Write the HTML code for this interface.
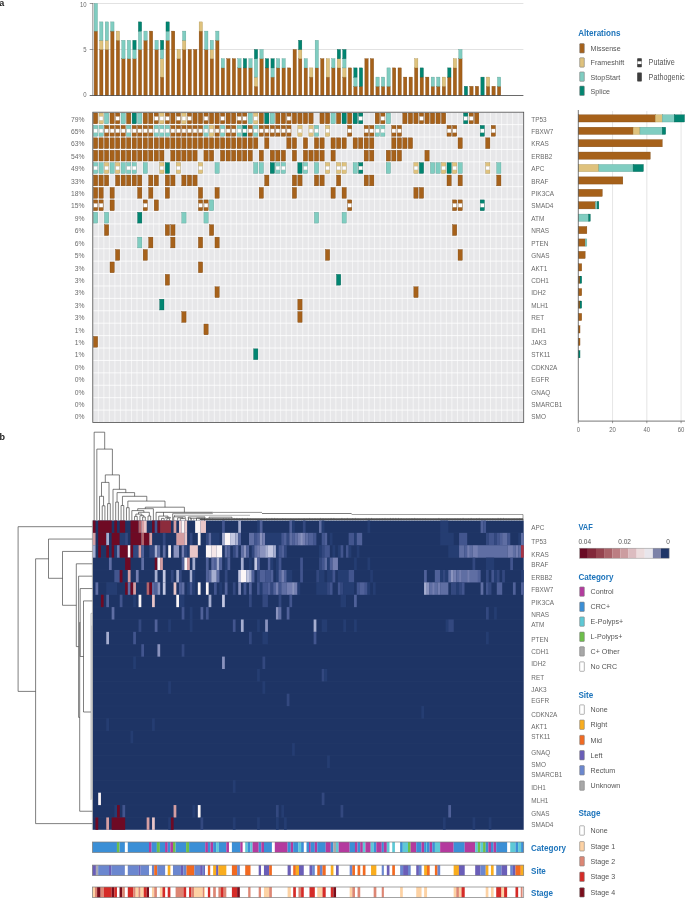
<!DOCTYPE html>
<html lang="en"><head><meta charset="utf-8"><title>Figure</title>
<style>html,body{margin:0;padding:0;background:#fff}svg{display:block}</style></head>
<body>
<svg width="685" height="898" viewBox="0 0 685 898" font-family='"Liberation Sans", sans-serif'>
<rect x="0" y="0" width="685" height="898" fill="#ffffff"/>
<text transform="translate(-0.80,6.00) scale(0.95,1)" font-size="9.5" text-anchor="start" fill="#222" font-weight="bold">a</text>
<text transform="translate(-0.50,440.00) scale(0.95,1)" font-size="9.5" text-anchor="start" fill="#222" font-weight="bold">b</text>
<line x1="92.85" y1="3.50" x2="523.40" y2="3.50" stroke="#cfcfcf" stroke-width="0.6"/>
<line x1="92.85" y1="49.50" x2="523.40" y2="49.50" stroke="#cfcfcf" stroke-width="0.6"/>
<rect x="94.16" y="31.10" width="3.30" height="64.40" fill="#a6611a" stroke="#7a4510" stroke-width="0.35"/>
<rect x="94.16" y="3.50" width="3.30" height="27.60" fill="#80cdc1" stroke="#5a9c92" stroke-width="0.35"/>
<rect x="99.69" y="49.50" width="3.30" height="46.00" fill="#a6611a" stroke="#7a4510" stroke-width="0.35"/>
<rect x="99.69" y="40.30" width="3.30" height="9.20" fill="#dfc27d" stroke="#a8904f" stroke-width="0.35"/>
<rect x="99.69" y="21.90" width="3.30" height="18.40" fill="#80cdc1" stroke="#5a9c92" stroke-width="0.35"/>
<rect x="105.21" y="49.50" width="3.30" height="46.00" fill="#a6611a" stroke="#7a4510" stroke-width="0.35"/>
<rect x="105.21" y="40.30" width="3.30" height="9.20" fill="#dfc27d" stroke="#a8904f" stroke-width="0.35"/>
<rect x="105.21" y="21.90" width="3.30" height="18.40" fill="#80cdc1" stroke="#5a9c92" stroke-width="0.35"/>
<rect x="110.74" y="31.10" width="3.30" height="64.40" fill="#a6611a" stroke="#7a4510" stroke-width="0.35"/>
<rect x="110.74" y="21.90" width="3.30" height="9.20" fill="#80cdc1" stroke="#5a9c92" stroke-width="0.35"/>
<rect x="116.26" y="40.30" width="3.30" height="55.20" fill="#a6611a" stroke="#7a4510" stroke-width="0.35"/>
<rect x="116.26" y="31.10" width="3.30" height="9.20" fill="#dfc27d" stroke="#a8904f" stroke-width="0.35"/>
<rect x="121.78" y="58.70" width="3.30" height="36.80" fill="#a6611a" stroke="#7a4510" stroke-width="0.35"/>
<rect x="121.78" y="40.30" width="3.30" height="18.40" fill="#80cdc1" stroke="#5a9c92" stroke-width="0.35"/>
<rect x="127.31" y="58.70" width="3.30" height="36.80" fill="#a6611a" stroke="#7a4510" stroke-width="0.35"/>
<rect x="127.31" y="40.30" width="3.30" height="18.40" fill="#80cdc1" stroke="#5a9c92" stroke-width="0.35"/>
<rect x="132.83" y="58.70" width="3.30" height="36.80" fill="#a6611a" stroke="#7a4510" stroke-width="0.35"/>
<rect x="132.83" y="49.50" width="3.30" height="9.20" fill="#80cdc1" stroke="#5a9c92" stroke-width="0.35"/>
<rect x="132.83" y="40.30" width="3.30" height="9.20" fill="#018571" stroke="#015c4e" stroke-width="0.35"/>
<rect x="138.36" y="49.50" width="3.30" height="46.00" fill="#a6611a" stroke="#7a4510" stroke-width="0.35"/>
<rect x="138.36" y="31.10" width="3.30" height="18.40" fill="#80cdc1" stroke="#5a9c92" stroke-width="0.35"/>
<rect x="138.36" y="21.90" width="3.30" height="9.20" fill="#018571" stroke="#015c4e" stroke-width="0.35"/>
<rect x="143.88" y="40.30" width="3.30" height="55.20" fill="#a6611a" stroke="#7a4510" stroke-width="0.35"/>
<rect x="143.88" y="31.10" width="3.30" height="9.20" fill="#80cdc1" stroke="#5a9c92" stroke-width="0.35"/>
<rect x="149.41" y="31.10" width="3.30" height="64.40" fill="#a6611a" stroke="#7a4510" stroke-width="0.35"/>
<rect x="154.93" y="49.50" width="3.30" height="46.00" fill="#a6611a" stroke="#7a4510" stroke-width="0.35"/>
<rect x="154.93" y="40.30" width="3.30" height="9.20" fill="#80cdc1" stroke="#5a9c92" stroke-width="0.35"/>
<rect x="160.45" y="77.10" width="3.30" height="18.40" fill="#a6611a" stroke="#7a4510" stroke-width="0.35"/>
<rect x="160.45" y="58.70" width="3.30" height="18.40" fill="#dfc27d" stroke="#a8904f" stroke-width="0.35"/>
<rect x="160.45" y="49.50" width="3.30" height="9.20" fill="#80cdc1" stroke="#5a9c92" stroke-width="0.35"/>
<rect x="160.45" y="40.30" width="3.30" height="9.20" fill="#018571" stroke="#015c4e" stroke-width="0.35"/>
<rect x="165.98" y="40.30" width="3.30" height="55.20" fill="#a6611a" stroke="#7a4510" stroke-width="0.35"/>
<rect x="165.98" y="31.10" width="3.30" height="9.20" fill="#80cdc1" stroke="#5a9c92" stroke-width="0.35"/>
<rect x="165.98" y="21.90" width="3.30" height="9.20" fill="#018571" stroke="#015c4e" stroke-width="0.35"/>
<rect x="171.50" y="31.10" width="3.30" height="64.40" fill="#a6611a" stroke="#7a4510" stroke-width="0.35"/>
<rect x="177.03" y="58.70" width="3.30" height="36.80" fill="#a6611a" stroke="#7a4510" stroke-width="0.35"/>
<rect x="177.03" y="49.50" width="3.30" height="9.20" fill="#dfc27d" stroke="#a8904f" stroke-width="0.35"/>
<rect x="182.55" y="49.50" width="3.30" height="46.00" fill="#a6611a" stroke="#7a4510" stroke-width="0.35"/>
<rect x="182.55" y="40.30" width="3.30" height="9.20" fill="#dfc27d" stroke="#a8904f" stroke-width="0.35"/>
<rect x="182.55" y="31.10" width="3.30" height="9.20" fill="#80cdc1" stroke="#5a9c92" stroke-width="0.35"/>
<rect x="188.08" y="49.50" width="3.30" height="46.00" fill="#a6611a" stroke="#7a4510" stroke-width="0.35"/>
<rect x="193.60" y="49.50" width="3.30" height="46.00" fill="#a6611a" stroke="#7a4510" stroke-width="0.35"/>
<rect x="199.13" y="31.10" width="3.30" height="64.40" fill="#a6611a" stroke="#7a4510" stroke-width="0.35"/>
<rect x="199.13" y="21.90" width="3.30" height="9.20" fill="#dfc27d" stroke="#a8904f" stroke-width="0.35"/>
<rect x="204.65" y="49.50" width="3.30" height="46.00" fill="#a6611a" stroke="#7a4510" stroke-width="0.35"/>
<rect x="204.65" y="31.10" width="3.30" height="18.40" fill="#80cdc1" stroke="#5a9c92" stroke-width="0.35"/>
<rect x="210.17" y="58.70" width="3.30" height="36.80" fill="#a6611a" stroke="#7a4510" stroke-width="0.35"/>
<rect x="210.17" y="49.50" width="3.30" height="9.20" fill="#dfc27d" stroke="#a8904f" stroke-width="0.35"/>
<rect x="210.17" y="40.30" width="3.30" height="9.20" fill="#80cdc1" stroke="#5a9c92" stroke-width="0.35"/>
<rect x="215.70" y="40.30" width="3.30" height="55.20" fill="#a6611a" stroke="#7a4510" stroke-width="0.35"/>
<rect x="215.70" y="31.10" width="3.30" height="9.20" fill="#80cdc1" stroke="#5a9c92" stroke-width="0.35"/>
<rect x="221.22" y="67.90" width="3.30" height="27.60" fill="#a6611a" stroke="#7a4510" stroke-width="0.35"/>
<rect x="221.22" y="58.70" width="3.30" height="9.20" fill="#80cdc1" stroke="#5a9c92" stroke-width="0.35"/>
<rect x="226.75" y="58.70" width="3.30" height="36.80" fill="#a6611a" stroke="#7a4510" stroke-width="0.35"/>
<rect x="232.27" y="58.70" width="3.30" height="36.80" fill="#a6611a" stroke="#7a4510" stroke-width="0.35"/>
<rect x="237.80" y="67.90" width="3.30" height="27.60" fill="#a6611a" stroke="#7a4510" stroke-width="0.35"/>
<rect x="237.80" y="58.70" width="3.30" height="9.20" fill="#80cdc1" stroke="#5a9c92" stroke-width="0.35"/>
<rect x="243.32" y="67.90" width="3.30" height="27.60" fill="#a6611a" stroke="#7a4510" stroke-width="0.35"/>
<rect x="243.32" y="58.70" width="3.30" height="9.20" fill="#018571" stroke="#015c4e" stroke-width="0.35"/>
<rect x="248.84" y="67.90" width="3.30" height="27.60" fill="#a6611a" stroke="#7a4510" stroke-width="0.35"/>
<rect x="248.84" y="58.70" width="3.30" height="9.20" fill="#80cdc1" stroke="#5a9c92" stroke-width="0.35"/>
<rect x="254.37" y="86.30" width="3.30" height="9.20" fill="#a6611a" stroke="#7a4510" stroke-width="0.35"/>
<rect x="254.37" y="77.10" width="3.30" height="9.20" fill="#dfc27d" stroke="#a8904f" stroke-width="0.35"/>
<rect x="254.37" y="58.70" width="3.30" height="18.40" fill="#80cdc1" stroke="#5a9c92" stroke-width="0.35"/>
<rect x="254.37" y="49.50" width="3.30" height="9.20" fill="#018571" stroke="#015c4e" stroke-width="0.35"/>
<rect x="259.89" y="58.70" width="3.30" height="36.80" fill="#a6611a" stroke="#7a4510" stroke-width="0.35"/>
<rect x="259.89" y="49.50" width="3.30" height="9.20" fill="#80cdc1" stroke="#5a9c92" stroke-width="0.35"/>
<rect x="265.42" y="67.90" width="3.30" height="27.60" fill="#a6611a" stroke="#7a4510" stroke-width="0.35"/>
<rect x="265.42" y="58.70" width="3.30" height="9.20" fill="#018571" stroke="#015c4e" stroke-width="0.35"/>
<rect x="270.94" y="77.10" width="3.30" height="18.40" fill="#a6611a" stroke="#7a4510" stroke-width="0.35"/>
<rect x="270.94" y="67.90" width="3.30" height="9.20" fill="#80cdc1" stroke="#5a9c92" stroke-width="0.35"/>
<rect x="270.94" y="58.70" width="3.30" height="9.20" fill="#018571" stroke="#015c4e" stroke-width="0.35"/>
<rect x="276.47" y="67.90" width="3.30" height="27.60" fill="#a6611a" stroke="#7a4510" stroke-width="0.35"/>
<rect x="276.47" y="58.70" width="3.30" height="9.20" fill="#80cdc1" stroke="#5a9c92" stroke-width="0.35"/>
<rect x="281.99" y="67.90" width="3.30" height="27.60" fill="#a6611a" stroke="#7a4510" stroke-width="0.35"/>
<rect x="281.99" y="58.70" width="3.30" height="9.20" fill="#80cdc1" stroke="#5a9c92" stroke-width="0.35"/>
<rect x="287.51" y="67.90" width="3.30" height="27.60" fill="#a6611a" stroke="#7a4510" stroke-width="0.35"/>
<rect x="293.04" y="49.50" width="3.30" height="46.00" fill="#a6611a" stroke="#7a4510" stroke-width="0.35"/>
<rect x="298.56" y="58.70" width="3.30" height="36.80" fill="#a6611a" stroke="#7a4510" stroke-width="0.35"/>
<rect x="298.56" y="49.50" width="3.30" height="9.20" fill="#dfc27d" stroke="#a8904f" stroke-width="0.35"/>
<rect x="298.56" y="40.30" width="3.30" height="9.20" fill="#018571" stroke="#015c4e" stroke-width="0.35"/>
<rect x="304.09" y="67.90" width="3.30" height="27.60" fill="#a6611a" stroke="#7a4510" stroke-width="0.35"/>
<rect x="304.09" y="58.70" width="3.30" height="9.20" fill="#80cdc1" stroke="#5a9c92" stroke-width="0.35"/>
<rect x="309.61" y="77.10" width="3.30" height="18.40" fill="#a6611a" stroke="#7a4510" stroke-width="0.35"/>
<rect x="309.61" y="67.90" width="3.30" height="9.20" fill="#dfc27d" stroke="#a8904f" stroke-width="0.35"/>
<rect x="315.14" y="67.90" width="3.30" height="27.60" fill="#a6611a" stroke="#7a4510" stroke-width="0.35"/>
<rect x="315.14" y="40.30" width="3.30" height="27.60" fill="#80cdc1" stroke="#5a9c92" stroke-width="0.35"/>
<rect x="320.66" y="58.70" width="3.30" height="36.80" fill="#a6611a" stroke="#7a4510" stroke-width="0.35"/>
<rect x="326.19" y="77.10" width="3.30" height="18.40" fill="#a6611a" stroke="#7a4510" stroke-width="0.35"/>
<rect x="326.19" y="58.70" width="3.30" height="18.40" fill="#dfc27d" stroke="#a8904f" stroke-width="0.35"/>
<rect x="331.71" y="67.90" width="3.30" height="27.60" fill="#a6611a" stroke="#7a4510" stroke-width="0.35"/>
<rect x="331.71" y="58.70" width="3.30" height="9.20" fill="#80cdc1" stroke="#5a9c92" stroke-width="0.35"/>
<rect x="337.23" y="67.90" width="3.30" height="27.60" fill="#a6611a" stroke="#7a4510" stroke-width="0.35"/>
<rect x="337.23" y="58.70" width="3.30" height="9.20" fill="#dfc27d" stroke="#a8904f" stroke-width="0.35"/>
<rect x="337.23" y="49.50" width="3.30" height="9.20" fill="#018571" stroke="#015c4e" stroke-width="0.35"/>
<rect x="342.76" y="77.10" width="3.30" height="18.40" fill="#a6611a" stroke="#7a4510" stroke-width="0.35"/>
<rect x="342.76" y="67.90" width="3.30" height="9.20" fill="#dfc27d" stroke="#a8904f" stroke-width="0.35"/>
<rect x="342.76" y="58.70" width="3.30" height="9.20" fill="#80cdc1" stroke="#5a9c92" stroke-width="0.35"/>
<rect x="342.76" y="49.50" width="3.30" height="9.20" fill="#018571" stroke="#015c4e" stroke-width="0.35"/>
<rect x="348.28" y="67.90" width="3.30" height="27.60" fill="#a6611a" stroke="#7a4510" stroke-width="0.35"/>
<rect x="353.81" y="86.30" width="3.30" height="9.20" fill="#a6611a" stroke="#7a4510" stroke-width="0.35"/>
<rect x="353.81" y="77.10" width="3.30" height="9.20" fill="#80cdc1" stroke="#5a9c92" stroke-width="0.35"/>
<rect x="353.81" y="67.90" width="3.30" height="9.20" fill="#018571" stroke="#015c4e" stroke-width="0.35"/>
<rect x="359.33" y="86.30" width="3.30" height="9.20" fill="#a6611a" stroke="#7a4510" stroke-width="0.35"/>
<rect x="359.33" y="67.90" width="3.30" height="18.40" fill="#018571" stroke="#015c4e" stroke-width="0.35"/>
<rect x="364.86" y="58.70" width="3.30" height="36.80" fill="#a6611a" stroke="#7a4510" stroke-width="0.35"/>
<rect x="370.38" y="58.70" width="3.30" height="36.80" fill="#a6611a" stroke="#7a4510" stroke-width="0.35"/>
<rect x="375.90" y="86.30" width="3.30" height="9.20" fill="#a6611a" stroke="#7a4510" stroke-width="0.35"/>
<rect x="375.90" y="77.10" width="3.30" height="9.20" fill="#80cdc1" stroke="#5a9c92" stroke-width="0.35"/>
<rect x="381.43" y="86.30" width="3.30" height="9.20" fill="#a6611a" stroke="#7a4510" stroke-width="0.35"/>
<rect x="381.43" y="77.10" width="3.30" height="9.20" fill="#80cdc1" stroke="#5a9c92" stroke-width="0.35"/>
<rect x="386.95" y="86.30" width="3.30" height="9.20" fill="#a6611a" stroke="#7a4510" stroke-width="0.35"/>
<rect x="386.95" y="67.90" width="3.30" height="18.40" fill="#80cdc1" stroke="#5a9c92" stroke-width="0.35"/>
<rect x="392.48" y="67.90" width="3.30" height="27.60" fill="#a6611a" stroke="#7a4510" stroke-width="0.35"/>
<rect x="398.00" y="67.90" width="3.30" height="27.60" fill="#a6611a" stroke="#7a4510" stroke-width="0.35"/>
<rect x="403.53" y="77.10" width="3.30" height="18.40" fill="#a6611a" stroke="#7a4510" stroke-width="0.35"/>
<rect x="409.05" y="77.10" width="3.30" height="18.40" fill="#a6611a" stroke="#7a4510" stroke-width="0.35"/>
<rect x="414.58" y="67.90" width="3.30" height="27.60" fill="#a6611a" stroke="#7a4510" stroke-width="0.35"/>
<rect x="414.58" y="58.70" width="3.30" height="9.20" fill="#dfc27d" stroke="#a8904f" stroke-width="0.35"/>
<rect x="420.10" y="77.10" width="3.30" height="18.40" fill="#a6611a" stroke="#7a4510" stroke-width="0.35"/>
<rect x="420.10" y="67.90" width="3.30" height="9.20" fill="#018571" stroke="#015c4e" stroke-width="0.35"/>
<rect x="425.62" y="77.10" width="3.30" height="18.40" fill="#a6611a" stroke="#7a4510" stroke-width="0.35"/>
<rect x="431.15" y="86.30" width="3.30" height="9.20" fill="#a6611a" stroke="#7a4510" stroke-width="0.35"/>
<rect x="431.15" y="77.10" width="3.30" height="9.20" fill="#80cdc1" stroke="#5a9c92" stroke-width="0.35"/>
<rect x="436.67" y="86.30" width="3.30" height="9.20" fill="#a6611a" stroke="#7a4510" stroke-width="0.35"/>
<rect x="436.67" y="77.10" width="3.30" height="9.20" fill="#80cdc1" stroke="#5a9c92" stroke-width="0.35"/>
<rect x="442.20" y="86.30" width="3.30" height="9.20" fill="#a6611a" stroke="#7a4510" stroke-width="0.35"/>
<rect x="442.20" y="77.10" width="3.30" height="9.20" fill="#dfc27d" stroke="#a8904f" stroke-width="0.35"/>
<rect x="447.72" y="77.10" width="3.30" height="18.40" fill="#a6611a" stroke="#7a4510" stroke-width="0.35"/>
<rect x="447.72" y="67.90" width="3.30" height="9.20" fill="#018571" stroke="#015c4e" stroke-width="0.35"/>
<rect x="453.25" y="67.90" width="3.30" height="27.60" fill="#a6611a" stroke="#7a4510" stroke-width="0.35"/>
<rect x="453.25" y="58.70" width="3.30" height="9.20" fill="#dfc27d" stroke="#a8904f" stroke-width="0.35"/>
<rect x="458.77" y="58.70" width="3.30" height="36.80" fill="#a6611a" stroke="#7a4510" stroke-width="0.35"/>
<rect x="458.77" y="49.50" width="3.30" height="9.20" fill="#80cdc1" stroke="#5a9c92" stroke-width="0.35"/>
<rect x="464.29" y="86.30" width="3.30" height="9.20" fill="#018571" stroke="#015c4e" stroke-width="0.35"/>
<rect x="469.82" y="86.30" width="3.30" height="9.20" fill="#a6611a" stroke="#7a4510" stroke-width="0.35"/>
<rect x="475.34" y="86.30" width="3.30" height="9.20" fill="#a6611a" stroke="#7a4510" stroke-width="0.35"/>
<rect x="480.87" y="77.10" width="3.30" height="18.40" fill="#018571" stroke="#015c4e" stroke-width="0.35"/>
<rect x="486.39" y="86.30" width="3.30" height="9.20" fill="#a6611a" stroke="#7a4510" stroke-width="0.35"/>
<rect x="486.39" y="77.10" width="3.30" height="9.20" fill="#dfc27d" stroke="#a8904f" stroke-width="0.35"/>
<rect x="491.92" y="86.30" width="3.30" height="9.20" fill="#a6611a" stroke="#7a4510" stroke-width="0.35"/>
<rect x="497.44" y="86.30" width="3.30" height="9.20" fill="#a6611a" stroke="#7a4510" stroke-width="0.35"/>
<rect x="497.44" y="77.10" width="3.30" height="9.20" fill="#80cdc1" stroke="#5a9c92" stroke-width="0.35"/>
<line x1="92.85" y1="3.00" x2="92.85" y2="95.50" stroke="#555" stroke-width="0.7"/>
<line x1="89.70" y1="95.50" x2="523.40" y2="95.50" stroke="#444" stroke-width="0.8"/>
<line x1="89.70" y1="3.50" x2="92.85" y2="3.50" stroke="#555" stroke-width="0.6"/>
<line x1="89.70" y1="49.50" x2="92.85" y2="49.50" stroke="#555" stroke-width="0.6"/>
<text transform="translate(86.60,6.60) scale(0.88,1)" font-size="6.8" text-anchor="end" fill="#6b6b6b" font-weight="normal">10</text>
<text transform="translate(86.60,52.00) scale(0.88,1)" font-size="6.8" text-anchor="end" fill="#6b6b6b" font-weight="normal">5</text>
<text transform="translate(86.60,97.30) scale(0.88,1)" font-size="6.8" text-anchor="end" fill="#6b6b6b" font-weight="normal">0</text>
<rect x="92.80" y="112.20" width="430.90" height="310.30" fill="#e7e7e9"/>
<line x1="92.80" y1="112.20" x2="92.80" y2="422.50" stroke="#ffffff" stroke-width="0.6"/>
<line x1="98.32" y1="112.20" x2="98.32" y2="422.50" stroke="#ffffff" stroke-width="0.6"/>
<line x1="103.85" y1="112.20" x2="103.85" y2="422.50" stroke="#ffffff" stroke-width="0.6"/>
<line x1="109.37" y1="112.20" x2="109.37" y2="422.50" stroke="#ffffff" stroke-width="0.6"/>
<line x1="114.90" y1="112.20" x2="114.90" y2="422.50" stroke="#ffffff" stroke-width="0.6"/>
<line x1="120.42" y1="112.20" x2="120.42" y2="422.50" stroke="#ffffff" stroke-width="0.6"/>
<line x1="125.95" y1="112.20" x2="125.95" y2="422.50" stroke="#ffffff" stroke-width="0.6"/>
<line x1="131.47" y1="112.20" x2="131.47" y2="422.50" stroke="#ffffff" stroke-width="0.6"/>
<line x1="136.99" y1="112.20" x2="136.99" y2="422.50" stroke="#ffffff" stroke-width="0.6"/>
<line x1="142.52" y1="112.20" x2="142.52" y2="422.50" stroke="#ffffff" stroke-width="0.6"/>
<line x1="148.04" y1="112.20" x2="148.04" y2="422.50" stroke="#ffffff" stroke-width="0.6"/>
<line x1="153.57" y1="112.20" x2="153.57" y2="422.50" stroke="#ffffff" stroke-width="0.6"/>
<line x1="159.09" y1="112.20" x2="159.09" y2="422.50" stroke="#ffffff" stroke-width="0.6"/>
<line x1="164.62" y1="112.20" x2="164.62" y2="422.50" stroke="#ffffff" stroke-width="0.6"/>
<line x1="170.14" y1="112.20" x2="170.14" y2="422.50" stroke="#ffffff" stroke-width="0.6"/>
<line x1="175.67" y1="112.20" x2="175.67" y2="422.50" stroke="#ffffff" stroke-width="0.6"/>
<line x1="181.19" y1="112.20" x2="181.19" y2="422.50" stroke="#ffffff" stroke-width="0.6"/>
<line x1="186.71" y1="112.20" x2="186.71" y2="422.50" stroke="#ffffff" stroke-width="0.6"/>
<line x1="192.24" y1="112.20" x2="192.24" y2="422.50" stroke="#ffffff" stroke-width="0.6"/>
<line x1="197.76" y1="112.20" x2="197.76" y2="422.50" stroke="#ffffff" stroke-width="0.6"/>
<line x1="203.29" y1="112.20" x2="203.29" y2="422.50" stroke="#ffffff" stroke-width="0.6"/>
<line x1="208.81" y1="112.20" x2="208.81" y2="422.50" stroke="#ffffff" stroke-width="0.6"/>
<line x1="214.34" y1="112.20" x2="214.34" y2="422.50" stroke="#ffffff" stroke-width="0.6"/>
<line x1="219.86" y1="112.20" x2="219.86" y2="422.50" stroke="#ffffff" stroke-width="0.6"/>
<line x1="225.38" y1="112.20" x2="225.38" y2="422.50" stroke="#ffffff" stroke-width="0.6"/>
<line x1="230.91" y1="112.20" x2="230.91" y2="422.50" stroke="#ffffff" stroke-width="0.6"/>
<line x1="236.43" y1="112.20" x2="236.43" y2="422.50" stroke="#ffffff" stroke-width="0.6"/>
<line x1="241.96" y1="112.20" x2="241.96" y2="422.50" stroke="#ffffff" stroke-width="0.6"/>
<line x1="247.48" y1="112.20" x2="247.48" y2="422.50" stroke="#ffffff" stroke-width="0.6"/>
<line x1="253.01" y1="112.20" x2="253.01" y2="422.50" stroke="#ffffff" stroke-width="0.6"/>
<line x1="258.53" y1="112.20" x2="258.53" y2="422.50" stroke="#ffffff" stroke-width="0.6"/>
<line x1="264.06" y1="112.20" x2="264.06" y2="422.50" stroke="#ffffff" stroke-width="0.6"/>
<line x1="269.58" y1="112.20" x2="269.58" y2="422.50" stroke="#ffffff" stroke-width="0.6"/>
<line x1="275.10" y1="112.20" x2="275.10" y2="422.50" stroke="#ffffff" stroke-width="0.6"/>
<line x1="280.63" y1="112.20" x2="280.63" y2="422.50" stroke="#ffffff" stroke-width="0.6"/>
<line x1="286.15" y1="112.20" x2="286.15" y2="422.50" stroke="#ffffff" stroke-width="0.6"/>
<line x1="291.68" y1="112.20" x2="291.68" y2="422.50" stroke="#ffffff" stroke-width="0.6"/>
<line x1="297.20" y1="112.20" x2="297.20" y2="422.50" stroke="#ffffff" stroke-width="0.6"/>
<line x1="302.73" y1="112.20" x2="302.73" y2="422.50" stroke="#ffffff" stroke-width="0.6"/>
<line x1="308.25" y1="112.20" x2="308.25" y2="422.50" stroke="#ffffff" stroke-width="0.6"/>
<line x1="313.77" y1="112.20" x2="313.77" y2="422.50" stroke="#ffffff" stroke-width="0.6"/>
<line x1="319.30" y1="112.20" x2="319.30" y2="422.50" stroke="#ffffff" stroke-width="0.6"/>
<line x1="324.82" y1="112.20" x2="324.82" y2="422.50" stroke="#ffffff" stroke-width="0.6"/>
<line x1="330.35" y1="112.20" x2="330.35" y2="422.50" stroke="#ffffff" stroke-width="0.6"/>
<line x1="335.87" y1="112.20" x2="335.87" y2="422.50" stroke="#ffffff" stroke-width="0.6"/>
<line x1="341.40" y1="112.20" x2="341.40" y2="422.50" stroke="#ffffff" stroke-width="0.6"/>
<line x1="346.92" y1="112.20" x2="346.92" y2="422.50" stroke="#ffffff" stroke-width="0.6"/>
<line x1="352.44" y1="112.20" x2="352.44" y2="422.50" stroke="#ffffff" stroke-width="0.6"/>
<line x1="357.97" y1="112.20" x2="357.97" y2="422.50" stroke="#ffffff" stroke-width="0.6"/>
<line x1="363.49" y1="112.20" x2="363.49" y2="422.50" stroke="#ffffff" stroke-width="0.6"/>
<line x1="369.02" y1="112.20" x2="369.02" y2="422.50" stroke="#ffffff" stroke-width="0.6"/>
<line x1="374.54" y1="112.20" x2="374.54" y2="422.50" stroke="#ffffff" stroke-width="0.6"/>
<line x1="380.07" y1="112.20" x2="380.07" y2="422.50" stroke="#ffffff" stroke-width="0.6"/>
<line x1="385.59" y1="112.20" x2="385.59" y2="422.50" stroke="#ffffff" stroke-width="0.6"/>
<line x1="391.12" y1="112.20" x2="391.12" y2="422.50" stroke="#ffffff" stroke-width="0.6"/>
<line x1="396.64" y1="112.20" x2="396.64" y2="422.50" stroke="#ffffff" stroke-width="0.6"/>
<line x1="402.16" y1="112.20" x2="402.16" y2="422.50" stroke="#ffffff" stroke-width="0.6"/>
<line x1="407.69" y1="112.20" x2="407.69" y2="422.50" stroke="#ffffff" stroke-width="0.6"/>
<line x1="413.21" y1="112.20" x2="413.21" y2="422.50" stroke="#ffffff" stroke-width="0.6"/>
<line x1="418.74" y1="112.20" x2="418.74" y2="422.50" stroke="#ffffff" stroke-width="0.6"/>
<line x1="424.26" y1="112.20" x2="424.26" y2="422.50" stroke="#ffffff" stroke-width="0.6"/>
<line x1="429.79" y1="112.20" x2="429.79" y2="422.50" stroke="#ffffff" stroke-width="0.6"/>
<line x1="435.31" y1="112.20" x2="435.31" y2="422.50" stroke="#ffffff" stroke-width="0.6"/>
<line x1="440.83" y1="112.20" x2="440.83" y2="422.50" stroke="#ffffff" stroke-width="0.6"/>
<line x1="446.36" y1="112.20" x2="446.36" y2="422.50" stroke="#ffffff" stroke-width="0.6"/>
<line x1="451.88" y1="112.20" x2="451.88" y2="422.50" stroke="#ffffff" stroke-width="0.6"/>
<line x1="457.41" y1="112.20" x2="457.41" y2="422.50" stroke="#ffffff" stroke-width="0.6"/>
<line x1="462.93" y1="112.20" x2="462.93" y2="422.50" stroke="#ffffff" stroke-width="0.6"/>
<line x1="468.46" y1="112.20" x2="468.46" y2="422.50" stroke="#ffffff" stroke-width="0.6"/>
<line x1="473.98" y1="112.20" x2="473.98" y2="422.50" stroke="#ffffff" stroke-width="0.6"/>
<line x1="479.51" y1="112.20" x2="479.51" y2="422.50" stroke="#ffffff" stroke-width="0.6"/>
<line x1="485.03" y1="112.20" x2="485.03" y2="422.50" stroke="#ffffff" stroke-width="0.6"/>
<line x1="490.55" y1="112.20" x2="490.55" y2="422.50" stroke="#ffffff" stroke-width="0.6"/>
<line x1="496.08" y1="112.20" x2="496.08" y2="422.50" stroke="#ffffff" stroke-width="0.6"/>
<line x1="501.60" y1="112.20" x2="501.60" y2="422.50" stroke="#ffffff" stroke-width="0.6"/>
<line x1="507.13" y1="112.20" x2="507.13" y2="422.50" stroke="#ffffff" stroke-width="0.6"/>
<line x1="512.65" y1="112.20" x2="512.65" y2="422.50" stroke="#ffffff" stroke-width="0.6"/>
<line x1="518.18" y1="112.20" x2="518.18" y2="422.50" stroke="#ffffff" stroke-width="0.6"/>
<line x1="523.70" y1="112.20" x2="523.70" y2="422.50" stroke="#ffffff" stroke-width="0.6"/>
<line x1="92.80" y1="112.20" x2="523.70" y2="112.20" stroke="#ffffff" stroke-width="0.8"/>
<line x1="92.80" y1="124.61" x2="523.70" y2="124.61" stroke="#ffffff" stroke-width="0.8"/>
<line x1="92.80" y1="137.02" x2="523.70" y2="137.02" stroke="#ffffff" stroke-width="0.8"/>
<line x1="92.80" y1="149.44" x2="523.70" y2="149.44" stroke="#ffffff" stroke-width="0.8"/>
<line x1="92.80" y1="161.85" x2="523.70" y2="161.85" stroke="#ffffff" stroke-width="0.8"/>
<line x1="92.80" y1="174.26" x2="523.70" y2="174.26" stroke="#ffffff" stroke-width="0.8"/>
<line x1="92.80" y1="186.67" x2="523.70" y2="186.67" stroke="#ffffff" stroke-width="0.8"/>
<line x1="92.80" y1="199.08" x2="523.70" y2="199.08" stroke="#ffffff" stroke-width="0.8"/>
<line x1="92.80" y1="211.50" x2="523.70" y2="211.50" stroke="#ffffff" stroke-width="0.8"/>
<line x1="92.80" y1="223.91" x2="523.70" y2="223.91" stroke="#ffffff" stroke-width="0.8"/>
<line x1="92.80" y1="236.32" x2="523.70" y2="236.32" stroke="#ffffff" stroke-width="0.8"/>
<line x1="92.80" y1="248.73" x2="523.70" y2="248.73" stroke="#ffffff" stroke-width="0.8"/>
<line x1="92.80" y1="261.14" x2="523.70" y2="261.14" stroke="#ffffff" stroke-width="0.8"/>
<line x1="92.80" y1="273.56" x2="523.70" y2="273.56" stroke="#ffffff" stroke-width="0.8"/>
<line x1="92.80" y1="285.97" x2="523.70" y2="285.97" stroke="#ffffff" stroke-width="0.8"/>
<line x1="92.80" y1="298.38" x2="523.70" y2="298.38" stroke="#ffffff" stroke-width="0.8"/>
<line x1="92.80" y1="310.79" x2="523.70" y2="310.79" stroke="#ffffff" stroke-width="0.8"/>
<line x1="92.80" y1="323.20" x2="523.70" y2="323.20" stroke="#ffffff" stroke-width="0.8"/>
<line x1="92.80" y1="335.62" x2="523.70" y2="335.62" stroke="#ffffff" stroke-width="0.8"/>
<line x1="92.80" y1="348.03" x2="523.70" y2="348.03" stroke="#ffffff" stroke-width="0.8"/>
<line x1="92.80" y1="360.44" x2="523.70" y2="360.44" stroke="#ffffff" stroke-width="0.8"/>
<line x1="92.80" y1="372.85" x2="523.70" y2="372.85" stroke="#ffffff" stroke-width="0.8"/>
<line x1="92.80" y1="385.26" x2="523.70" y2="385.26" stroke="#ffffff" stroke-width="0.8"/>
<line x1="92.80" y1="397.68" x2="523.70" y2="397.68" stroke="#ffffff" stroke-width="0.8"/>
<line x1="92.80" y1="410.09" x2="523.70" y2="410.09" stroke="#ffffff" stroke-width="0.8"/>
<line x1="92.80" y1="422.50" x2="523.70" y2="422.50" stroke="#ffffff" stroke-width="0.8"/>
<rect x="93.42" y="113.02" width="4.27" height="10.76" fill="#a6611a" stroke="#7a4510" stroke-width="0.35"/>
<rect x="98.95" y="113.02" width="4.27" height="10.76" fill="#dfc27d" stroke="#a8904f" stroke-width="0.35"/>
<rect x="99.20" y="116.56" width="3.77" height="3.70" fill="#ffffff" stroke="#b9b9b9" stroke-width="0.3"/>
<rect x="104.47" y="113.02" width="4.27" height="10.76" fill="#80cdc1" stroke="#5a9c92" stroke-width="0.35"/>
<rect x="110.00" y="113.02" width="4.27" height="10.76" fill="#a6611a" stroke="#7a4510" stroke-width="0.35"/>
<rect x="115.52" y="113.02" width="4.27" height="10.76" fill="#a6611a" stroke="#7a4510" stroke-width="0.35"/>
<rect x="115.77" y="116.56" width="3.77" height="3.70" fill="#ffffff" stroke="#b9b9b9" stroke-width="0.3"/>
<rect x="121.05" y="113.02" width="4.27" height="10.76" fill="#80cdc1" stroke="#5a9c92" stroke-width="0.35"/>
<rect x="126.57" y="113.02" width="4.27" height="10.76" fill="#a6611a" stroke="#7a4510" stroke-width="0.35"/>
<rect x="132.10" y="113.02" width="4.27" height="10.76" fill="#018571" stroke="#015c4e" stroke-width="0.35"/>
<rect x="137.62" y="113.02" width="4.27" height="10.76" fill="#80cdc1" stroke="#5a9c92" stroke-width="0.35"/>
<rect x="143.14" y="113.02" width="4.27" height="10.76" fill="#a6611a" stroke="#7a4510" stroke-width="0.35"/>
<rect x="148.67" y="113.02" width="4.27" height="10.76" fill="#a6611a" stroke="#7a4510" stroke-width="0.35"/>
<rect x="154.19" y="113.02" width="4.27" height="10.76" fill="#a6611a" stroke="#7a4510" stroke-width="0.35"/>
<rect x="154.44" y="116.56" width="3.77" height="3.70" fill="#ffffff" stroke="#b9b9b9" stroke-width="0.3"/>
<rect x="159.72" y="113.02" width="4.27" height="10.76" fill="#dfc27d" stroke="#a8904f" stroke-width="0.35"/>
<rect x="159.97" y="116.56" width="3.77" height="3.70" fill="#ffffff" stroke="#b9b9b9" stroke-width="0.3"/>
<rect x="165.24" y="113.02" width="4.27" height="10.76" fill="#a6611a" stroke="#7a4510" stroke-width="0.35"/>
<rect x="165.49" y="116.56" width="3.77" height="3.70" fill="#ffffff" stroke="#b9b9b9" stroke-width="0.3"/>
<rect x="170.77" y="113.02" width="4.27" height="10.76" fill="#a6611a" stroke="#7a4510" stroke-width="0.35"/>
<rect x="176.29" y="113.02" width="4.27" height="10.76" fill="#a6611a" stroke="#7a4510" stroke-width="0.35"/>
<rect x="176.54" y="116.56" width="3.77" height="3.70" fill="#ffffff" stroke="#b9b9b9" stroke-width="0.3"/>
<rect x="181.81" y="113.02" width="4.27" height="10.76" fill="#dfc27d" stroke="#a8904f" stroke-width="0.35"/>
<rect x="182.06" y="116.56" width="3.77" height="3.70" fill="#ffffff" stroke="#b9b9b9" stroke-width="0.3"/>
<rect x="187.34" y="113.02" width="4.27" height="10.76" fill="#a6611a" stroke="#7a4510" stroke-width="0.35"/>
<rect x="187.59" y="116.56" width="3.77" height="3.70" fill="#ffffff" stroke="#b9b9b9" stroke-width="0.3"/>
<rect x="192.86" y="113.02" width="4.27" height="10.76" fill="#a6611a" stroke="#7a4510" stroke-width="0.35"/>
<rect x="198.39" y="113.02" width="4.27" height="10.76" fill="#a6611a" stroke="#7a4510" stroke-width="0.35"/>
<rect x="203.91" y="113.02" width="4.27" height="10.76" fill="#a6611a" stroke="#7a4510" stroke-width="0.35"/>
<rect x="204.16" y="116.56" width="3.77" height="3.70" fill="#ffffff" stroke="#b9b9b9" stroke-width="0.3"/>
<rect x="209.44" y="113.02" width="4.27" height="10.76" fill="#a6611a" stroke="#7a4510" stroke-width="0.35"/>
<rect x="214.96" y="113.02" width="4.27" height="10.76" fill="#a6611a" stroke="#7a4510" stroke-width="0.35"/>
<rect x="220.49" y="113.02" width="4.27" height="10.76" fill="#a6611a" stroke="#7a4510" stroke-width="0.35"/>
<rect x="220.74" y="116.56" width="3.77" height="3.70" fill="#ffffff" stroke="#b9b9b9" stroke-width="0.3"/>
<rect x="226.01" y="113.02" width="4.27" height="10.76" fill="#a6611a" stroke="#7a4510" stroke-width="0.35"/>
<rect x="231.53" y="113.02" width="4.27" height="10.76" fill="#a6611a" stroke="#7a4510" stroke-width="0.35"/>
<rect x="237.06" y="113.02" width="4.27" height="10.76" fill="#a6611a" stroke="#7a4510" stroke-width="0.35"/>
<rect x="237.31" y="116.56" width="3.77" height="3.70" fill="#ffffff" stroke="#b9b9b9" stroke-width="0.3"/>
<rect x="242.58" y="113.02" width="4.27" height="10.76" fill="#a6611a" stroke="#7a4510" stroke-width="0.35"/>
<rect x="242.83" y="116.56" width="3.77" height="3.70" fill="#ffffff" stroke="#b9b9b9" stroke-width="0.3"/>
<rect x="248.11" y="113.02" width="4.27" height="10.76" fill="#80cdc1" stroke="#5a9c92" stroke-width="0.35"/>
<rect x="253.63" y="113.02" width="4.27" height="10.76" fill="#dfc27d" stroke="#a8904f" stroke-width="0.35"/>
<rect x="253.88" y="116.56" width="3.77" height="3.70" fill="#ffffff" stroke="#b9b9b9" stroke-width="0.3"/>
<rect x="259.16" y="113.02" width="4.27" height="10.76" fill="#a6611a" stroke="#7a4510" stroke-width="0.35"/>
<rect x="264.68" y="113.02" width="4.27" height="10.76" fill="#018571" stroke="#015c4e" stroke-width="0.35"/>
<rect x="270.20" y="113.02" width="4.27" height="10.76" fill="#80cdc1" stroke="#5a9c92" stroke-width="0.35"/>
<rect x="275.73" y="113.02" width="4.27" height="10.76" fill="#a6611a" stroke="#7a4510" stroke-width="0.35"/>
<rect x="281.25" y="113.02" width="4.27" height="10.76" fill="#a6611a" stroke="#7a4510" stroke-width="0.35"/>
<rect x="286.78" y="113.02" width="4.27" height="10.76" fill="#a6611a" stroke="#7a4510" stroke-width="0.35"/>
<rect x="287.03" y="116.56" width="3.77" height="3.70" fill="#ffffff" stroke="#b9b9b9" stroke-width="0.3"/>
<rect x="292.30" y="113.02" width="4.27" height="10.76" fill="#a6611a" stroke="#7a4510" stroke-width="0.35"/>
<rect x="297.83" y="113.02" width="4.27" height="10.76" fill="#a6611a" stroke="#7a4510" stroke-width="0.35"/>
<rect x="303.35" y="113.02" width="4.27" height="10.76" fill="#a6611a" stroke="#7a4510" stroke-width="0.35"/>
<rect x="308.88" y="113.02" width="4.27" height="10.76" fill="#a6611a" stroke="#7a4510" stroke-width="0.35"/>
<rect x="319.92" y="113.02" width="4.27" height="10.76" fill="#a6611a" stroke="#7a4510" stroke-width="0.35"/>
<rect x="325.45" y="113.02" width="4.27" height="10.76" fill="#a6611a" stroke="#7a4510" stroke-width="0.35"/>
<rect x="330.97" y="113.02" width="4.27" height="10.76" fill="#80cdc1" stroke="#5a9c92" stroke-width="0.35"/>
<rect x="336.50" y="113.02" width="4.27" height="10.76" fill="#a6611a" stroke="#7a4510" stroke-width="0.35"/>
<rect x="342.02" y="113.02" width="4.27" height="10.76" fill="#018571" stroke="#015c4e" stroke-width="0.35"/>
<rect x="347.55" y="113.02" width="4.27" height="10.76" fill="#a6611a" stroke="#7a4510" stroke-width="0.35"/>
<rect x="353.07" y="113.02" width="4.27" height="10.76" fill="#018571" stroke="#015c4e" stroke-width="0.35"/>
<rect x="358.59" y="113.02" width="4.27" height="10.76" fill="#018571" stroke="#015c4e" stroke-width="0.35"/>
<rect x="358.84" y="116.56" width="3.77" height="3.70" fill="#ffffff" stroke="#b9b9b9" stroke-width="0.3"/>
<rect x="375.17" y="113.02" width="4.27" height="10.76" fill="#a6611a" stroke="#7a4510" stroke-width="0.35"/>
<rect x="380.69" y="113.02" width="4.27" height="10.76" fill="#a6611a" stroke="#7a4510" stroke-width="0.35"/>
<rect x="380.94" y="116.56" width="3.77" height="3.70" fill="#ffffff" stroke="#b9b9b9" stroke-width="0.3"/>
<rect x="386.22" y="113.02" width="4.27" height="10.76" fill="#80cdc1" stroke="#5a9c92" stroke-width="0.35"/>
<rect x="402.79" y="113.02" width="4.27" height="10.76" fill="#a6611a" stroke="#7a4510" stroke-width="0.35"/>
<rect x="408.31" y="113.02" width="4.27" height="10.76" fill="#a6611a" stroke="#7a4510" stroke-width="0.35"/>
<rect x="413.84" y="113.02" width="4.27" height="10.76" fill="#a6611a" stroke="#7a4510" stroke-width="0.35"/>
<rect x="419.36" y="113.02" width="4.27" height="10.76" fill="#a6611a" stroke="#7a4510" stroke-width="0.35"/>
<rect x="419.61" y="116.56" width="3.77" height="3.70" fill="#ffffff" stroke="#b9b9b9" stroke-width="0.3"/>
<rect x="424.89" y="113.02" width="4.27" height="10.76" fill="#a6611a" stroke="#7a4510" stroke-width="0.35"/>
<rect x="430.41" y="113.02" width="4.27" height="10.76" fill="#a6611a" stroke="#7a4510" stroke-width="0.35"/>
<rect x="435.94" y="113.02" width="4.27" height="10.76" fill="#a6611a" stroke="#7a4510" stroke-width="0.35"/>
<rect x="441.46" y="113.02" width="4.27" height="10.76" fill="#a6611a" stroke="#7a4510" stroke-width="0.35"/>
<rect x="463.56" y="113.02" width="4.27" height="10.76" fill="#018571" stroke="#015c4e" stroke-width="0.35"/>
<rect x="463.81" y="116.56" width="3.77" height="3.70" fill="#ffffff" stroke="#b9b9b9" stroke-width="0.3"/>
<rect x="469.08" y="113.02" width="4.27" height="10.76" fill="#a6611a" stroke="#7a4510" stroke-width="0.35"/>
<rect x="469.33" y="116.56" width="3.77" height="3.70" fill="#ffffff" stroke="#b9b9b9" stroke-width="0.3"/>
<rect x="474.61" y="113.02" width="4.27" height="10.76" fill="#a6611a" stroke="#7a4510" stroke-width="0.35"/>
<rect x="93.42" y="125.44" width="4.27" height="10.76" fill="#80cdc1" stroke="#5a9c92" stroke-width="0.35"/>
<rect x="93.67" y="128.97" width="3.77" height="3.70" fill="#ffffff" stroke="#b9b9b9" stroke-width="0.3"/>
<rect x="98.95" y="125.44" width="4.27" height="10.76" fill="#80cdc1" stroke="#5a9c92" stroke-width="0.35"/>
<rect x="99.20" y="128.97" width="3.77" height="3.70" fill="#ffffff" stroke="#b9b9b9" stroke-width="0.3"/>
<rect x="104.47" y="125.44" width="4.27" height="10.76" fill="#a6611a" stroke="#7a4510" stroke-width="0.35"/>
<rect x="104.72" y="128.97" width="3.77" height="3.70" fill="#ffffff" stroke="#b9b9b9" stroke-width="0.3"/>
<rect x="110.00" y="125.44" width="4.27" height="10.76" fill="#a6611a" stroke="#7a4510" stroke-width="0.35"/>
<rect x="110.25" y="128.97" width="3.77" height="3.70" fill="#ffffff" stroke="#b9b9b9" stroke-width="0.3"/>
<rect x="115.52" y="125.44" width="4.27" height="10.76" fill="#a6611a" stroke="#7a4510" stroke-width="0.35"/>
<rect x="115.77" y="128.97" width="3.77" height="3.70" fill="#ffffff" stroke="#b9b9b9" stroke-width="0.3"/>
<rect x="121.05" y="125.44" width="4.27" height="10.76" fill="#a6611a" stroke="#7a4510" stroke-width="0.35"/>
<rect x="121.30" y="128.97" width="3.77" height="3.70" fill="#ffffff" stroke="#b9b9b9" stroke-width="0.3"/>
<rect x="126.57" y="125.44" width="4.27" height="10.76" fill="#80cdc1" stroke="#5a9c92" stroke-width="0.35"/>
<rect x="126.82" y="128.97" width="3.77" height="3.70" fill="#ffffff" stroke="#b9b9b9" stroke-width="0.3"/>
<rect x="132.10" y="125.44" width="4.27" height="10.76" fill="#a6611a" stroke="#7a4510" stroke-width="0.35"/>
<rect x="132.35" y="128.97" width="3.77" height="3.70" fill="#ffffff" stroke="#b9b9b9" stroke-width="0.3"/>
<rect x="137.62" y="125.44" width="4.27" height="10.76" fill="#a6611a" stroke="#7a4510" stroke-width="0.35"/>
<rect x="137.87" y="128.97" width="3.77" height="3.70" fill="#ffffff" stroke="#b9b9b9" stroke-width="0.3"/>
<rect x="143.14" y="125.44" width="4.27" height="10.76" fill="#a6611a" stroke="#7a4510" stroke-width="0.35"/>
<rect x="143.39" y="128.97" width="3.77" height="3.70" fill="#ffffff" stroke="#b9b9b9" stroke-width="0.3"/>
<rect x="148.67" y="125.44" width="4.27" height="10.76" fill="#a6611a" stroke="#7a4510" stroke-width="0.35"/>
<rect x="148.92" y="128.97" width="3.77" height="3.70" fill="#ffffff" stroke="#b9b9b9" stroke-width="0.3"/>
<rect x="154.19" y="125.44" width="4.27" height="10.76" fill="#80cdc1" stroke="#5a9c92" stroke-width="0.35"/>
<rect x="154.44" y="128.97" width="3.77" height="3.70" fill="#ffffff" stroke="#b9b9b9" stroke-width="0.3"/>
<rect x="159.72" y="125.44" width="4.27" height="10.76" fill="#80cdc1" stroke="#5a9c92" stroke-width="0.35"/>
<rect x="159.97" y="128.97" width="3.77" height="3.70" fill="#ffffff" stroke="#b9b9b9" stroke-width="0.3"/>
<rect x="165.24" y="125.44" width="4.27" height="10.76" fill="#80cdc1" stroke="#5a9c92" stroke-width="0.35"/>
<rect x="165.49" y="128.97" width="3.77" height="3.70" fill="#ffffff" stroke="#b9b9b9" stroke-width="0.3"/>
<rect x="170.77" y="125.44" width="4.27" height="10.76" fill="#a6611a" stroke="#7a4510" stroke-width="0.35"/>
<rect x="171.02" y="128.97" width="3.77" height="3.70" fill="#ffffff" stroke="#b9b9b9" stroke-width="0.3"/>
<rect x="176.29" y="125.44" width="4.27" height="10.76" fill="#a6611a" stroke="#7a4510" stroke-width="0.35"/>
<rect x="176.54" y="128.97" width="3.77" height="3.70" fill="#ffffff" stroke="#b9b9b9" stroke-width="0.3"/>
<rect x="181.81" y="125.44" width="4.27" height="10.76" fill="#a6611a" stroke="#7a4510" stroke-width="0.35"/>
<rect x="182.06" y="128.97" width="3.77" height="3.70" fill="#ffffff" stroke="#b9b9b9" stroke-width="0.3"/>
<rect x="187.34" y="125.44" width="4.27" height="10.76" fill="#a6611a" stroke="#7a4510" stroke-width="0.35"/>
<rect x="187.59" y="128.97" width="3.77" height="3.70" fill="#ffffff" stroke="#b9b9b9" stroke-width="0.3"/>
<rect x="192.86" y="125.44" width="4.27" height="10.76" fill="#a6611a" stroke="#7a4510" stroke-width="0.35"/>
<rect x="193.11" y="128.97" width="3.77" height="3.70" fill="#ffffff" stroke="#b9b9b9" stroke-width="0.3"/>
<rect x="198.39" y="125.44" width="4.27" height="10.76" fill="#a6611a" stroke="#7a4510" stroke-width="0.35"/>
<rect x="198.64" y="128.97" width="3.77" height="3.70" fill="#ffffff" stroke="#b9b9b9" stroke-width="0.3"/>
<rect x="203.91" y="125.44" width="4.27" height="10.76" fill="#80cdc1" stroke="#5a9c92" stroke-width="0.35"/>
<rect x="204.16" y="128.97" width="3.77" height="3.70" fill="#ffffff" stroke="#b9b9b9" stroke-width="0.3"/>
<rect x="209.44" y="125.44" width="4.27" height="10.76" fill="#dfc27d" stroke="#a8904f" stroke-width="0.35"/>
<rect x="209.69" y="128.97" width="3.77" height="3.70" fill="#ffffff" stroke="#b9b9b9" stroke-width="0.3"/>
<rect x="214.96" y="125.44" width="4.27" height="10.76" fill="#a6611a" stroke="#7a4510" stroke-width="0.35"/>
<rect x="215.21" y="128.97" width="3.77" height="3.70" fill="#ffffff" stroke="#b9b9b9" stroke-width="0.3"/>
<rect x="220.49" y="125.44" width="4.27" height="10.76" fill="#80cdc1" stroke="#5a9c92" stroke-width="0.35"/>
<rect x="220.74" y="128.97" width="3.77" height="3.70" fill="#ffffff" stroke="#b9b9b9" stroke-width="0.3"/>
<rect x="226.01" y="125.44" width="4.27" height="10.76" fill="#a6611a" stroke="#7a4510" stroke-width="0.35"/>
<rect x="226.26" y="128.97" width="3.77" height="3.70" fill="#ffffff" stroke="#b9b9b9" stroke-width="0.3"/>
<rect x="231.53" y="125.44" width="4.27" height="10.76" fill="#a6611a" stroke="#7a4510" stroke-width="0.35"/>
<rect x="231.78" y="128.97" width="3.77" height="3.70" fill="#ffffff" stroke="#b9b9b9" stroke-width="0.3"/>
<rect x="237.06" y="125.44" width="4.27" height="10.76" fill="#80cdc1" stroke="#5a9c92" stroke-width="0.35"/>
<rect x="237.31" y="128.97" width="3.77" height="3.70" fill="#ffffff" stroke="#b9b9b9" stroke-width="0.3"/>
<rect x="242.58" y="125.44" width="4.27" height="10.76" fill="#018571" stroke="#015c4e" stroke-width="0.35"/>
<rect x="242.83" y="128.97" width="3.77" height="3.70" fill="#ffffff" stroke="#b9b9b9" stroke-width="0.3"/>
<rect x="248.11" y="125.44" width="4.27" height="10.76" fill="#a6611a" stroke="#7a4510" stroke-width="0.35"/>
<rect x="248.36" y="128.97" width="3.77" height="3.70" fill="#ffffff" stroke="#b9b9b9" stroke-width="0.3"/>
<rect x="253.63" y="125.44" width="4.27" height="10.76" fill="#80cdc1" stroke="#5a9c92" stroke-width="0.35"/>
<rect x="253.88" y="128.97" width="3.77" height="3.70" fill="#ffffff" stroke="#b9b9b9" stroke-width="0.3"/>
<rect x="259.16" y="125.44" width="4.27" height="10.76" fill="#a6611a" stroke="#7a4510" stroke-width="0.35"/>
<rect x="259.41" y="128.97" width="3.77" height="3.70" fill="#ffffff" stroke="#b9b9b9" stroke-width="0.3"/>
<rect x="264.68" y="125.44" width="4.27" height="10.76" fill="#a6611a" stroke="#7a4510" stroke-width="0.35"/>
<rect x="264.93" y="128.97" width="3.77" height="3.70" fill="#ffffff" stroke="#b9b9b9" stroke-width="0.3"/>
<rect x="270.20" y="125.44" width="4.27" height="10.76" fill="#a6611a" stroke="#7a4510" stroke-width="0.35"/>
<rect x="270.45" y="128.97" width="3.77" height="3.70" fill="#ffffff" stroke="#b9b9b9" stroke-width="0.3"/>
<rect x="275.73" y="125.44" width="4.27" height="10.76" fill="#a6611a" stroke="#7a4510" stroke-width="0.35"/>
<rect x="275.98" y="128.97" width="3.77" height="3.70" fill="#ffffff" stroke="#b9b9b9" stroke-width="0.3"/>
<rect x="281.25" y="125.44" width="4.27" height="10.76" fill="#a6611a" stroke="#7a4510" stroke-width="0.35"/>
<rect x="281.50" y="128.97" width="3.77" height="3.70" fill="#ffffff" stroke="#b9b9b9" stroke-width="0.3"/>
<rect x="286.78" y="125.44" width="4.27" height="10.76" fill="#a6611a" stroke="#7a4510" stroke-width="0.35"/>
<rect x="287.03" y="128.97" width="3.77" height="3.70" fill="#ffffff" stroke="#b9b9b9" stroke-width="0.3"/>
<rect x="297.83" y="125.44" width="4.27" height="10.76" fill="#dfc27d" stroke="#a8904f" stroke-width="0.35"/>
<rect x="298.08" y="128.97" width="3.77" height="3.70" fill="#ffffff" stroke="#b9b9b9" stroke-width="0.3"/>
<rect x="308.88" y="125.44" width="4.27" height="10.76" fill="#dfc27d" stroke="#a8904f" stroke-width="0.35"/>
<rect x="309.13" y="128.97" width="3.77" height="3.70" fill="#ffffff" stroke="#b9b9b9" stroke-width="0.3"/>
<rect x="314.40" y="125.44" width="4.27" height="10.76" fill="#80cdc1" stroke="#5a9c92" stroke-width="0.35"/>
<rect x="314.65" y="128.97" width="3.77" height="3.70" fill="#ffffff" stroke="#b9b9b9" stroke-width="0.3"/>
<rect x="325.45" y="125.44" width="4.27" height="10.76" fill="#dfc27d" stroke="#a8904f" stroke-width="0.35"/>
<rect x="325.70" y="128.97" width="3.77" height="3.70" fill="#ffffff" stroke="#b9b9b9" stroke-width="0.3"/>
<rect x="347.55" y="125.44" width="4.27" height="10.76" fill="#a6611a" stroke="#7a4510" stroke-width="0.35"/>
<rect x="347.80" y="128.97" width="3.77" height="3.70" fill="#ffffff" stroke="#b9b9b9" stroke-width="0.3"/>
<rect x="364.12" y="125.44" width="4.27" height="10.76" fill="#a6611a" stroke="#7a4510" stroke-width="0.35"/>
<rect x="364.37" y="128.97" width="3.77" height="3.70" fill="#ffffff" stroke="#b9b9b9" stroke-width="0.3"/>
<rect x="369.64" y="125.44" width="4.27" height="10.76" fill="#a6611a" stroke="#7a4510" stroke-width="0.35"/>
<rect x="369.89" y="128.97" width="3.77" height="3.70" fill="#ffffff" stroke="#b9b9b9" stroke-width="0.3"/>
<rect x="375.17" y="125.44" width="4.27" height="10.76" fill="#80cdc1" stroke="#5a9c92" stroke-width="0.35"/>
<rect x="375.42" y="128.97" width="3.77" height="3.70" fill="#ffffff" stroke="#b9b9b9" stroke-width="0.3"/>
<rect x="380.69" y="125.44" width="4.27" height="10.76" fill="#80cdc1" stroke="#5a9c92" stroke-width="0.35"/>
<rect x="380.94" y="128.97" width="3.77" height="3.70" fill="#ffffff" stroke="#b9b9b9" stroke-width="0.3"/>
<rect x="391.74" y="125.44" width="4.27" height="10.76" fill="#a6611a" stroke="#7a4510" stroke-width="0.35"/>
<rect x="391.99" y="128.97" width="3.77" height="3.70" fill="#ffffff" stroke="#b9b9b9" stroke-width="0.3"/>
<rect x="397.26" y="125.44" width="4.27" height="10.76" fill="#a6611a" stroke="#7a4510" stroke-width="0.35"/>
<rect x="397.51" y="128.97" width="3.77" height="3.70" fill="#ffffff" stroke="#b9b9b9" stroke-width="0.3"/>
<rect x="446.98" y="125.44" width="4.27" height="10.76" fill="#a6611a" stroke="#7a4510" stroke-width="0.35"/>
<rect x="447.23" y="128.97" width="3.77" height="3.70" fill="#ffffff" stroke="#b9b9b9" stroke-width="0.3"/>
<rect x="452.51" y="125.44" width="4.27" height="10.76" fill="#a6611a" stroke="#7a4510" stroke-width="0.35"/>
<rect x="452.76" y="128.97" width="3.77" height="3.70" fill="#ffffff" stroke="#b9b9b9" stroke-width="0.3"/>
<rect x="480.13" y="125.44" width="4.27" height="10.76" fill="#018571" stroke="#015c4e" stroke-width="0.35"/>
<rect x="480.38" y="128.97" width="3.77" height="3.70" fill="#ffffff" stroke="#b9b9b9" stroke-width="0.3"/>
<rect x="491.18" y="125.44" width="4.27" height="10.76" fill="#a6611a" stroke="#7a4510" stroke-width="0.35"/>
<rect x="491.43" y="128.97" width="3.77" height="3.70" fill="#ffffff" stroke="#b9b9b9" stroke-width="0.3"/>
<rect x="93.42" y="137.85" width="4.27" height="10.76" fill="#a6611a" stroke="#7a4510" stroke-width="0.35"/>
<rect x="98.95" y="137.85" width="4.27" height="10.76" fill="#a6611a" stroke="#7a4510" stroke-width="0.35"/>
<rect x="104.47" y="137.85" width="4.27" height="10.76" fill="#a6611a" stroke="#7a4510" stroke-width="0.35"/>
<rect x="110.00" y="137.85" width="4.27" height="10.76" fill="#a6611a" stroke="#7a4510" stroke-width="0.35"/>
<rect x="115.52" y="137.85" width="4.27" height="10.76" fill="#a6611a" stroke="#7a4510" stroke-width="0.35"/>
<rect x="121.05" y="137.85" width="4.27" height="10.76" fill="#a6611a" stroke="#7a4510" stroke-width="0.35"/>
<rect x="126.57" y="137.85" width="4.27" height="10.76" fill="#a6611a" stroke="#7a4510" stroke-width="0.35"/>
<rect x="132.10" y="137.85" width="4.27" height="10.76" fill="#a6611a" stroke="#7a4510" stroke-width="0.35"/>
<rect x="137.62" y="137.85" width="4.27" height="10.76" fill="#a6611a" stroke="#7a4510" stroke-width="0.35"/>
<rect x="143.14" y="137.85" width="4.27" height="10.76" fill="#a6611a" stroke="#7a4510" stroke-width="0.35"/>
<rect x="148.67" y="137.85" width="4.27" height="10.76" fill="#a6611a" stroke="#7a4510" stroke-width="0.35"/>
<rect x="154.19" y="137.85" width="4.27" height="10.76" fill="#a6611a" stroke="#7a4510" stroke-width="0.35"/>
<rect x="159.72" y="137.85" width="4.27" height="10.76" fill="#a6611a" stroke="#7a4510" stroke-width="0.35"/>
<rect x="165.24" y="137.85" width="4.27" height="10.76" fill="#a6611a" stroke="#7a4510" stroke-width="0.35"/>
<rect x="170.77" y="137.85" width="4.27" height="10.76" fill="#a6611a" stroke="#7a4510" stroke-width="0.35"/>
<rect x="176.29" y="137.85" width="4.27" height="10.76" fill="#a6611a" stroke="#7a4510" stroke-width="0.35"/>
<rect x="181.81" y="137.85" width="4.27" height="10.76" fill="#a6611a" stroke="#7a4510" stroke-width="0.35"/>
<rect x="187.34" y="137.85" width="4.27" height="10.76" fill="#a6611a" stroke="#7a4510" stroke-width="0.35"/>
<rect x="192.86" y="137.85" width="4.27" height="10.76" fill="#a6611a" stroke="#7a4510" stroke-width="0.35"/>
<rect x="198.39" y="137.85" width="4.27" height="10.76" fill="#a6611a" stroke="#7a4510" stroke-width="0.35"/>
<rect x="203.91" y="137.85" width="4.27" height="10.76" fill="#a6611a" stroke="#7a4510" stroke-width="0.35"/>
<rect x="209.44" y="137.85" width="4.27" height="10.76" fill="#a6611a" stroke="#7a4510" stroke-width="0.35"/>
<rect x="214.96" y="137.85" width="4.27" height="10.76" fill="#a6611a" stroke="#7a4510" stroke-width="0.35"/>
<rect x="220.49" y="137.85" width="4.27" height="10.76" fill="#a6611a" stroke="#7a4510" stroke-width="0.35"/>
<rect x="226.01" y="137.85" width="4.27" height="10.76" fill="#a6611a" stroke="#7a4510" stroke-width="0.35"/>
<rect x="231.53" y="137.85" width="4.27" height="10.76" fill="#a6611a" stroke="#7a4510" stroke-width="0.35"/>
<rect x="237.06" y="137.85" width="4.27" height="10.76" fill="#a6611a" stroke="#7a4510" stroke-width="0.35"/>
<rect x="242.58" y="137.85" width="4.27" height="10.76" fill="#a6611a" stroke="#7a4510" stroke-width="0.35"/>
<rect x="248.11" y="137.85" width="4.27" height="10.76" fill="#a6611a" stroke="#7a4510" stroke-width="0.35"/>
<rect x="253.63" y="137.85" width="4.27" height="10.76" fill="#a6611a" stroke="#7a4510" stroke-width="0.35"/>
<rect x="264.68" y="137.85" width="4.27" height="10.76" fill="#a6611a" stroke="#7a4510" stroke-width="0.35"/>
<rect x="286.78" y="137.85" width="4.27" height="10.76" fill="#a6611a" stroke="#7a4510" stroke-width="0.35"/>
<rect x="292.30" y="137.85" width="4.27" height="10.76" fill="#a6611a" stroke="#7a4510" stroke-width="0.35"/>
<rect x="303.35" y="137.85" width="4.27" height="10.76" fill="#a6611a" stroke="#7a4510" stroke-width="0.35"/>
<rect x="314.40" y="137.85" width="4.27" height="10.76" fill="#a6611a" stroke="#7a4510" stroke-width="0.35"/>
<rect x="319.92" y="137.85" width="4.27" height="10.76" fill="#a6611a" stroke="#7a4510" stroke-width="0.35"/>
<rect x="330.97" y="137.85" width="4.27" height="10.76" fill="#a6611a" stroke="#7a4510" stroke-width="0.35"/>
<rect x="336.50" y="137.85" width="4.27" height="10.76" fill="#a6611a" stroke="#7a4510" stroke-width="0.35"/>
<rect x="342.02" y="137.85" width="4.27" height="10.76" fill="#a6611a" stroke="#7a4510" stroke-width="0.35"/>
<rect x="353.07" y="137.85" width="4.27" height="10.76" fill="#a6611a" stroke="#7a4510" stroke-width="0.35"/>
<rect x="358.59" y="137.85" width="4.27" height="10.76" fill="#a6611a" stroke="#7a4510" stroke-width="0.35"/>
<rect x="364.12" y="137.85" width="4.27" height="10.76" fill="#a6611a" stroke="#7a4510" stroke-width="0.35"/>
<rect x="369.64" y="137.85" width="4.27" height="10.76" fill="#a6611a" stroke="#7a4510" stroke-width="0.35"/>
<rect x="391.74" y="137.85" width="4.27" height="10.76" fill="#a6611a" stroke="#7a4510" stroke-width="0.35"/>
<rect x="397.26" y="137.85" width="4.27" height="10.76" fill="#a6611a" stroke="#7a4510" stroke-width="0.35"/>
<rect x="402.79" y="137.85" width="4.27" height="10.76" fill="#a6611a" stroke="#7a4510" stroke-width="0.35"/>
<rect x="408.31" y="137.85" width="4.27" height="10.76" fill="#a6611a" stroke="#7a4510" stroke-width="0.35"/>
<rect x="458.03" y="137.85" width="4.27" height="10.76" fill="#a6611a" stroke="#7a4510" stroke-width="0.35"/>
<rect x="485.65" y="137.85" width="4.27" height="10.76" fill="#a6611a" stroke="#7a4510" stroke-width="0.35"/>
<rect x="93.42" y="150.26" width="4.27" height="10.76" fill="#a6611a" stroke="#7a4510" stroke-width="0.35"/>
<rect x="98.95" y="150.26" width="4.27" height="10.76" fill="#a6611a" stroke="#7a4510" stroke-width="0.35"/>
<rect x="104.47" y="150.26" width="4.27" height="10.76" fill="#a6611a" stroke="#7a4510" stroke-width="0.35"/>
<rect x="110.00" y="150.26" width="4.27" height="10.76" fill="#a6611a" stroke="#7a4510" stroke-width="0.35"/>
<rect x="115.52" y="150.26" width="4.27" height="10.76" fill="#a6611a" stroke="#7a4510" stroke-width="0.35"/>
<rect x="121.05" y="150.26" width="4.27" height="10.76" fill="#a6611a" stroke="#7a4510" stroke-width="0.35"/>
<rect x="126.57" y="150.26" width="4.27" height="10.76" fill="#a6611a" stroke="#7a4510" stroke-width="0.35"/>
<rect x="132.10" y="150.26" width="4.27" height="10.76" fill="#a6611a" stroke="#7a4510" stroke-width="0.35"/>
<rect x="137.62" y="150.26" width="4.27" height="10.76" fill="#a6611a" stroke="#7a4510" stroke-width="0.35"/>
<rect x="143.14" y="150.26" width="4.27" height="10.76" fill="#a6611a" stroke="#7a4510" stroke-width="0.35"/>
<rect x="148.67" y="150.26" width="4.27" height="10.76" fill="#a6611a" stroke="#7a4510" stroke-width="0.35"/>
<rect x="154.19" y="150.26" width="4.27" height="10.76" fill="#a6611a" stroke="#7a4510" stroke-width="0.35"/>
<rect x="159.72" y="150.26" width="4.27" height="10.76" fill="#a6611a" stroke="#7a4510" stroke-width="0.35"/>
<rect x="170.77" y="150.26" width="4.27" height="10.76" fill="#a6611a" stroke="#7a4510" stroke-width="0.35"/>
<rect x="176.29" y="150.26" width="4.27" height="10.76" fill="#a6611a" stroke="#7a4510" stroke-width="0.35"/>
<rect x="181.81" y="150.26" width="4.27" height="10.76" fill="#a6611a" stroke="#7a4510" stroke-width="0.35"/>
<rect x="187.34" y="150.26" width="4.27" height="10.76" fill="#a6611a" stroke="#7a4510" stroke-width="0.35"/>
<rect x="192.86" y="150.26" width="4.27" height="10.76" fill="#a6611a" stroke="#7a4510" stroke-width="0.35"/>
<rect x="203.91" y="150.26" width="4.27" height="10.76" fill="#a6611a" stroke="#7a4510" stroke-width="0.35"/>
<rect x="209.44" y="150.26" width="4.27" height="10.76" fill="#a6611a" stroke="#7a4510" stroke-width="0.35"/>
<rect x="220.49" y="150.26" width="4.27" height="10.76" fill="#a6611a" stroke="#7a4510" stroke-width="0.35"/>
<rect x="226.01" y="150.26" width="4.27" height="10.76" fill="#a6611a" stroke="#7a4510" stroke-width="0.35"/>
<rect x="231.53" y="150.26" width="4.27" height="10.76" fill="#a6611a" stroke="#7a4510" stroke-width="0.35"/>
<rect x="237.06" y="150.26" width="4.27" height="10.76" fill="#a6611a" stroke="#7a4510" stroke-width="0.35"/>
<rect x="242.58" y="150.26" width="4.27" height="10.76" fill="#a6611a" stroke="#7a4510" stroke-width="0.35"/>
<rect x="248.11" y="150.26" width="4.27" height="10.76" fill="#a6611a" stroke="#7a4510" stroke-width="0.35"/>
<rect x="259.16" y="150.26" width="4.27" height="10.76" fill="#a6611a" stroke="#7a4510" stroke-width="0.35"/>
<rect x="270.20" y="150.26" width="4.27" height="10.76" fill="#a6611a" stroke="#7a4510" stroke-width="0.35"/>
<rect x="275.73" y="150.26" width="4.27" height="10.76" fill="#a6611a" stroke="#7a4510" stroke-width="0.35"/>
<rect x="281.25" y="150.26" width="4.27" height="10.76" fill="#a6611a" stroke="#7a4510" stroke-width="0.35"/>
<rect x="292.30" y="150.26" width="4.27" height="10.76" fill="#a6611a" stroke="#7a4510" stroke-width="0.35"/>
<rect x="303.35" y="150.26" width="4.27" height="10.76" fill="#a6611a" stroke="#7a4510" stroke-width="0.35"/>
<rect x="308.88" y="150.26" width="4.27" height="10.76" fill="#a6611a" stroke="#7a4510" stroke-width="0.35"/>
<rect x="314.40" y="150.26" width="4.27" height="10.76" fill="#a6611a" stroke="#7a4510" stroke-width="0.35"/>
<rect x="319.92" y="150.26" width="4.27" height="10.76" fill="#a6611a" stroke="#7a4510" stroke-width="0.35"/>
<rect x="330.97" y="150.26" width="4.27" height="10.76" fill="#a6611a" stroke="#7a4510" stroke-width="0.35"/>
<rect x="364.12" y="150.26" width="4.27" height="10.76" fill="#a6611a" stroke="#7a4510" stroke-width="0.35"/>
<rect x="369.64" y="150.26" width="4.27" height="10.76" fill="#a6611a" stroke="#7a4510" stroke-width="0.35"/>
<rect x="386.22" y="150.26" width="4.27" height="10.76" fill="#a6611a" stroke="#7a4510" stroke-width="0.35"/>
<rect x="391.74" y="150.26" width="4.27" height="10.76" fill="#a6611a" stroke="#7a4510" stroke-width="0.35"/>
<rect x="397.26" y="150.26" width="4.27" height="10.76" fill="#a6611a" stroke="#7a4510" stroke-width="0.35"/>
<rect x="424.89" y="150.26" width="4.27" height="10.76" fill="#a6611a" stroke="#7a4510" stroke-width="0.35"/>
<rect x="93.42" y="162.67" width="4.27" height="10.76" fill="#80cdc1" stroke="#5a9c92" stroke-width="0.35"/>
<rect x="93.67" y="166.20" width="3.77" height="3.70" fill="#ffffff" stroke="#b9b9b9" stroke-width="0.3"/>
<rect x="98.95" y="162.67" width="4.27" height="10.76" fill="#80cdc1" stroke="#5a9c92" stroke-width="0.35"/>
<rect x="104.47" y="162.67" width="4.27" height="10.76" fill="#dfc27d" stroke="#a8904f" stroke-width="0.35"/>
<rect x="104.72" y="166.20" width="3.77" height="3.70" fill="#ffffff" stroke="#b9b9b9" stroke-width="0.3"/>
<rect x="110.00" y="162.67" width="4.27" height="10.76" fill="#80cdc1" stroke="#5a9c92" stroke-width="0.35"/>
<rect x="115.52" y="162.67" width="4.27" height="10.76" fill="#dfc27d" stroke="#a8904f" stroke-width="0.35"/>
<rect x="115.77" y="166.20" width="3.77" height="3.70" fill="#ffffff" stroke="#b9b9b9" stroke-width="0.3"/>
<rect x="121.05" y="162.67" width="4.27" height="10.76" fill="#80cdc1" stroke="#5a9c92" stroke-width="0.35"/>
<rect x="126.57" y="162.67" width="4.27" height="10.76" fill="#80cdc1" stroke="#5a9c92" stroke-width="0.35"/>
<rect x="126.82" y="166.20" width="3.77" height="3.70" fill="#ffffff" stroke="#b9b9b9" stroke-width="0.3"/>
<rect x="132.10" y="162.67" width="4.27" height="10.76" fill="#80cdc1" stroke="#5a9c92" stroke-width="0.35"/>
<rect x="132.35" y="166.20" width="3.77" height="3.70" fill="#ffffff" stroke="#b9b9b9" stroke-width="0.3"/>
<rect x="143.14" y="162.67" width="4.27" height="10.76" fill="#80cdc1" stroke="#5a9c92" stroke-width="0.35"/>
<rect x="159.72" y="162.67" width="4.27" height="10.76" fill="#dfc27d" stroke="#a8904f" stroke-width="0.35"/>
<rect x="159.97" y="166.20" width="3.77" height="3.70" fill="#ffffff" stroke="#b9b9b9" stroke-width="0.3"/>
<rect x="165.24" y="162.67" width="4.27" height="10.76" fill="#018571" stroke="#015c4e" stroke-width="0.35"/>
<rect x="176.29" y="162.67" width="4.27" height="10.76" fill="#dfc27d" stroke="#a8904f" stroke-width="0.35"/>
<rect x="176.54" y="166.20" width="3.77" height="3.70" fill="#ffffff" stroke="#b9b9b9" stroke-width="0.3"/>
<rect x="198.39" y="162.67" width="4.27" height="10.76" fill="#dfc27d" stroke="#a8904f" stroke-width="0.35"/>
<rect x="198.64" y="166.20" width="3.77" height="3.70" fill="#ffffff" stroke="#b9b9b9" stroke-width="0.3"/>
<rect x="214.96" y="162.67" width="4.27" height="10.76" fill="#80cdc1" stroke="#5a9c92" stroke-width="0.35"/>
<rect x="253.63" y="162.67" width="4.27" height="10.76" fill="#80cdc1" stroke="#5a9c92" stroke-width="0.35"/>
<rect x="259.16" y="162.67" width="4.27" height="10.76" fill="#80cdc1" stroke="#5a9c92" stroke-width="0.35"/>
<rect x="270.20" y="162.67" width="4.27" height="10.76" fill="#018571" stroke="#015c4e" stroke-width="0.35"/>
<rect x="275.73" y="162.67" width="4.27" height="10.76" fill="#80cdc1" stroke="#5a9c92" stroke-width="0.35"/>
<rect x="275.98" y="166.20" width="3.77" height="3.70" fill="#ffffff" stroke="#b9b9b9" stroke-width="0.3"/>
<rect x="281.25" y="162.67" width="4.27" height="10.76" fill="#80cdc1" stroke="#5a9c92" stroke-width="0.35"/>
<rect x="281.50" y="166.20" width="3.77" height="3.70" fill="#ffffff" stroke="#b9b9b9" stroke-width="0.3"/>
<rect x="297.83" y="162.67" width="4.27" height="10.76" fill="#018571" stroke="#015c4e" stroke-width="0.35"/>
<rect x="303.35" y="162.67" width="4.27" height="10.76" fill="#80cdc1" stroke="#5a9c92" stroke-width="0.35"/>
<rect x="303.60" y="166.20" width="3.77" height="3.70" fill="#ffffff" stroke="#b9b9b9" stroke-width="0.3"/>
<rect x="314.40" y="162.67" width="4.27" height="10.76" fill="#80cdc1" stroke="#5a9c92" stroke-width="0.35"/>
<rect x="325.45" y="162.67" width="4.27" height="10.76" fill="#dfc27d" stroke="#a8904f" stroke-width="0.35"/>
<rect x="325.70" y="166.20" width="3.77" height="3.70" fill="#ffffff" stroke="#b9b9b9" stroke-width="0.3"/>
<rect x="336.50" y="162.67" width="4.27" height="10.76" fill="#dfc27d" stroke="#a8904f" stroke-width="0.35"/>
<rect x="336.75" y="166.20" width="3.77" height="3.70" fill="#ffffff" stroke="#b9b9b9" stroke-width="0.3"/>
<rect x="342.02" y="162.67" width="4.27" height="10.76" fill="#dfc27d" stroke="#a8904f" stroke-width="0.35"/>
<rect x="342.27" y="166.20" width="3.77" height="3.70" fill="#ffffff" stroke="#b9b9b9" stroke-width="0.3"/>
<rect x="353.07" y="162.67" width="4.27" height="10.76" fill="#80cdc1" stroke="#5a9c92" stroke-width="0.35"/>
<rect x="358.59" y="162.67" width="4.27" height="10.76" fill="#018571" stroke="#015c4e" stroke-width="0.35"/>
<rect x="358.84" y="166.20" width="3.77" height="3.70" fill="#ffffff" stroke="#b9b9b9" stroke-width="0.3"/>
<rect x="386.22" y="162.67" width="4.27" height="10.76" fill="#80cdc1" stroke="#5a9c92" stroke-width="0.35"/>
<rect x="413.84" y="162.67" width="4.27" height="10.76" fill="#dfc27d" stroke="#a8904f" stroke-width="0.35"/>
<rect x="414.09" y="166.20" width="3.77" height="3.70" fill="#ffffff" stroke="#b9b9b9" stroke-width="0.3"/>
<rect x="419.36" y="162.67" width="4.27" height="10.76" fill="#018571" stroke="#015c4e" stroke-width="0.35"/>
<rect x="430.41" y="162.67" width="4.27" height="10.76" fill="#80cdc1" stroke="#5a9c92" stroke-width="0.35"/>
<rect x="435.94" y="162.67" width="4.27" height="10.76" fill="#80cdc1" stroke="#5a9c92" stroke-width="0.35"/>
<rect x="441.46" y="162.67" width="4.27" height="10.76" fill="#dfc27d" stroke="#a8904f" stroke-width="0.35"/>
<rect x="441.71" y="166.20" width="3.77" height="3.70" fill="#ffffff" stroke="#b9b9b9" stroke-width="0.3"/>
<rect x="446.98" y="162.67" width="4.27" height="10.76" fill="#018571" stroke="#015c4e" stroke-width="0.35"/>
<rect x="452.51" y="162.67" width="4.27" height="10.76" fill="#dfc27d" stroke="#a8904f" stroke-width="0.35"/>
<rect x="452.76" y="166.20" width="3.77" height="3.70" fill="#ffffff" stroke="#b9b9b9" stroke-width="0.3"/>
<rect x="458.03" y="162.67" width="4.27" height="10.76" fill="#80cdc1" stroke="#5a9c92" stroke-width="0.35"/>
<rect x="485.65" y="162.67" width="4.27" height="10.76" fill="#dfc27d" stroke="#a8904f" stroke-width="0.35"/>
<rect x="485.90" y="166.20" width="3.77" height="3.70" fill="#ffffff" stroke="#b9b9b9" stroke-width="0.3"/>
<rect x="496.70" y="162.67" width="4.27" height="10.76" fill="#80cdc1" stroke="#5a9c92" stroke-width="0.35"/>
<rect x="93.42" y="175.08" width="4.27" height="10.76" fill="#a6611a" stroke="#7a4510" stroke-width="0.35"/>
<rect x="98.95" y="175.08" width="4.27" height="10.76" fill="#a6611a" stroke="#7a4510" stroke-width="0.35"/>
<rect x="104.47" y="175.08" width="4.27" height="10.76" fill="#a6611a" stroke="#7a4510" stroke-width="0.35"/>
<rect x="115.52" y="175.08" width="4.27" height="10.76" fill="#a6611a" stroke="#7a4510" stroke-width="0.35"/>
<rect x="121.05" y="175.08" width="4.27" height="10.76" fill="#a6611a" stroke="#7a4510" stroke-width="0.35"/>
<rect x="126.57" y="175.08" width="4.27" height="10.76" fill="#a6611a" stroke="#7a4510" stroke-width="0.35"/>
<rect x="132.10" y="175.08" width="4.27" height="10.76" fill="#a6611a" stroke="#7a4510" stroke-width="0.35"/>
<rect x="137.62" y="175.08" width="4.27" height="10.76" fill="#a6611a" stroke="#7a4510" stroke-width="0.35"/>
<rect x="148.67" y="175.08" width="4.27" height="10.76" fill="#a6611a" stroke="#7a4510" stroke-width="0.35"/>
<rect x="154.19" y="175.08" width="4.27" height="10.76" fill="#a6611a" stroke="#7a4510" stroke-width="0.35"/>
<rect x="165.24" y="175.08" width="4.27" height="10.76" fill="#a6611a" stroke="#7a4510" stroke-width="0.35"/>
<rect x="170.77" y="175.08" width="4.27" height="10.76" fill="#a6611a" stroke="#7a4510" stroke-width="0.35"/>
<rect x="181.81" y="175.08" width="4.27" height="10.76" fill="#a6611a" stroke="#7a4510" stroke-width="0.35"/>
<rect x="187.34" y="175.08" width="4.27" height="10.76" fill="#a6611a" stroke="#7a4510" stroke-width="0.35"/>
<rect x="192.86" y="175.08" width="4.27" height="10.76" fill="#a6611a" stroke="#7a4510" stroke-width="0.35"/>
<rect x="264.68" y="175.08" width="4.27" height="10.76" fill="#a6611a" stroke="#7a4510" stroke-width="0.35"/>
<rect x="292.30" y="175.08" width="4.27" height="10.76" fill="#a6611a" stroke="#7a4510" stroke-width="0.35"/>
<rect x="297.83" y="175.08" width="4.27" height="10.76" fill="#a6611a" stroke="#7a4510" stroke-width="0.35"/>
<rect x="314.40" y="175.08" width="4.27" height="10.76" fill="#a6611a" stroke="#7a4510" stroke-width="0.35"/>
<rect x="319.92" y="175.08" width="4.27" height="10.76" fill="#a6611a" stroke="#7a4510" stroke-width="0.35"/>
<rect x="336.50" y="175.08" width="4.27" height="10.76" fill="#a6611a" stroke="#7a4510" stroke-width="0.35"/>
<rect x="364.12" y="175.08" width="4.27" height="10.76" fill="#a6611a" stroke="#7a4510" stroke-width="0.35"/>
<rect x="369.64" y="175.08" width="4.27" height="10.76" fill="#a6611a" stroke="#7a4510" stroke-width="0.35"/>
<rect x="446.98" y="175.08" width="4.27" height="10.76" fill="#a6611a" stroke="#7a4510" stroke-width="0.35"/>
<rect x="458.03" y="175.08" width="4.27" height="10.76" fill="#a6611a" stroke="#7a4510" stroke-width="0.35"/>
<rect x="496.70" y="175.08" width="4.27" height="10.76" fill="#a6611a" stroke="#7a4510" stroke-width="0.35"/>
<rect x="93.42" y="187.50" width="4.27" height="10.76" fill="#a6611a" stroke="#7a4510" stroke-width="0.35"/>
<rect x="98.95" y="187.50" width="4.27" height="10.76" fill="#a6611a" stroke="#7a4510" stroke-width="0.35"/>
<rect x="110.00" y="187.50" width="4.27" height="10.76" fill="#a6611a" stroke="#7a4510" stroke-width="0.35"/>
<rect x="137.62" y="187.50" width="4.27" height="10.76" fill="#a6611a" stroke="#7a4510" stroke-width="0.35"/>
<rect x="148.67" y="187.50" width="4.27" height="10.76" fill="#a6611a" stroke="#7a4510" stroke-width="0.35"/>
<rect x="165.24" y="187.50" width="4.27" height="10.76" fill="#a6611a" stroke="#7a4510" stroke-width="0.35"/>
<rect x="198.39" y="187.50" width="4.27" height="10.76" fill="#a6611a" stroke="#7a4510" stroke-width="0.35"/>
<rect x="214.96" y="187.50" width="4.27" height="10.76" fill="#a6611a" stroke="#7a4510" stroke-width="0.35"/>
<rect x="259.16" y="187.50" width="4.27" height="10.76" fill="#a6611a" stroke="#7a4510" stroke-width="0.35"/>
<rect x="292.30" y="187.50" width="4.27" height="10.76" fill="#a6611a" stroke="#7a4510" stroke-width="0.35"/>
<rect x="330.97" y="187.50" width="4.27" height="10.76" fill="#a6611a" stroke="#7a4510" stroke-width="0.35"/>
<rect x="342.02" y="187.50" width="4.27" height="10.76" fill="#a6611a" stroke="#7a4510" stroke-width="0.35"/>
<rect x="413.84" y="187.50" width="4.27" height="10.76" fill="#a6611a" stroke="#7a4510" stroke-width="0.35"/>
<rect x="419.36" y="187.50" width="4.27" height="10.76" fill="#a6611a" stroke="#7a4510" stroke-width="0.35"/>
<rect x="93.42" y="199.91" width="4.27" height="10.76" fill="#a6611a" stroke="#7a4510" stroke-width="0.35"/>
<rect x="93.67" y="203.44" width="3.77" height="3.70" fill="#ffffff" stroke="#b9b9b9" stroke-width="0.3"/>
<rect x="98.95" y="199.91" width="4.27" height="10.76" fill="#a6611a" stroke="#7a4510" stroke-width="0.35"/>
<rect x="99.20" y="203.44" width="3.77" height="3.70" fill="#ffffff" stroke="#b9b9b9" stroke-width="0.3"/>
<rect x="110.00" y="199.91" width="4.27" height="10.76" fill="#a6611a" stroke="#7a4510" stroke-width="0.35"/>
<rect x="143.14" y="199.91" width="4.27" height="10.76" fill="#a6611a" stroke="#7a4510" stroke-width="0.35"/>
<rect x="143.39" y="203.44" width="3.77" height="3.70" fill="#ffffff" stroke="#b9b9b9" stroke-width="0.3"/>
<rect x="154.19" y="199.91" width="4.27" height="10.76" fill="#a6611a" stroke="#7a4510" stroke-width="0.35"/>
<rect x="198.39" y="199.91" width="4.27" height="10.76" fill="#a6611a" stroke="#7a4510" stroke-width="0.35"/>
<rect x="198.64" y="203.44" width="3.77" height="3.70" fill="#ffffff" stroke="#b9b9b9" stroke-width="0.3"/>
<rect x="203.91" y="199.91" width="4.27" height="10.76" fill="#a6611a" stroke="#7a4510" stroke-width="0.35"/>
<rect x="204.16" y="203.44" width="3.77" height="3.70" fill="#ffffff" stroke="#b9b9b9" stroke-width="0.3"/>
<rect x="209.44" y="199.91" width="4.27" height="10.76" fill="#80cdc1" stroke="#5a9c92" stroke-width="0.35"/>
<rect x="347.55" y="199.91" width="4.27" height="10.76" fill="#a6611a" stroke="#7a4510" stroke-width="0.35"/>
<rect x="347.80" y="203.44" width="3.77" height="3.70" fill="#ffffff" stroke="#b9b9b9" stroke-width="0.3"/>
<rect x="452.51" y="199.91" width="4.27" height="10.76" fill="#a6611a" stroke="#7a4510" stroke-width="0.35"/>
<rect x="452.76" y="203.44" width="3.77" height="3.70" fill="#ffffff" stroke="#b9b9b9" stroke-width="0.3"/>
<rect x="458.03" y="199.91" width="4.27" height="10.76" fill="#a6611a" stroke="#7a4510" stroke-width="0.35"/>
<rect x="458.28" y="203.44" width="3.77" height="3.70" fill="#ffffff" stroke="#b9b9b9" stroke-width="0.3"/>
<rect x="480.13" y="199.91" width="4.27" height="10.76" fill="#018571" stroke="#015c4e" stroke-width="0.35"/>
<rect x="480.38" y="203.44" width="3.77" height="3.70" fill="#ffffff" stroke="#b9b9b9" stroke-width="0.3"/>
<rect x="93.42" y="212.32" width="4.27" height="10.76" fill="#80cdc1" stroke="#5a9c92" stroke-width="0.35"/>
<rect x="104.47" y="212.32" width="4.27" height="10.76" fill="#80cdc1" stroke="#5a9c92" stroke-width="0.35"/>
<rect x="137.62" y="212.32" width="4.27" height="10.76" fill="#018571" stroke="#015c4e" stroke-width="0.35"/>
<rect x="181.81" y="212.32" width="4.27" height="10.76" fill="#80cdc1" stroke="#5a9c92" stroke-width="0.35"/>
<rect x="203.91" y="212.32" width="4.27" height="10.76" fill="#80cdc1" stroke="#5a9c92" stroke-width="0.35"/>
<rect x="314.40" y="212.32" width="4.27" height="10.76" fill="#80cdc1" stroke="#5a9c92" stroke-width="0.35"/>
<rect x="342.02" y="212.32" width="4.27" height="10.76" fill="#80cdc1" stroke="#5a9c92" stroke-width="0.35"/>
<rect x="104.47" y="224.73" width="4.27" height="10.76" fill="#a6611a" stroke="#7a4510" stroke-width="0.35"/>
<rect x="165.24" y="224.73" width="4.27" height="10.76" fill="#a6611a" stroke="#7a4510" stroke-width="0.35"/>
<rect x="170.77" y="224.73" width="4.27" height="10.76" fill="#a6611a" stroke="#7a4510" stroke-width="0.35"/>
<rect x="209.44" y="224.73" width="4.27" height="10.76" fill="#a6611a" stroke="#7a4510" stroke-width="0.35"/>
<rect x="452.51" y="224.73" width="4.27" height="10.76" fill="#a6611a" stroke="#7a4510" stroke-width="0.35"/>
<rect x="137.62" y="237.14" width="4.27" height="10.76" fill="#80cdc1" stroke="#5a9c92" stroke-width="0.35"/>
<rect x="148.67" y="237.14" width="4.27" height="10.76" fill="#a6611a" stroke="#7a4510" stroke-width="0.35"/>
<rect x="170.77" y="237.14" width="4.27" height="10.76" fill="#a6611a" stroke="#7a4510" stroke-width="0.35"/>
<rect x="198.39" y="237.14" width="4.27" height="10.76" fill="#a6611a" stroke="#7a4510" stroke-width="0.35"/>
<rect x="214.96" y="237.14" width="4.27" height="10.76" fill="#a6611a" stroke="#7a4510" stroke-width="0.35"/>
<rect x="115.52" y="249.56" width="4.27" height="10.76" fill="#a6611a" stroke="#7a4510" stroke-width="0.35"/>
<rect x="143.14" y="249.56" width="4.27" height="10.76" fill="#a6611a" stroke="#7a4510" stroke-width="0.35"/>
<rect x="325.45" y="249.56" width="4.27" height="10.76" fill="#a6611a" stroke="#7a4510" stroke-width="0.35"/>
<rect x="458.03" y="249.56" width="4.27" height="10.76" fill="#a6611a" stroke="#7a4510" stroke-width="0.35"/>
<rect x="110.00" y="261.97" width="4.27" height="10.76" fill="#a6611a" stroke="#7a4510" stroke-width="0.35"/>
<rect x="198.39" y="261.97" width="4.27" height="10.76" fill="#a6611a" stroke="#7a4510" stroke-width="0.35"/>
<rect x="165.24" y="274.38" width="4.27" height="10.76" fill="#a6611a" stroke="#7a4510" stroke-width="0.35"/>
<rect x="336.50" y="274.38" width="4.27" height="10.76" fill="#018571" stroke="#015c4e" stroke-width="0.35"/>
<rect x="214.96" y="286.79" width="4.27" height="10.76" fill="#a6611a" stroke="#7a4510" stroke-width="0.35"/>
<rect x="413.84" y="286.79" width="4.27" height="10.76" fill="#a6611a" stroke="#7a4510" stroke-width="0.35"/>
<rect x="159.72" y="299.21" width="4.27" height="10.76" fill="#018571" stroke="#015c4e" stroke-width="0.35"/>
<rect x="297.83" y="299.21" width="4.27" height="10.76" fill="#a6611a" stroke="#7a4510" stroke-width="0.35"/>
<rect x="181.81" y="311.62" width="4.27" height="10.76" fill="#a6611a" stroke="#7a4510" stroke-width="0.35"/>
<rect x="297.83" y="311.62" width="4.27" height="10.76" fill="#a6611a" stroke="#7a4510" stroke-width="0.35"/>
<rect x="203.91" y="324.03" width="4.27" height="10.76" fill="#a6611a" stroke="#7a4510" stroke-width="0.35"/>
<rect x="93.42" y="336.44" width="4.27" height="10.76" fill="#a6611a" stroke="#7a4510" stroke-width="0.35"/>
<rect x="253.63" y="348.85" width="4.27" height="10.76" fill="#018571" stroke="#015c4e" stroke-width="0.35"/>
<rect x="92.80" y="112.20" width="430.90" height="310.30" fill="none" stroke="#4a4a4a" stroke-width="0.8"/>
<text transform="translate(84.60,121.61) scale(0.93,1)" font-size="7.3" text-anchor="end" fill="#6b6b6b" font-weight="normal">79%</text>
<text transform="translate(531.30,121.61) scale(0.88,1)" font-size="7.3" text-anchor="start" fill="#6b6b6b" font-weight="normal">TP53</text>
<text transform="translate(84.60,134.02) scale(0.93,1)" font-size="7.3" text-anchor="end" fill="#6b6b6b" font-weight="normal">65%</text>
<text transform="translate(531.30,134.02) scale(0.88,1)" font-size="7.3" text-anchor="start" fill="#6b6b6b" font-weight="normal">FBXW7</text>
<text transform="translate(84.60,146.43) scale(0.93,1)" font-size="7.3" text-anchor="end" fill="#6b6b6b" font-weight="normal">63%</text>
<text transform="translate(531.30,146.43) scale(0.88,1)" font-size="7.3" text-anchor="start" fill="#6b6b6b" font-weight="normal">KRAS</text>
<text transform="translate(84.60,158.84) scale(0.93,1)" font-size="7.3" text-anchor="end" fill="#6b6b6b" font-weight="normal">54%</text>
<text transform="translate(531.30,158.84) scale(0.88,1)" font-size="7.3" text-anchor="start" fill="#6b6b6b" font-weight="normal">ERBB2</text>
<text transform="translate(84.60,171.25) scale(0.93,1)" font-size="7.3" text-anchor="end" fill="#6b6b6b" font-weight="normal">49%</text>
<text transform="translate(531.30,171.25) scale(0.88,1)" font-size="7.3" text-anchor="start" fill="#6b6b6b" font-weight="normal">APC</text>
<text transform="translate(84.60,183.67) scale(0.93,1)" font-size="7.3" text-anchor="end" fill="#6b6b6b" font-weight="normal">33%</text>
<text transform="translate(531.30,183.67) scale(0.88,1)" font-size="7.3" text-anchor="start" fill="#6b6b6b" font-weight="normal">BRAF</text>
<text transform="translate(84.60,196.08) scale(0.93,1)" font-size="7.3" text-anchor="end" fill="#6b6b6b" font-weight="normal">18%</text>
<text transform="translate(531.30,196.08) scale(0.88,1)" font-size="7.3" text-anchor="start" fill="#6b6b6b" font-weight="normal">PIK3CA</text>
<text transform="translate(84.60,208.49) scale(0.93,1)" font-size="7.3" text-anchor="end" fill="#6b6b6b" font-weight="normal">15%</text>
<text transform="translate(531.30,208.49) scale(0.88,1)" font-size="7.3" text-anchor="start" fill="#6b6b6b" font-weight="normal">SMAD4</text>
<text transform="translate(84.60,220.90) scale(0.93,1)" font-size="7.3" text-anchor="end" fill="#6b6b6b" font-weight="normal">9%</text>
<text transform="translate(531.30,220.90) scale(0.88,1)" font-size="7.3" text-anchor="start" fill="#6b6b6b" font-weight="normal">ATM</text>
<text transform="translate(84.60,233.31) scale(0.93,1)" font-size="7.3" text-anchor="end" fill="#6b6b6b" font-weight="normal">6%</text>
<text transform="translate(531.30,233.31) scale(0.88,1)" font-size="7.3" text-anchor="start" fill="#6b6b6b" font-weight="normal">NRAS</text>
<text transform="translate(84.60,245.73) scale(0.93,1)" font-size="7.3" text-anchor="end" fill="#6b6b6b" font-weight="normal">6%</text>
<text transform="translate(531.30,245.73) scale(0.88,1)" font-size="7.3" text-anchor="start" fill="#6b6b6b" font-weight="normal">PTEN</text>
<text transform="translate(84.60,258.14) scale(0.93,1)" font-size="7.3" text-anchor="end" fill="#6b6b6b" font-weight="normal">5%</text>
<text transform="translate(531.30,258.14) scale(0.88,1)" font-size="7.3" text-anchor="start" fill="#6b6b6b" font-weight="normal">GNAS</text>
<text transform="translate(84.60,270.55) scale(0.93,1)" font-size="7.3" text-anchor="end" fill="#6b6b6b" font-weight="normal">3%</text>
<text transform="translate(531.30,270.55) scale(0.88,1)" font-size="7.3" text-anchor="start" fill="#6b6b6b" font-weight="normal">AKT1</text>
<text transform="translate(84.60,282.96) scale(0.93,1)" font-size="7.3" text-anchor="end" fill="#6b6b6b" font-weight="normal">3%</text>
<text transform="translate(531.30,282.96) scale(0.88,1)" font-size="7.3" text-anchor="start" fill="#6b6b6b" font-weight="normal">CDH1</text>
<text transform="translate(84.60,295.37) scale(0.93,1)" font-size="7.3" text-anchor="end" fill="#6b6b6b" font-weight="normal">3%</text>
<text transform="translate(531.30,295.37) scale(0.88,1)" font-size="7.3" text-anchor="start" fill="#6b6b6b" font-weight="normal">IDH2</text>
<text transform="translate(84.60,307.79) scale(0.93,1)" font-size="7.3" text-anchor="end" fill="#6b6b6b" font-weight="normal">3%</text>
<text transform="translate(531.30,307.79) scale(0.88,1)" font-size="7.3" text-anchor="start" fill="#6b6b6b" font-weight="normal">MLH1</text>
<text transform="translate(84.60,320.20) scale(0.93,1)" font-size="7.3" text-anchor="end" fill="#6b6b6b" font-weight="normal">3%</text>
<text transform="translate(531.30,320.20) scale(0.88,1)" font-size="7.3" text-anchor="start" fill="#6b6b6b" font-weight="normal">RET</text>
<text transform="translate(84.60,332.61) scale(0.93,1)" font-size="7.3" text-anchor="end" fill="#6b6b6b" font-weight="normal">1%</text>
<text transform="translate(531.30,332.61) scale(0.88,1)" font-size="7.3" text-anchor="start" fill="#6b6b6b" font-weight="normal">IDH1</text>
<text transform="translate(84.60,345.02) scale(0.93,1)" font-size="7.3" text-anchor="end" fill="#6b6b6b" font-weight="normal">1%</text>
<text transform="translate(531.30,345.02) scale(0.88,1)" font-size="7.3" text-anchor="start" fill="#6b6b6b" font-weight="normal">JAK3</text>
<text transform="translate(84.60,357.43) scale(0.93,1)" font-size="7.3" text-anchor="end" fill="#6b6b6b" font-weight="normal">1%</text>
<text transform="translate(531.30,357.43) scale(0.88,1)" font-size="7.3" text-anchor="start" fill="#6b6b6b" font-weight="normal">STK11</text>
<text transform="translate(84.60,369.85) scale(0.93,1)" font-size="7.3" text-anchor="end" fill="#6b6b6b" font-weight="normal">0%</text>
<text transform="translate(531.30,369.85) scale(0.88,1)" font-size="7.3" text-anchor="start" fill="#6b6b6b" font-weight="normal">CDKN2A</text>
<text transform="translate(84.60,382.26) scale(0.93,1)" font-size="7.3" text-anchor="end" fill="#6b6b6b" font-weight="normal">0%</text>
<text transform="translate(531.30,382.26) scale(0.88,1)" font-size="7.3" text-anchor="start" fill="#6b6b6b" font-weight="normal">EGFR</text>
<text transform="translate(84.60,394.67) scale(0.93,1)" font-size="7.3" text-anchor="end" fill="#6b6b6b" font-weight="normal">0%</text>
<text transform="translate(531.30,394.67) scale(0.88,1)" font-size="7.3" text-anchor="start" fill="#6b6b6b" font-weight="normal">GNAQ</text>
<text transform="translate(84.60,407.08) scale(0.93,1)" font-size="7.3" text-anchor="end" fill="#6b6b6b" font-weight="normal">0%</text>
<text transform="translate(531.30,407.08) scale(0.88,1)" font-size="7.3" text-anchor="start" fill="#6b6b6b" font-weight="normal">SMARCB1</text>
<text transform="translate(84.60,419.49) scale(0.93,1)" font-size="7.3" text-anchor="end" fill="#6b6b6b" font-weight="normal">0%</text>
<text transform="translate(531.30,419.49) scale(0.88,1)" font-size="7.3" text-anchor="start" fill="#6b6b6b" font-weight="normal">SMO</text>
<line x1="612.56" y1="111.00" x2="612.56" y2="421.10" stroke="#d4d4d4" stroke-width="0.6"/>
<line x1="646.82" y1="111.00" x2="646.82" y2="421.10" stroke="#d4d4d4" stroke-width="0.6"/>
<line x1="681.08" y1="111.00" x2="681.08" y2="421.10" stroke="#d4d4d4" stroke-width="0.6"/>
<rect x="578.30" y="114.81" width="77.09" height="7.20" fill="#a6611a" stroke="#7a4510" stroke-width="0.35"/>
<rect x="655.38" y="114.81" width="6.85" height="7.20" fill="#dfc27d" stroke="#a8904f" stroke-width="0.35"/>
<rect x="662.24" y="114.81" width="11.99" height="7.20" fill="#80cdc1" stroke="#5a9c92" stroke-width="0.35"/>
<rect x="674.23" y="114.81" width="10.28" height="7.20" fill="#018571" stroke="#015c4e" stroke-width="0.35"/>
<rect x="578.30" y="127.22" width="54.82" height="7.20" fill="#a6611a" stroke="#7a4510" stroke-width="0.35"/>
<rect x="633.12" y="127.22" width="6.85" height="7.20" fill="#dfc27d" stroke="#a8904f" stroke-width="0.35"/>
<rect x="639.97" y="127.22" width="22.27" height="7.20" fill="#80cdc1" stroke="#5a9c92" stroke-width="0.35"/>
<rect x="662.24" y="127.22" width="3.43" height="7.20" fill="#018571" stroke="#015c4e" stroke-width="0.35"/>
<rect x="578.30" y="139.63" width="83.94" height="7.20" fill="#a6611a" stroke="#7a4510" stroke-width="0.35"/>
<rect x="578.30" y="152.04" width="71.95" height="7.20" fill="#a6611a" stroke="#7a4510" stroke-width="0.35"/>
<rect x="578.30" y="164.45" width="20.56" height="7.20" fill="#dfc27d" stroke="#a8904f" stroke-width="0.35"/>
<rect x="598.86" y="164.45" width="34.26" height="7.20" fill="#80cdc1" stroke="#5a9c92" stroke-width="0.35"/>
<rect x="633.12" y="164.45" width="10.28" height="7.20" fill="#018571" stroke="#015c4e" stroke-width="0.35"/>
<rect x="578.30" y="176.87" width="44.54" height="7.20" fill="#a6611a" stroke="#7a4510" stroke-width="0.35"/>
<rect x="578.30" y="189.28" width="23.98" height="7.20" fill="#a6611a" stroke="#7a4510" stroke-width="0.35"/>
<rect x="578.30" y="201.69" width="17.13" height="7.20" fill="#a6611a" stroke="#7a4510" stroke-width="0.35"/>
<rect x="595.43" y="201.69" width="1.71" height="7.20" fill="#80cdc1" stroke="#5a9c92" stroke-width="0.35"/>
<rect x="597.14" y="201.69" width="1.71" height="7.20" fill="#018571" stroke="#015c4e" stroke-width="0.35"/>
<rect x="578.30" y="214.10" width="10.28" height="7.20" fill="#80cdc1" stroke="#5a9c92" stroke-width="0.35"/>
<rect x="588.58" y="214.10" width="1.71" height="7.20" fill="#018571" stroke="#015c4e" stroke-width="0.35"/>
<rect x="578.30" y="226.51" width="8.57" height="7.20" fill="#a6611a" stroke="#7a4510" stroke-width="0.35"/>
<rect x="578.30" y="238.93" width="6.85" height="7.20" fill="#a6611a" stroke="#7a4510" stroke-width="0.35"/>
<rect x="585.15" y="238.93" width="1.71" height="7.20" fill="#80cdc1" stroke="#5a9c92" stroke-width="0.35"/>
<rect x="578.30" y="251.34" width="6.85" height="7.20" fill="#a6611a" stroke="#7a4510" stroke-width="0.35"/>
<rect x="578.30" y="263.75" width="3.43" height="7.20" fill="#a6611a" stroke="#7a4510" stroke-width="0.35"/>
<rect x="578.30" y="276.16" width="1.71" height="7.20" fill="#a6611a" stroke="#7a4510" stroke-width="0.35"/>
<rect x="580.01" y="276.16" width="1.71" height="7.20" fill="#018571" stroke="#015c4e" stroke-width="0.35"/>
<rect x="578.30" y="288.57" width="3.43" height="7.20" fill="#a6611a" stroke="#7a4510" stroke-width="0.35"/>
<rect x="578.30" y="300.99" width="1.71" height="7.20" fill="#a6611a" stroke="#7a4510" stroke-width="0.35"/>
<rect x="580.01" y="300.99" width="1.71" height="7.20" fill="#018571" stroke="#015c4e" stroke-width="0.35"/>
<rect x="578.30" y="313.40" width="3.43" height="7.20" fill="#a6611a" stroke="#7a4510" stroke-width="0.35"/>
<rect x="578.30" y="325.81" width="1.71" height="7.20" fill="#a6611a" stroke="#7a4510" stroke-width="0.35"/>
<rect x="578.30" y="338.22" width="1.71" height="7.20" fill="#a6611a" stroke="#7a4510" stroke-width="0.35"/>
<rect x="578.30" y="350.63" width="1.71" height="7.20" fill="#018571" stroke="#015c4e" stroke-width="0.35"/>
<line x1="578.30" y1="110.00" x2="578.30" y2="421.10" stroke="#555" stroke-width="0.8"/>
<line x1="578.30" y1="421.10" x2="685.00" y2="421.10" stroke="#555" stroke-width="0.8"/>
<line x1="578.30" y1="421.10" x2="578.30" y2="423.20" stroke="#555" stroke-width="0.6"/>
<text transform="translate(578.30,432.20) scale(0.88,1)" font-size="6.8" text-anchor="middle" fill="#6b6b6b" font-weight="normal">0</text>
<line x1="612.56" y1="421.10" x2="612.56" y2="423.20" stroke="#555" stroke-width="0.6"/>
<text transform="translate(612.56,432.20) scale(0.88,1)" font-size="6.8" text-anchor="middle" fill="#6b6b6b" font-weight="normal">20</text>
<line x1="646.82" y1="421.10" x2="646.82" y2="423.20" stroke="#555" stroke-width="0.6"/>
<text transform="translate(646.82,432.20) scale(0.88,1)" font-size="6.8" text-anchor="middle" fill="#6b6b6b" font-weight="normal">40</text>
<line x1="681.08" y1="421.10" x2="681.08" y2="423.20" stroke="#555" stroke-width="0.6"/>
<text transform="translate(681.08,432.20) scale(0.88,1)" font-size="6.8" text-anchor="middle" fill="#6b6b6b" font-weight="normal">60</text>
<text transform="translate(578.20,36.40) scale(0.88,1)" font-size="9.2" text-anchor="start" fill="#1d74bb" font-weight="bold">Alterations</text>
<rect x="579.70" y="43.60" width="4.60" height="9.40" fill="#a6611a" stroke="#808080" stroke-width="0.6" rx="0.6"/>
<text transform="translate(590.60,51.20) scale(0.88,1)" font-size="8.1" text-anchor="start" fill="#555" font-weight="normal">Missense</text>
<rect x="579.70" y="57.77" width="4.60" height="9.40" fill="#dfc27d" stroke="#808080" stroke-width="0.6" rx="0.6"/>
<text transform="translate(590.60,65.37) scale(0.88,1)" font-size="8.1" text-anchor="start" fill="#555" font-weight="normal">Frameshift</text>
<rect x="579.70" y="71.94" width="4.60" height="9.40" fill="#80cdc1" stroke="#808080" stroke-width="0.6" rx="0.6"/>
<text transform="translate(590.60,79.54) scale(0.88,1)" font-size="8.1" text-anchor="start" fill="#555" font-weight="normal">StopStart</text>
<rect x="579.70" y="86.11" width="4.60" height="9.40" fill="#018571" stroke="#808080" stroke-width="0.6" rx="0.6"/>
<text transform="translate(590.60,93.71) scale(0.88,1)" font-size="8.1" text-anchor="start" fill="#555" font-weight="normal">Splice</text>
<rect x="637.20" y="58.20" width="4.60" height="9.00" fill="#3d3d3d" rx="0.6"/>
<rect x="637.50" y="61.30" width="4.00" height="2.80" fill="#ffffff"/>
<text transform="translate(648.60,65.40) scale(0.88,1)" font-size="8.2" text-anchor="start" fill="#555" font-weight="normal">Putative</text>
<rect x="637.20" y="72.40" width="4.60" height="9.00" fill="#3d3d3d" rx="0.6"/>
<text transform="translate(648.60,79.70) scale(0.88,1)" font-size="8.2" text-anchor="start" fill="#555" font-weight="normal">Pathogenic</text>
<rect x="92.80" y="520.50" width="430.90" height="309.30" fill="#1e3465"/>
<g shape-rendering="auto">
<rect x="92.80" y="520.50" width="2.74" height="12.42" fill="#6e0a24"/>
<rect x="98.19" y="520.50" width="13.52" height="12.42" fill="#6e0a24"/>
<rect x="114.34" y="520.50" width="2.74" height="12.42" fill="#6e0a24"/>
<rect x="119.73" y="520.50" width="5.44" height="12.42" fill="#6e0a24"/>
<rect x="130.50" y="520.50" width="8.13" height="12.42" fill="#6e0a24"/>
<rect x="138.58" y="520.50" width="2.74" height="12.42" fill="#b2646c"/>
<rect x="141.28" y="520.50" width="2.74" height="12.42" fill="#d59ea2"/>
<rect x="143.97" y="520.50" width="2.74" height="12.42" fill="#e9c6c8"/>
<rect x="152.05" y="520.50" width="2.74" height="12.42" fill="#6e0a24"/>
<rect x="154.74" y="520.50" width="2.74" height="12.42" fill="#42558e"/>
<rect x="157.44" y="520.50" width="2.74" height="12.42" fill="#6e0a24"/>
<rect x="160.13" y="520.50" width="10.82" height="12.42" fill="#8c2c3c"/>
<rect x="173.59" y="520.50" width="2.74" height="12.42" fill="#d59ea2"/>
<rect x="178.98" y="520.50" width="2.74" height="12.42" fill="#e9c6c8"/>
<rect x="181.67" y="520.50" width="2.74" height="12.42" fill="#fcf6f7"/>
<rect x="184.37" y="520.50" width="2.74" height="12.42" fill="#e9c6c8"/>
<rect x="195.14" y="520.50" width="5.44" height="12.42" fill="#fcf6f7"/>
<rect x="200.53" y="520.50" width="5.44" height="12.42" fill="#e9c6c8"/>
<rect x="222.07" y="520.50" width="2.74" height="12.42" fill="#42558e"/>
<rect x="238.23" y="520.50" width="2.74" height="12.42" fill="#a6aed0"/>
<rect x="257.08" y="520.50" width="2.74" height="12.42" fill="#253d72"/>
<rect x="259.77" y="520.50" width="2.74" height="12.42" fill="#506199"/>
<rect x="289.40" y="520.50" width="2.74" height="12.42" fill="#506199"/>
<rect x="292.09" y="520.50" width="2.74" height="12.42" fill="#253d72"/>
<rect x="302.86" y="520.50" width="2.74" height="12.42" fill="#33487f"/>
<rect x="319.02" y="520.50" width="2.74" height="12.42" fill="#5f6ea3"/>
<rect x="321.72" y="520.50" width="2.74" height="12.42" fill="#253d72"/>
<rect x="367.50" y="520.50" width="2.74" height="12.42" fill="#253d72"/>
<rect x="440.21" y="520.50" width="8.13" height="12.42" fill="#253d72"/>
<rect x="480.61" y="520.50" width="2.74" height="12.42" fill="#506199"/>
<rect x="483.30" y="520.50" width="2.74" height="12.42" fill="#42558e"/>
<rect x="92.80" y="532.87" width="2.74" height="12.42" fill="#d59ea2"/>
<rect x="98.19" y="532.87" width="8.13" height="12.42" fill="#6e0a24"/>
<rect x="106.27" y="532.87" width="2.74" height="12.42" fill="#a6aed0"/>
<rect x="111.65" y="532.87" width="8.13" height="12.42" fill="#6e0a24"/>
<rect x="119.73" y="532.87" width="5.44" height="12.42" fill="#253d72"/>
<rect x="125.12" y="532.87" width="2.74" height="12.42" fill="#33487f"/>
<rect x="130.50" y="532.87" width="10.82" height="12.42" fill="#6e0a24"/>
<rect x="141.28" y="532.87" width="2.74" height="12.42" fill="#b2646c"/>
<rect x="143.97" y="532.87" width="5.44" height="12.42" fill="#6e0a24"/>
<rect x="149.36" y="532.87" width="2.74" height="12.42" fill="#d59ea2"/>
<rect x="162.82" y="532.87" width="2.74" height="12.42" fill="#33487f"/>
<rect x="176.29" y="532.87" width="8.13" height="12.42" fill="#d59ea2"/>
<rect x="184.37" y="532.87" width="2.74" height="12.42" fill="#e9c6c8"/>
<rect x="189.75" y="532.87" width="2.74" height="12.42" fill="#33487f"/>
<rect x="197.83" y="532.87" width="2.74" height="12.42" fill="#fcf6f7"/>
<rect x="205.91" y="532.87" width="2.74" height="12.42" fill="#33487f"/>
<rect x="208.60" y="532.87" width="2.74" height="12.42" fill="#5f6ea3"/>
<rect x="211.30" y="532.87" width="8.13" height="12.42" fill="#253d72"/>
<rect x="222.07" y="532.87" width="2.74" height="12.42" fill="#a6aed0"/>
<rect x="224.76" y="532.87" width="5.44" height="12.42" fill="#fcf6f7"/>
<rect x="230.15" y="532.87" width="5.44" height="12.42" fill="#c4c8e2"/>
<rect x="235.54" y="532.87" width="2.74" height="12.42" fill="#a6aed0"/>
<rect x="238.23" y="532.87" width="2.74" height="12.42" fill="#506199"/>
<rect x="249.00" y="532.87" width="5.44" height="12.42" fill="#5f6ea3"/>
<rect x="254.39" y="532.87" width="2.74" height="12.42" fill="#42558e"/>
<rect x="257.08" y="532.87" width="2.74" height="12.42" fill="#506199"/>
<rect x="259.77" y="532.87" width="2.74" height="12.42" fill="#8a93be"/>
<rect x="262.47" y="532.87" width="2.74" height="12.42" fill="#737eb0"/>
<rect x="265.16" y="532.87" width="16.21" height="12.42" fill="#253d72"/>
<rect x="281.32" y="532.87" width="2.74" height="12.42" fill="#42558e"/>
<rect x="284.01" y="532.87" width="2.74" height="12.42" fill="#506199"/>
<rect x="286.71" y="532.87" width="2.74" height="12.42" fill="#33487f"/>
<rect x="289.40" y="532.87" width="2.74" height="12.42" fill="#5f6ea3"/>
<rect x="292.09" y="532.87" width="2.74" height="12.42" fill="#506199"/>
<rect x="294.78" y="532.87" width="2.74" height="12.42" fill="#5f6ea3"/>
<rect x="297.48" y="532.87" width="2.74" height="12.42" fill="#737eb0"/>
<rect x="300.17" y="532.87" width="2.74" height="12.42" fill="#8a93be"/>
<rect x="302.86" y="532.87" width="2.74" height="12.42" fill="#737eb0"/>
<rect x="305.56" y="532.87" width="2.74" height="12.42" fill="#5f6ea3"/>
<rect x="308.25" y="532.87" width="5.44" height="12.42" fill="#506199"/>
<rect x="313.64" y="532.87" width="2.74" height="12.42" fill="#42558e"/>
<rect x="321.72" y="532.87" width="2.74" height="12.42" fill="#42558e"/>
<rect x="324.41" y="532.87" width="2.74" height="12.42" fill="#506199"/>
<rect x="329.80" y="532.87" width="2.74" height="12.42" fill="#253d72"/>
<rect x="348.65" y="532.87" width="5.44" height="12.42" fill="#42558e"/>
<rect x="354.03" y="532.87" width="2.74" height="12.42" fill="#253d72"/>
<rect x="356.73" y="532.87" width="5.44" height="12.42" fill="#506199"/>
<rect x="440.21" y="532.87" width="13.52" height="12.42" fill="#253d72"/>
<rect x="459.07" y="532.87" width="8.13" height="12.42" fill="#42558e"/>
<rect x="486.00" y="532.87" width="2.74" height="12.42" fill="#33487f"/>
<rect x="488.69" y="532.87" width="5.44" height="12.42" fill="#42558e"/>
<rect x="494.08" y="532.87" width="2.74" height="12.42" fill="#33487f"/>
<rect x="496.77" y="532.87" width="2.74" height="12.42" fill="#42558e"/>
<rect x="499.46" y="532.87" width="2.74" height="12.42" fill="#506199"/>
<rect x="502.16" y="532.87" width="5.44" height="12.42" fill="#5f6ea3"/>
<rect x="507.54" y="532.87" width="2.74" height="12.42" fill="#42558e"/>
<rect x="518.31" y="532.87" width="2.74" height="12.42" fill="#253d72"/>
<rect x="521.01" y="532.87" width="2.74" height="12.42" fill="#5f6ea3"/>
<rect x="92.80" y="545.24" width="2.74" height="12.42" fill="#a6aed0"/>
<rect x="98.19" y="545.24" width="2.74" height="12.42" fill="#6e0a24"/>
<rect x="106.27" y="545.24" width="2.74" height="12.42" fill="#6e0a24"/>
<rect x="111.65" y="545.24" width="2.74" height="12.42" fill="#6e0a24"/>
<rect x="114.34" y="545.24" width="2.74" height="12.42" fill="#253d72"/>
<rect x="117.04" y="545.24" width="2.74" height="12.42" fill="#737eb0"/>
<rect x="119.73" y="545.24" width="8.13" height="12.42" fill="#6e0a24"/>
<rect x="127.81" y="545.24" width="2.74" height="12.42" fill="#fcf6f7"/>
<rect x="130.50" y="545.24" width="2.74" height="12.42" fill="#6e0a24"/>
<rect x="133.20" y="545.24" width="5.44" height="12.42" fill="#33487f"/>
<rect x="138.58" y="545.24" width="2.74" height="12.42" fill="#d59ea2"/>
<rect x="141.28" y="545.24" width="2.74" height="12.42" fill="#506199"/>
<rect x="149.36" y="545.24" width="5.44" height="12.42" fill="#33487f"/>
<rect x="154.74" y="545.24" width="2.74" height="12.42" fill="#a6aed0"/>
<rect x="157.44" y="545.24" width="2.74" height="12.42" fill="#5f6ea3"/>
<rect x="162.82" y="545.24" width="2.74" height="12.42" fill="#5f6ea3"/>
<rect x="168.21" y="545.24" width="2.74" height="12.42" fill="#fcf6f7"/>
<rect x="173.59" y="545.24" width="5.44" height="12.42" fill="#8a93be"/>
<rect x="181.67" y="545.24" width="2.74" height="12.42" fill="#737eb0"/>
<rect x="184.37" y="545.24" width="2.74" height="12.42" fill="#33487f"/>
<rect x="187.06" y="545.24" width="2.74" height="12.42" fill="#253d72"/>
<rect x="189.75" y="545.24" width="8.13" height="12.42" fill="#e9c6c8"/>
<rect x="205.91" y="545.24" width="5.44" height="12.42" fill="#fcf6f7"/>
<rect x="211.30" y="545.24" width="5.44" height="12.42" fill="#f5e6e7"/>
<rect x="216.68" y="545.24" width="5.44" height="12.42" fill="#fcf6f7"/>
<rect x="224.76" y="545.24" width="2.74" height="12.42" fill="#5f6ea3"/>
<rect x="227.46" y="545.24" width="2.74" height="12.42" fill="#506199"/>
<rect x="232.84" y="545.24" width="2.74" height="12.42" fill="#33487f"/>
<rect x="235.54" y="545.24" width="2.74" height="12.42" fill="#506199"/>
<rect x="240.92" y="545.24" width="2.74" height="12.42" fill="#5f6ea3"/>
<rect x="243.62" y="545.24" width="2.74" height="12.42" fill="#8a93be"/>
<rect x="246.31" y="545.24" width="2.74" height="12.42" fill="#506199"/>
<rect x="251.69" y="545.24" width="2.74" height="12.42" fill="#33487f"/>
<rect x="254.39" y="545.24" width="2.74" height="12.42" fill="#5f6ea3"/>
<rect x="257.08" y="545.24" width="2.74" height="12.42" fill="#737eb0"/>
<rect x="259.77" y="545.24" width="5.44" height="12.42" fill="#8a93be"/>
<rect x="265.16" y="545.24" width="2.74" height="12.42" fill="#a6aed0"/>
<rect x="267.85" y="545.24" width="5.44" height="12.42" fill="#c4c8e2"/>
<rect x="273.24" y="545.24" width="2.74" height="12.42" fill="#a6aed0"/>
<rect x="275.93" y="545.24" width="2.74" height="12.42" fill="#253d72"/>
<rect x="278.63" y="545.24" width="2.74" height="12.42" fill="#42558e"/>
<rect x="281.32" y="545.24" width="2.74" height="12.42" fill="#506199"/>
<rect x="284.01" y="545.24" width="2.74" height="12.42" fill="#33487f"/>
<rect x="319.02" y="545.24" width="2.74" height="12.42" fill="#253d72"/>
<rect x="321.72" y="545.24" width="2.74" height="12.42" fill="#33487f"/>
<rect x="324.41" y="545.24" width="5.44" height="12.42" fill="#42558e"/>
<rect x="332.49" y="545.24" width="2.74" height="12.42" fill="#253d72"/>
<rect x="337.87" y="545.24" width="2.74" height="12.42" fill="#253d72"/>
<rect x="340.57" y="545.24" width="2.74" height="12.42" fill="#42558e"/>
<rect x="345.95" y="545.24" width="2.74" height="12.42" fill="#42558e"/>
<rect x="348.65" y="545.24" width="2.74" height="12.42" fill="#253d72"/>
<rect x="356.73" y="545.24" width="2.74" height="12.42" fill="#253d72"/>
<rect x="448.29" y="545.24" width="10.82" height="12.42" fill="#253d72"/>
<rect x="459.07" y="545.24" width="5.44" height="12.42" fill="#5f6ea3"/>
<rect x="464.45" y="545.24" width="2.74" height="12.42" fill="#506199"/>
<rect x="467.14" y="545.24" width="2.74" height="12.42" fill="#737eb0"/>
<rect x="469.84" y="545.24" width="2.74" height="12.42" fill="#5f6ea3"/>
<rect x="472.53" y="545.24" width="5.44" height="12.42" fill="#737eb0"/>
<rect x="477.92" y="545.24" width="29.67" height="12.42" fill="#5f6ea3"/>
<rect x="507.54" y="545.24" width="5.44" height="12.42" fill="#737eb0"/>
<rect x="512.93" y="545.24" width="2.74" height="12.42" fill="#5f6ea3"/>
<rect x="515.62" y="545.24" width="2.74" height="12.42" fill="#737eb0"/>
<rect x="518.31" y="545.24" width="2.74" height="12.42" fill="#5f6ea3"/>
<rect x="521.01" y="545.24" width="2.74" height="12.42" fill="#a83444"/>
<rect x="108.96" y="557.62" width="2.74" height="12.42" fill="#5f6ea3"/>
<rect x="125.12" y="557.62" width="5.44" height="12.42" fill="#6e0a24"/>
<rect x="141.28" y="557.62" width="2.74" height="12.42" fill="#5f6ea3"/>
<rect x="154.74" y="557.62" width="2.74" height="12.42" fill="#6e0a24"/>
<rect x="157.44" y="557.62" width="2.74" height="12.42" fill="#fcf6f7"/>
<rect x="160.13" y="557.62" width="2.74" height="12.42" fill="#d59ea2"/>
<rect x="181.67" y="557.62" width="2.74" height="12.42" fill="#506199"/>
<rect x="184.37" y="557.62" width="2.74" height="12.42" fill="#fcf6f7"/>
<rect x="187.06" y="557.62" width="2.74" height="12.42" fill="#d59ea2"/>
<rect x="192.45" y="557.62" width="2.74" height="12.42" fill="#a6aed0"/>
<rect x="205.91" y="557.62" width="2.74" height="12.42" fill="#506199"/>
<rect x="211.30" y="557.62" width="2.74" height="12.42" fill="#5f6ea3"/>
<rect x="213.99" y="557.62" width="2.74" height="12.42" fill="#506199"/>
<rect x="216.68" y="557.62" width="2.74" height="12.42" fill="#a6aed0"/>
<rect x="219.38" y="557.62" width="2.74" height="12.42" fill="#506199"/>
<rect x="224.76" y="557.62" width="2.74" height="12.42" fill="#253d72"/>
<rect x="227.46" y="557.62" width="2.74" height="12.42" fill="#506199"/>
<rect x="240.92" y="557.62" width="2.74" height="12.42" fill="#a6aed0"/>
<rect x="249.00" y="557.62" width="2.74" height="12.42" fill="#253d72"/>
<rect x="254.39" y="557.62" width="2.74" height="12.42" fill="#c4c8e2"/>
<rect x="257.08" y="557.62" width="2.74" height="12.42" fill="#506199"/>
<rect x="267.85" y="557.62" width="2.74" height="12.42" fill="#506199"/>
<rect x="270.55" y="557.62" width="2.74" height="12.42" fill="#253d72"/>
<rect x="275.93" y="557.62" width="2.74" height="12.42" fill="#253d72"/>
<rect x="278.63" y="557.62" width="2.74" height="12.42" fill="#42558e"/>
<rect x="300.17" y="557.62" width="2.74" height="12.42" fill="#42558e"/>
<rect x="319.02" y="557.62" width="2.74" height="12.42" fill="#33487f"/>
<rect x="321.72" y="557.62" width="2.74" height="12.42" fill="#42558e"/>
<rect x="324.41" y="557.62" width="2.74" height="12.42" fill="#5f6ea3"/>
<rect x="327.10" y="557.62" width="2.74" height="12.42" fill="#253d72"/>
<rect x="329.80" y="557.62" width="2.74" height="12.42" fill="#506199"/>
<rect x="332.49" y="557.62" width="5.44" height="12.42" fill="#737eb0"/>
<rect x="354.03" y="557.62" width="2.74" height="12.42" fill="#253d72"/>
<rect x="367.50" y="557.62" width="2.74" height="12.42" fill="#253d72"/>
<rect x="472.53" y="557.62" width="2.74" height="12.42" fill="#33487f"/>
<rect x="486.00" y="557.62" width="8.13" height="12.42" fill="#253d72"/>
<rect x="510.23" y="557.62" width="2.74" height="12.42" fill="#42558e"/>
<rect x="114.34" y="569.99" width="5.44" height="12.42" fill="#42558e"/>
<rect x="119.73" y="569.99" width="2.74" height="12.42" fill="#6e0a24"/>
<rect x="127.81" y="569.99" width="2.74" height="12.42" fill="#d59ea2"/>
<rect x="135.89" y="569.99" width="2.74" height="12.42" fill="#737eb0"/>
<rect x="154.74" y="569.99" width="2.74" height="12.42" fill="#a6aed0"/>
<rect x="162.82" y="569.99" width="2.74" height="12.42" fill="#c4c8e2"/>
<rect x="170.90" y="569.99" width="2.74" height="12.42" fill="#33487f"/>
<rect x="176.29" y="569.99" width="2.74" height="12.42" fill="#a6aed0"/>
<rect x="178.98" y="569.99" width="2.74" height="12.42" fill="#33487f"/>
<rect x="189.75" y="569.99" width="2.74" height="12.42" fill="#a6aed0"/>
<rect x="192.45" y="569.99" width="2.74" height="12.42" fill="#253d72"/>
<rect x="205.91" y="569.99" width="2.74" height="12.42" fill="#506199"/>
<rect x="208.60" y="569.99" width="2.74" height="12.42" fill="#5f6ea3"/>
<rect x="211.30" y="569.99" width="5.44" height="12.42" fill="#a6aed0"/>
<rect x="216.68" y="569.99" width="2.74" height="12.42" fill="#5f6ea3"/>
<rect x="224.76" y="569.99" width="2.74" height="12.42" fill="#33487f"/>
<rect x="238.23" y="569.99" width="2.74" height="12.42" fill="#c4c8e2"/>
<rect x="240.92" y="569.99" width="5.44" height="12.42" fill="#fcf6f7"/>
<rect x="246.31" y="569.99" width="2.74" height="12.42" fill="#c4c8e2"/>
<rect x="249.00" y="569.99" width="2.74" height="12.42" fill="#a6aed0"/>
<rect x="251.69" y="569.99" width="2.74" height="12.42" fill="#506199"/>
<rect x="257.08" y="569.99" width="2.74" height="12.42" fill="#33487f"/>
<rect x="259.77" y="569.99" width="5.44" height="12.42" fill="#506199"/>
<rect x="265.16" y="569.99" width="5.44" height="12.42" fill="#42558e"/>
<rect x="270.55" y="569.99" width="2.74" height="12.42" fill="#506199"/>
<rect x="275.93" y="569.99" width="2.74" height="12.42" fill="#253d72"/>
<rect x="278.63" y="569.99" width="2.74" height="12.42" fill="#506199"/>
<rect x="281.32" y="569.99" width="2.74" height="12.42" fill="#737eb0"/>
<rect x="284.01" y="569.99" width="2.74" height="12.42" fill="#506199"/>
<rect x="286.71" y="569.99" width="5.44" height="12.42" fill="#253d72"/>
<rect x="300.17" y="569.99" width="2.74" height="12.42" fill="#42558e"/>
<rect x="316.33" y="569.99" width="2.74" height="12.42" fill="#33487f"/>
<rect x="319.02" y="569.99" width="5.44" height="12.42" fill="#253d72"/>
<rect x="327.10" y="569.99" width="5.44" height="12.42" fill="#253d72"/>
<rect x="332.49" y="569.99" width="2.74" height="12.42" fill="#42558e"/>
<rect x="337.87" y="569.99" width="10.82" height="12.42" fill="#253d72"/>
<rect x="348.65" y="569.99" width="5.44" height="12.42" fill="#42558e"/>
<rect x="370.19" y="569.99" width="2.74" height="12.42" fill="#253d72"/>
<rect x="424.05" y="569.99" width="2.74" height="12.42" fill="#506199"/>
<rect x="434.83" y="569.99" width="5.44" height="12.42" fill="#506199"/>
<rect x="440.21" y="569.99" width="2.74" height="12.42" fill="#253d72"/>
<rect x="442.91" y="569.99" width="2.74" height="12.42" fill="#33487f"/>
<rect x="445.60" y="569.99" width="2.74" height="12.42" fill="#253d72"/>
<rect x="448.29" y="569.99" width="2.74" height="12.42" fill="#5f6ea3"/>
<rect x="450.99" y="569.99" width="2.74" height="12.42" fill="#8a93be"/>
<rect x="453.68" y="569.99" width="2.74" height="12.42" fill="#737eb0"/>
<rect x="456.37" y="569.99" width="2.74" height="12.42" fill="#5f6ea3"/>
<rect x="459.07" y="569.99" width="2.74" height="12.42" fill="#737eb0"/>
<rect x="461.76" y="569.99" width="5.44" height="12.42" fill="#5f6ea3"/>
<rect x="467.14" y="569.99" width="2.74" height="12.42" fill="#737eb0"/>
<rect x="469.84" y="569.99" width="8.13" height="12.42" fill="#5f6ea3"/>
<rect x="477.92" y="569.99" width="2.74" height="12.42" fill="#506199"/>
<rect x="486.00" y="569.99" width="2.74" height="12.42" fill="#33487f"/>
<rect x="491.38" y="569.99" width="2.74" height="12.42" fill="#42558e"/>
<rect x="494.08" y="569.99" width="2.74" height="12.42" fill="#253d72"/>
<rect x="496.77" y="569.99" width="2.74" height="12.42" fill="#33487f"/>
<rect x="502.16" y="569.99" width="2.74" height="12.42" fill="#33487f"/>
<rect x="521.01" y="569.99" width="2.74" height="12.42" fill="#253d72"/>
<rect x="95.49" y="582.36" width="2.74" height="12.42" fill="#5f6ea3"/>
<rect x="106.27" y="582.36" width="10.82" height="12.42" fill="#253d72"/>
<rect x="125.12" y="582.36" width="2.74" height="12.42" fill="#6e0a24"/>
<rect x="127.81" y="582.36" width="2.74" height="12.42" fill="#5f6ea3"/>
<rect x="130.50" y="582.36" width="2.74" height="12.42" fill="#6e0a24"/>
<rect x="133.20" y="582.36" width="2.74" height="12.42" fill="#d59ea2"/>
<rect x="146.66" y="582.36" width="2.74" height="12.42" fill="#b2646c"/>
<rect x="149.36" y="582.36" width="2.74" height="12.42" fill="#6e0a24"/>
<rect x="152.05" y="582.36" width="2.74" height="12.42" fill="#5f6ea3"/>
<rect x="154.74" y="582.36" width="2.74" height="12.42" fill="#506199"/>
<rect x="157.44" y="582.36" width="2.74" height="12.42" fill="#8a93be"/>
<rect x="162.82" y="582.36" width="2.74" height="12.42" fill="#c4c8e2"/>
<rect x="173.59" y="582.36" width="2.74" height="12.42" fill="#e9c6c8"/>
<rect x="178.98" y="582.36" width="2.74" height="12.42" fill="#506199"/>
<rect x="181.67" y="582.36" width="2.74" height="12.42" fill="#5f6ea3"/>
<rect x="187.06" y="582.36" width="2.74" height="12.42" fill="#253d72"/>
<rect x="189.75" y="582.36" width="2.74" height="12.42" fill="#42558e"/>
<rect x="192.45" y="582.36" width="2.74" height="12.42" fill="#253d72"/>
<rect x="197.83" y="582.36" width="2.74" height="12.42" fill="#fcf6f7"/>
<rect x="205.91" y="582.36" width="2.74" height="12.42" fill="#fcf6f7"/>
<rect x="213.99" y="582.36" width="2.74" height="12.42" fill="#42558e"/>
<rect x="219.38" y="582.36" width="2.74" height="12.42" fill="#253d72"/>
<rect x="224.76" y="582.36" width="2.74" height="12.42" fill="#506199"/>
<rect x="232.84" y="582.36" width="2.74" height="12.42" fill="#33487f"/>
<rect x="238.23" y="582.36" width="2.74" height="12.42" fill="#8a93be"/>
<rect x="243.62" y="582.36" width="2.74" height="12.42" fill="#42558e"/>
<rect x="249.00" y="582.36" width="2.74" height="12.42" fill="#506199"/>
<rect x="257.08" y="582.36" width="2.74" height="12.42" fill="#42558e"/>
<rect x="259.77" y="582.36" width="2.74" height="12.42" fill="#253d72"/>
<rect x="262.47" y="582.36" width="5.44" height="12.42" fill="#42558e"/>
<rect x="267.85" y="582.36" width="2.74" height="12.42" fill="#506199"/>
<rect x="270.55" y="582.36" width="2.74" height="12.42" fill="#33487f"/>
<rect x="273.24" y="582.36" width="2.74" height="12.42" fill="#506199"/>
<rect x="275.93" y="582.36" width="2.74" height="12.42" fill="#737eb0"/>
<rect x="278.63" y="582.36" width="2.74" height="12.42" fill="#42558e"/>
<rect x="281.32" y="582.36" width="5.44" height="12.42" fill="#5f6ea3"/>
<rect x="286.71" y="582.36" width="5.44" height="12.42" fill="#737eb0"/>
<rect x="292.09" y="582.36" width="2.74" height="12.42" fill="#8a93be"/>
<rect x="294.78" y="582.36" width="2.74" height="12.42" fill="#737eb0"/>
<rect x="297.48" y="582.36" width="2.74" height="12.42" fill="#253d72"/>
<rect x="316.33" y="582.36" width="10.82" height="12.42" fill="#253d72"/>
<rect x="327.10" y="582.36" width="2.74" height="12.42" fill="#33487f"/>
<rect x="329.80" y="582.36" width="2.74" height="12.42" fill="#42558e"/>
<rect x="337.87" y="582.36" width="2.74" height="12.42" fill="#42558e"/>
<rect x="340.57" y="582.36" width="2.74" height="12.42" fill="#33487f"/>
<rect x="343.26" y="582.36" width="10.82" height="12.42" fill="#253d72"/>
<rect x="356.73" y="582.36" width="2.74" height="12.42" fill="#42558e"/>
<rect x="359.42" y="582.36" width="5.44" height="12.42" fill="#506199"/>
<rect x="364.81" y="582.36" width="2.74" height="12.42" fill="#42558e"/>
<rect x="367.50" y="582.36" width="2.74" height="12.42" fill="#253d72"/>
<rect x="372.89" y="582.36" width="2.74" height="12.42" fill="#253d72"/>
<rect x="424.05" y="582.36" width="2.74" height="12.42" fill="#a6aed0"/>
<rect x="426.75" y="582.36" width="2.74" height="12.42" fill="#8a93be"/>
<rect x="429.44" y="582.36" width="2.74" height="12.42" fill="#5f6ea3"/>
<rect x="432.13" y="582.36" width="2.74" height="12.42" fill="#737eb0"/>
<rect x="434.83" y="582.36" width="2.74" height="12.42" fill="#5f6ea3"/>
<rect x="437.52" y="582.36" width="2.74" height="12.42" fill="#737eb0"/>
<rect x="440.21" y="582.36" width="8.13" height="12.42" fill="#5f6ea3"/>
<rect x="450.99" y="582.36" width="5.44" height="12.42" fill="#33487f"/>
<rect x="456.37" y="582.36" width="2.74" height="12.42" fill="#253d72"/>
<rect x="459.07" y="582.36" width="2.74" height="12.42" fill="#33487f"/>
<rect x="461.76" y="582.36" width="2.74" height="12.42" fill="#42558e"/>
<rect x="480.61" y="582.36" width="2.74" height="12.42" fill="#5f6ea3"/>
<rect x="486.00" y="582.36" width="2.74" height="12.42" fill="#42558e"/>
<rect x="488.69" y="582.36" width="2.74" height="12.42" fill="#33487f"/>
<rect x="496.77" y="582.36" width="5.44" height="12.42" fill="#506199"/>
<rect x="512.93" y="582.36" width="2.74" height="12.42" fill="#506199"/>
<rect x="521.01" y="582.36" width="2.74" height="12.42" fill="#506199"/>
<rect x="100.88" y="594.73" width="2.74" height="12.42" fill="#6e0a24"/>
<rect x="106.27" y="594.73" width="2.74" height="12.42" fill="#506199"/>
<rect x="119.73" y="594.73" width="2.74" height="12.42" fill="#42558e"/>
<rect x="133.20" y="594.73" width="2.74" height="12.42" fill="#253d72"/>
<rect x="138.58" y="594.73" width="2.74" height="12.42" fill="#fcf6f7"/>
<rect x="152.05" y="594.73" width="2.74" height="12.42" fill="#e9c6c8"/>
<rect x="176.29" y="594.73" width="2.74" height="12.42" fill="#fcf6f7"/>
<rect x="178.98" y="594.73" width="5.44" height="12.42" fill="#253d72"/>
<rect x="208.60" y="594.73" width="2.74" height="12.42" fill="#a6aed0"/>
<rect x="222.07" y="594.73" width="2.74" height="12.42" fill="#c4c8e2"/>
<rect x="249.00" y="594.73" width="2.74" height="12.42" fill="#33487f"/>
<rect x="262.47" y="594.73" width="5.44" height="12.42" fill="#33487f"/>
<rect x="278.63" y="594.73" width="2.74" height="12.42" fill="#33487f"/>
<rect x="289.40" y="594.73" width="2.74" height="12.42" fill="#42558e"/>
<rect x="340.57" y="594.73" width="5.44" height="12.42" fill="#253d72"/>
<rect x="354.03" y="594.73" width="2.74" height="12.42" fill="#506199"/>
<rect x="111.65" y="607.10" width="2.74" height="12.42" fill="#5f6ea3"/>
<rect x="181.67" y="607.10" width="2.74" height="12.42" fill="#42558e"/>
<rect x="189.75" y="607.10" width="2.74" height="12.42" fill="#253d72"/>
<rect x="200.53" y="607.10" width="2.74" height="12.42" fill="#506199"/>
<rect x="205.91" y="607.10" width="2.74" height="12.42" fill="#42558e"/>
<rect x="275.93" y="607.10" width="2.74" height="12.42" fill="#8a93be"/>
<rect x="278.63" y="607.10" width="2.74" height="12.42" fill="#5f6ea3"/>
<rect x="286.71" y="607.10" width="2.74" height="12.42" fill="#506199"/>
<rect x="486.00" y="607.10" width="2.74" height="12.42" fill="#33487f"/>
<rect x="494.08" y="607.10" width="2.74" height="12.42" fill="#253d72"/>
<rect x="138.58" y="619.48" width="2.74" height="12.42" fill="#33487f"/>
<rect x="154.74" y="619.48" width="2.74" height="12.42" fill="#506199"/>
<rect x="168.21" y="619.48" width="2.74" height="12.42" fill="#253d72"/>
<rect x="189.75" y="619.48" width="2.74" height="12.42" fill="#253d72"/>
<rect x="232.84" y="619.48" width="2.74" height="12.42" fill="#42558e"/>
<rect x="240.92" y="619.48" width="2.74" height="12.42" fill="#a6aed0"/>
<rect x="257.08" y="619.48" width="2.74" height="12.42" fill="#253d72"/>
<rect x="265.16" y="619.48" width="2.74" height="12.42" fill="#8a93be"/>
<rect x="313.64" y="619.48" width="2.74" height="12.42" fill="#a6aed0"/>
<rect x="321.72" y="619.48" width="5.44" height="12.42" fill="#253d72"/>
<rect x="343.26" y="619.48" width="2.74" height="12.42" fill="#253d72"/>
<rect x="354.03" y="619.48" width="2.74" height="12.42" fill="#253d72"/>
<rect x="445.60" y="619.48" width="2.74" height="12.42" fill="#253d72"/>
<rect x="448.29" y="619.48" width="5.44" height="12.42" fill="#33487f"/>
<rect x="106.27" y="631.85" width="2.74" height="12.42" fill="#a6aed0"/>
<rect x="133.20" y="631.85" width="2.74" height="12.42" fill="#42558e"/>
<rect x="249.00" y="631.85" width="2.74" height="12.42" fill="#33487f"/>
<rect x="262.47" y="631.85" width="5.44" height="12.42" fill="#253d72"/>
<rect x="313.64" y="631.85" width="2.74" height="12.42" fill="#42558e"/>
<rect x="486.00" y="631.85" width="2.74" height="12.42" fill="#253d72"/>
<rect x="141.28" y="644.22" width="2.74" height="12.42" fill="#42558e"/>
<rect x="157.44" y="644.22" width="2.74" height="12.42" fill="#8a93be"/>
<rect x="181.67" y="644.22" width="2.74" height="12.42" fill="#33487f"/>
<rect x="133.20" y="656.59" width="2.74" height="12.42" fill="#253d72"/>
<rect x="222.07" y="656.59" width="2.74" height="12.42" fill="#8a93be"/>
<rect x="262.47" y="656.59" width="2.74" height="12.42" fill="#33487f"/>
<rect x="257.08" y="668.96" width="2.74" height="12.42" fill="#253d72"/>
<rect x="321.72" y="668.96" width="2.74" height="12.42" fill="#33487f"/>
<rect x="324.41" y="668.96" width="2.74" height="12.42" fill="#253d72"/>
<rect x="168.21" y="681.34" width="2.74" height="12.42" fill="#253d72"/>
<rect x="262.47" y="681.34" width="2.74" height="12.42" fill="#253d72"/>
<rect x="286.71" y="693.71" width="2.74" height="12.42" fill="#33487f"/>
<rect x="421.36" y="706.08" width="2.74" height="12.42" fill="#253d72"/>
<rect x="106.27" y="718.45" width="2.74" height="12.42" fill="#253d72"/>
<rect x="152.05" y="718.45" width="2.74" height="12.42" fill="#253d72"/>
<rect x="130.50" y="730.82" width="2.74" height="12.42" fill="#253d72"/>
<rect x="292.09" y="743.20" width="2.74" height="12.42" fill="#253d72"/>
<rect x="327.10" y="755.57" width="2.74" height="12.42" fill="#253d72"/>
<rect x="232.84" y="780.31" width="2.74" height="12.42" fill="#253d72"/>
<rect x="98.19" y="792.68" width="2.74" height="12.42" fill="#fcf6f7"/>
<rect x="321.72" y="792.68" width="2.74" height="12.42" fill="#33487f"/>
<rect x="114.34" y="805.06" width="2.74" height="12.42" fill="#253d72"/>
<rect x="117.04" y="805.06" width="2.74" height="12.42" fill="#6e0a24"/>
<rect x="122.42" y="805.06" width="2.74" height="12.42" fill="#42558e"/>
<rect x="173.59" y="805.06" width="2.74" height="12.42" fill="#d59ea2"/>
<rect x="192.45" y="805.06" width="2.74" height="12.42" fill="#253d72"/>
<rect x="197.83" y="805.06" width="2.74" height="12.42" fill="#fcf6f7"/>
<rect x="275.93" y="805.06" width="2.74" height="12.42" fill="#33487f"/>
<rect x="281.32" y="805.06" width="2.74" height="12.42" fill="#253d72"/>
<rect x="340.57" y="805.06" width="2.74" height="12.42" fill="#33487f"/>
<rect x="448.29" y="805.06" width="2.74" height="12.42" fill="#506199"/>
<rect x="95.49" y="817.43" width="2.74" height="12.42" fill="#6e0a24"/>
<rect x="106.27" y="817.43" width="2.74" height="12.42" fill="#d59ea2"/>
<rect x="111.65" y="817.43" width="13.52" height="12.42" fill="#6e0a24"/>
<rect x="146.66" y="817.43" width="2.74" height="12.42" fill="#d59ea2"/>
<rect x="152.05" y="817.43" width="2.74" height="12.42" fill="#e9c6c8"/>
<rect x="168.21" y="817.43" width="2.74" height="12.42" fill="#253d72"/>
<rect x="170.90" y="817.43" width="2.74" height="12.42" fill="#6e0a24"/>
<rect x="200.53" y="817.43" width="2.74" height="12.42" fill="#33487f"/>
<rect x="232.84" y="817.43" width="2.74" height="12.42" fill="#253d72"/>
<rect x="257.08" y="817.43" width="2.74" height="12.42" fill="#253d72"/>
<rect x="275.93" y="817.43" width="2.74" height="12.42" fill="#253d72"/>
<rect x="284.01" y="817.43" width="2.74" height="12.42" fill="#253d72"/>
<rect x="442.91" y="817.43" width="2.74" height="12.42" fill="#253d72"/>
<rect x="472.53" y="817.43" width="2.74" height="12.42" fill="#253d72"/>
<rect x="488.69" y="817.43" width="2.74" height="12.42" fill="#253d72"/>
</g>
<line x1="92.80" y1="532.87" x2="523.70" y2="532.87" stroke="#ffffff" stroke-opacity="0.09" stroke-width="0.25"/>
<line x1="92.80" y1="545.24" x2="523.70" y2="545.24" stroke="#ffffff" stroke-opacity="0.09" stroke-width="0.25"/>
<line x1="92.80" y1="557.62" x2="523.70" y2="557.62" stroke="#ffffff" stroke-opacity="0.09" stroke-width="0.25"/>
<line x1="92.80" y1="569.99" x2="523.70" y2="569.99" stroke="#ffffff" stroke-opacity="0.09" stroke-width="0.25"/>
<line x1="92.80" y1="582.36" x2="523.70" y2="582.36" stroke="#ffffff" stroke-opacity="0.09" stroke-width="0.25"/>
<line x1="92.80" y1="594.73" x2="523.70" y2="594.73" stroke="#ffffff" stroke-opacity="0.09" stroke-width="0.25"/>
<line x1="92.80" y1="607.10" x2="523.70" y2="607.10" stroke="#ffffff" stroke-opacity="0.09" stroke-width="0.25"/>
<line x1="92.80" y1="619.48" x2="523.70" y2="619.48" stroke="#ffffff" stroke-opacity="0.09" stroke-width="0.25"/>
<line x1="92.80" y1="631.85" x2="523.70" y2="631.85" stroke="#ffffff" stroke-opacity="0.09" stroke-width="0.25"/>
<line x1="92.80" y1="644.22" x2="523.70" y2="644.22" stroke="#ffffff" stroke-opacity="0.09" stroke-width="0.25"/>
<line x1="92.80" y1="656.59" x2="523.70" y2="656.59" stroke="#ffffff" stroke-opacity="0.09" stroke-width="0.25"/>
<line x1="92.80" y1="668.96" x2="523.70" y2="668.96" stroke="#ffffff" stroke-opacity="0.09" stroke-width="0.25"/>
<line x1="92.80" y1="681.34" x2="523.70" y2="681.34" stroke="#ffffff" stroke-opacity="0.09" stroke-width="0.25"/>
<line x1="92.80" y1="693.71" x2="523.70" y2="693.71" stroke="#ffffff" stroke-opacity="0.09" stroke-width="0.25"/>
<line x1="92.80" y1="706.08" x2="523.70" y2="706.08" stroke="#ffffff" stroke-opacity="0.09" stroke-width="0.25"/>
<line x1="92.80" y1="718.45" x2="523.70" y2="718.45" stroke="#ffffff" stroke-opacity="0.09" stroke-width="0.25"/>
<line x1="92.80" y1="730.82" x2="523.70" y2="730.82" stroke="#ffffff" stroke-opacity="0.09" stroke-width="0.25"/>
<line x1="92.80" y1="743.20" x2="523.70" y2="743.20" stroke="#ffffff" stroke-opacity="0.09" stroke-width="0.25"/>
<line x1="92.80" y1="755.57" x2="523.70" y2="755.57" stroke="#ffffff" stroke-opacity="0.09" stroke-width="0.25"/>
<line x1="92.80" y1="767.94" x2="523.70" y2="767.94" stroke="#ffffff" stroke-opacity="0.09" stroke-width="0.25"/>
<line x1="92.80" y1="780.31" x2="523.70" y2="780.31" stroke="#ffffff" stroke-opacity="0.09" stroke-width="0.25"/>
<line x1="92.80" y1="792.68" x2="523.70" y2="792.68" stroke="#ffffff" stroke-opacity="0.09" stroke-width="0.25"/>
<line x1="92.80" y1="805.06" x2="523.70" y2="805.06" stroke="#ffffff" stroke-opacity="0.09" stroke-width="0.25"/>
<line x1="92.80" y1="817.43" x2="523.70" y2="817.43" stroke="#ffffff" stroke-opacity="0.09" stroke-width="0.25"/>
<text transform="translate(531.30,529.90) scale(0.88,1)" font-size="7.3" text-anchor="start" fill="#6b6b6b" font-weight="normal">APC</text>
<text transform="translate(531.30,544.40) scale(0.88,1)" font-size="7.3" text-anchor="start" fill="#6b6b6b" font-weight="normal">TP53</text>
<text transform="translate(531.30,556.60) scale(0.88,1)" font-size="7.3" text-anchor="start" fill="#6b6b6b" font-weight="normal">KRAS</text>
<text transform="translate(531.30,567.40) scale(0.88,1)" font-size="7.3" text-anchor="start" fill="#6b6b6b" font-weight="normal">BRAF</text>
<text transform="translate(531.30,580.10) scale(0.88,1)" font-size="7.3" text-anchor="start" fill="#6b6b6b" font-weight="normal">ERBB2</text>
<text transform="translate(531.30,591.80) scale(0.88,1)" font-size="7.3" text-anchor="start" fill="#6b6b6b" font-weight="normal">FBXW7</text>
<text transform="translate(531.30,604.50) scale(0.88,1)" font-size="7.3" text-anchor="start" fill="#6b6b6b" font-weight="normal">PIK3CA</text>
<text transform="translate(531.30,616.80) scale(0.88,1)" font-size="7.3" text-anchor="start" fill="#6b6b6b" font-weight="normal">NRAS</text>
<text transform="translate(531.30,627.30) scale(0.88,1)" font-size="7.3" text-anchor="start" fill="#6b6b6b" font-weight="normal">ATM</text>
<text transform="translate(531.30,642.00) scale(0.88,1)" font-size="7.3" text-anchor="start" fill="#6b6b6b" font-weight="normal">PTEN</text>
<text transform="translate(531.30,654.20) scale(0.88,1)" font-size="7.3" text-anchor="start" fill="#6b6b6b" font-weight="normal">CDH1</text>
<text transform="translate(531.30,666.30) scale(0.88,1)" font-size="7.3" text-anchor="start" fill="#6b6b6b" font-weight="normal">IDH2</text>
<text transform="translate(531.30,679.90) scale(0.88,1)" font-size="7.3" text-anchor="start" fill="#6b6b6b" font-weight="normal">RET</text>
<text transform="translate(531.30,691.70) scale(0.88,1)" font-size="7.3" text-anchor="start" fill="#6b6b6b" font-weight="normal">JAK3</text>
<text transform="translate(531.30,702.90) scale(0.88,1)" font-size="7.3" text-anchor="start" fill="#6b6b6b" font-weight="normal">EGFR</text>
<text transform="translate(531.30,716.50) scale(0.88,1)" font-size="7.3" text-anchor="start" fill="#6b6b6b" font-weight="normal">CDKN2A</text>
<text transform="translate(531.30,728.50) scale(0.88,1)" font-size="7.3" text-anchor="start" fill="#6b6b6b" font-weight="normal">AKT1</text>
<text transform="translate(531.30,738.90) scale(0.88,1)" font-size="7.3" text-anchor="start" fill="#6b6b6b" font-weight="normal">STK11</text>
<text transform="translate(531.30,754.90) scale(0.88,1)" font-size="7.3" text-anchor="start" fill="#6b6b6b" font-weight="normal">GNAQ</text>
<text transform="translate(531.30,766.90) scale(0.88,1)" font-size="7.3" text-anchor="start" fill="#6b6b6b" font-weight="normal">SMO</text>
<text transform="translate(531.30,777.40) scale(0.88,1)" font-size="7.3" text-anchor="start" fill="#6b6b6b" font-weight="normal">SMARCB1</text>
<text transform="translate(531.30,790.00) scale(0.88,1)" font-size="7.3" text-anchor="start" fill="#6b6b6b" font-weight="normal">IDH1</text>
<text transform="translate(531.30,802.70) scale(0.88,1)" font-size="7.3" text-anchor="start" fill="#6b6b6b" font-weight="normal">MLH1</text>
<text transform="translate(531.30,815.60) scale(0.88,1)" font-size="7.3" text-anchor="start" fill="#6b6b6b" font-weight="normal">GNAS</text>
<text transform="translate(531.30,826.80) scale(0.88,1)" font-size="7.3" text-anchor="start" fill="#6b6b6b" font-weight="normal">SMAD4</text>
<line x1="18.10" y1="526.69" x2="92.80" y2="526.69" stroke="#3a3a3a" stroke-width="0.65"/>
<line x1="18.10" y1="526.69" x2="18.10" y2="691.40" stroke="#3a3a3a" stroke-width="0.65"/>
<line x1="18.10" y1="691.40" x2="35.60" y2="691.40" stroke="#3a3a3a" stroke-width="0.65"/>
<line x1="35.60" y1="558.80" x2="35.60" y2="823.61" stroke="#3a3a3a" stroke-width="0.65"/>
<line x1="35.60" y1="823.61" x2="92.80" y2="823.61" stroke="#3a3a3a" stroke-width="0.65"/>
<line x1="35.60" y1="558.80" x2="48.50" y2="558.80" stroke="#3a3a3a" stroke-width="0.65"/>
<line x1="48.50" y1="539.06" x2="48.50" y2="578.30" stroke="#3a3a3a" stroke-width="0.65"/>
<line x1="48.50" y1="539.06" x2="92.80" y2="539.06" stroke="#3a3a3a" stroke-width="0.65"/>
<line x1="48.50" y1="578.30" x2="62.50" y2="578.30" stroke="#3a3a3a" stroke-width="0.65"/>
<line x1="62.50" y1="551.43" x2="62.50" y2="605.30" stroke="#3a3a3a" stroke-width="0.65"/>
<line x1="62.50" y1="551.43" x2="92.80" y2="551.43" stroke="#3a3a3a" stroke-width="0.65"/>
<line x1="62.50" y1="605.30" x2="76.30" y2="605.30" stroke="#3a3a3a" stroke-width="0.65"/>
<line x1="76.30" y1="563.80" x2="76.30" y2="646.60" stroke="#3a3a3a" stroke-width="0.65"/>
<line x1="76.30" y1="563.80" x2="92.80" y2="563.80" stroke="#3a3a3a" stroke-width="0.65"/>
<line x1="76.30" y1="646.60" x2="78.60" y2="646.60" stroke="#3a3a3a" stroke-width="0.65"/>
<line x1="78.60" y1="576.17" x2="78.60" y2="717.40" stroke="#3a3a3a" stroke-width="0.65"/>
<line x1="78.60" y1="576.17" x2="92.80" y2="576.17" stroke="#3a3a3a" stroke-width="0.65"/>
<line x1="78.60" y1="717.40" x2="79.70" y2="717.40" stroke="#3a3a3a" stroke-width="0.65"/>
<line x1="79.70" y1="622.40" x2="79.70" y2="811.24" stroke="#3a3a3a" stroke-width="0.65"/>
<line x1="79.70" y1="811.24" x2="92.80" y2="811.24" stroke="#3a3a3a" stroke-width="0.65"/>
<line x1="79.70" y1="622.40" x2="80.20" y2="622.40" stroke="#3a3a3a" stroke-width="0.65"/>
<line x1="80.20" y1="588.55" x2="80.20" y2="656.50" stroke="#3a3a3a" stroke-width="0.65"/>
<line x1="80.20" y1="588.55" x2="92.80" y2="588.55" stroke="#3a3a3a" stroke-width="0.65"/>
<line x1="80.20" y1="656.50" x2="83.50" y2="656.50" stroke="#3a3a3a" stroke-width="0.65"/>
<line x1="83.50" y1="600.92" x2="83.50" y2="712.00" stroke="#3a3a3a" stroke-width="0.65"/>
<line x1="83.50" y1="600.92" x2="92.80" y2="600.92" stroke="#3a3a3a" stroke-width="0.65"/>
<line x1="83.50" y1="712.00" x2="91.00" y2="712.00" stroke="#3a3a3a" stroke-width="0.65"/>
<line x1="91.00" y1="613.29" x2="91.00" y2="800.00" stroke="#999" stroke-width="0.6"/>
<line x1="91.00" y1="613.29" x2="92.80" y2="613.29" stroke="#999" stroke-width="0.5"/>
<line x1="91.80" y1="625.66" x2="91.80" y2="798.87" stroke="#aaa" stroke-width="0.5"/>
<line x1="92.40" y1="520.50" x2="92.40" y2="829.80" stroke="#9a9a9a" stroke-width="0.7"/>
<line x1="94.15" y1="432.20" x2="104.70" y2="432.20" stroke="#3a3a3a" stroke-width="0.65"/>
<line x1="94.15" y1="432.20" x2="94.15" y2="520.50" stroke="#3a3a3a" stroke-width="0.65"/>
<line x1="104.70" y1="432.20" x2="104.70" y2="449.10" stroke="#3a3a3a" stroke-width="0.65"/>
<line x1="96.84" y1="449.10" x2="112.40" y2="449.10" stroke="#3a3a3a" stroke-width="0.65"/>
<line x1="96.84" y1="449.10" x2="96.84" y2="520.50" stroke="#3a3a3a" stroke-width="0.65"/>
<line x1="112.40" y1="449.10" x2="112.40" y2="474.90" stroke="#3a3a3a" stroke-width="0.65"/>
<line x1="105.30" y1="474.90" x2="119.40" y2="474.90" stroke="#3a3a3a" stroke-width="0.65"/>
<line x1="105.30" y1="474.90" x2="105.30" y2="482.40" stroke="#3a3a3a" stroke-width="0.65"/>
<line x1="119.40" y1="474.90" x2="119.40" y2="489.30" stroke="#3a3a3a" stroke-width="0.65"/>
<line x1="101.50" y1="482.40" x2="109.00" y2="482.40" stroke="#3a3a3a" stroke-width="0.65"/>
<line x1="101.50" y1="482.40" x2="101.50" y2="496.30" stroke="#3a3a3a" stroke-width="0.65"/>
<line x1="109.00" y1="482.40" x2="109.00" y2="503.60" stroke="#3a3a3a" stroke-width="0.65"/>
<line x1="99.53" y1="496.30" x2="103.55" y2="496.30" stroke="#3a3a3a" stroke-width="0.65"/>
<line x1="99.53" y1="496.30" x2="99.53" y2="520.50" stroke="#3a3a3a" stroke-width="0.65"/>
<line x1="103.55" y1="496.30" x2="103.55" y2="505.80" stroke="#3a3a3a" stroke-width="0.65"/>
<line x1="102.23" y1="505.80" x2="104.92" y2="505.80" stroke="#3a3a3a" stroke-width="0.65"/>
<line x1="102.23" y1="505.80" x2="102.23" y2="520.50" stroke="#3a3a3a" stroke-width="0.65"/>
<line x1="104.92" y1="505.80" x2="104.92" y2="520.50" stroke="#3a3a3a" stroke-width="0.65"/>
<line x1="107.61" y1="503.60" x2="110.31" y2="503.60" stroke="#3a3a3a" stroke-width="0.65"/>
<line x1="107.61" y1="503.60" x2="107.61" y2="520.50" stroke="#3a3a3a" stroke-width="0.65"/>
<line x1="110.31" y1="503.60" x2="110.31" y2="520.50" stroke="#3a3a3a" stroke-width="0.65"/>
<line x1="113.00" y1="489.30" x2="125.80" y2="489.30" stroke="#3a3a3a" stroke-width="0.65"/>
<line x1="113.00" y1="489.30" x2="113.00" y2="520.50" stroke="#3a3a3a" stroke-width="0.65"/>
<line x1="125.80" y1="489.30" x2="125.80" y2="492.60" stroke="#3a3a3a" stroke-width="0.65"/>
<line x1="117.05" y1="492.60" x2="134.60" y2="492.60" stroke="#3a3a3a" stroke-width="0.65"/>
<line x1="117.05" y1="492.60" x2="117.05" y2="502.10" stroke="#3a3a3a" stroke-width="0.65"/>
<line x1="134.60" y1="492.60" x2="134.60" y2="496.30" stroke="#3a3a3a" stroke-width="0.65"/>
<line x1="115.69" y1="502.10" x2="118.38" y2="502.10" stroke="#3a3a3a" stroke-width="0.65"/>
<line x1="115.69" y1="502.10" x2="115.69" y2="520.50" stroke="#3a3a3a" stroke-width="0.65"/>
<line x1="118.38" y1="502.10" x2="118.38" y2="520.50" stroke="#3a3a3a" stroke-width="0.65"/>
<line x1="122.45" y1="496.30" x2="146.80" y2="496.30" stroke="#3a3a3a" stroke-width="0.65"/>
<line x1="122.45" y1="496.30" x2="122.45" y2="505.50" stroke="#3a3a3a" stroke-width="0.65"/>
<line x1="146.80" y1="496.30" x2="146.80" y2="501.10" stroke="#3a3a3a" stroke-width="0.65"/>
<line x1="121.08" y1="505.50" x2="123.77" y2="505.50" stroke="#3a3a3a" stroke-width="0.65"/>
<line x1="121.08" y1="505.50" x2="121.08" y2="520.50" stroke="#3a3a3a" stroke-width="0.65"/>
<line x1="123.77" y1="505.50" x2="123.77" y2="520.50" stroke="#3a3a3a" stroke-width="0.65"/>
<line x1="127.85" y1="501.10" x2="165.00" y2="501.10" stroke="#3a3a3a" stroke-width="0.65"/>
<line x1="127.85" y1="501.10" x2="127.85" y2="507.70" stroke="#3a3a3a" stroke-width="0.65"/>
<line x1="165.00" y1="501.10" x2="165.00" y2="507.20" stroke="#3a3a3a" stroke-width="0.65"/>
<line x1="126.46" y1="507.70" x2="129.16" y2="507.70" stroke="#3a3a3a" stroke-width="0.65"/>
<line x1="126.46" y1="507.70" x2="126.46" y2="520.50" stroke="#3a3a3a" stroke-width="0.65"/>
<line x1="129.16" y1="507.70" x2="129.16" y2="520.50" stroke="#3a3a3a" stroke-width="0.65"/>
<line x1="145.30" y1="507.20" x2="184.40" y2="507.20" stroke="#3a3a3a" stroke-width="0.65"/>
<line x1="145.30" y1="507.20" x2="145.30" y2="508.70" stroke="#3a3a3a" stroke-width="0.65"/>
<line x1="184.40" y1="507.20" x2="184.40" y2="512.30" stroke="#3a3a3a" stroke-width="0.65"/>
<line x1="137.70" y1="508.70" x2="153.40" y2="508.70" stroke="#3a3a3a" stroke-width="0.65"/>
<line x1="137.70" y1="508.70" x2="137.70" y2="510.60" stroke="#3a3a3a" stroke-width="0.65"/>
<line x1="153.40" y1="508.70" x2="153.40" y2="520.50" stroke="#3a3a3a" stroke-width="0.65"/>
<line x1="131.85" y1="510.60" x2="143.90" y2="510.60" stroke="#3a3a3a" stroke-width="0.65"/>
<line x1="131.85" y1="510.60" x2="131.85" y2="520.50" stroke="#3a3a3a" stroke-width="0.65"/>
<line x1="143.90" y1="510.60" x2="143.90" y2="512.30" stroke="#3a3a3a" stroke-width="0.65"/>
<line x1="138.50" y1="512.30" x2="149.35" y2="512.30" stroke="#3a3a3a" stroke-width="0.65"/>
<line x1="138.50" y1="512.30" x2="138.50" y2="514.10" stroke="#3a3a3a" stroke-width="0.65"/>
<line x1="149.35" y1="512.30" x2="149.35" y2="516.00" stroke="#3a3a3a" stroke-width="0.65"/>
<line x1="135.85" y1="514.10" x2="141.90" y2="514.10" stroke="#3a3a3a" stroke-width="0.65"/>
<line x1="135.85" y1="514.10" x2="135.85" y2="516.40" stroke="#3a3a3a" stroke-width="0.65"/>
<line x1="141.90" y1="514.10" x2="141.90" y2="515.70" stroke="#3a3a3a" stroke-width="0.65"/>
<line x1="134.54" y1="516.40" x2="137.24" y2="516.40" stroke="#3a3a3a" stroke-width="0.65"/>
<line x1="134.54" y1="516.40" x2="134.54" y2="520.50" stroke="#3a3a3a" stroke-width="0.65"/>
<line x1="137.24" y1="516.40" x2="137.24" y2="520.50" stroke="#3a3a3a" stroke-width="0.65"/>
<line x1="139.93" y1="515.70" x2="143.95" y2="515.70" stroke="#3a3a3a" stroke-width="0.65"/>
<line x1="139.93" y1="515.70" x2="139.93" y2="520.50" stroke="#3a3a3a" stroke-width="0.65"/>
<line x1="143.95" y1="515.70" x2="143.95" y2="517.00" stroke="#3a3a3a" stroke-width="0.65"/>
<line x1="142.62" y1="517.00" x2="145.32" y2="517.00" stroke="#3a3a3a" stroke-width="0.65"/>
<line x1="142.62" y1="517.00" x2="142.62" y2="520.50" stroke="#3a3a3a" stroke-width="0.65"/>
<line x1="145.32" y1="517.00" x2="145.32" y2="520.50" stroke="#3a3a3a" stroke-width="0.65"/>
<line x1="148.01" y1="516.00" x2="150.70" y2="516.00" stroke="#3a3a3a" stroke-width="0.65"/>
<line x1="148.01" y1="516.00" x2="148.01" y2="520.50" stroke="#3a3a3a" stroke-width="0.65"/>
<line x1="150.70" y1="516.00" x2="150.70" y2="520.50" stroke="#3a3a3a" stroke-width="0.65"/>
<line x1="156.09" y1="512.30" x2="212.80" y2="512.30" stroke="#333" stroke-width="0.75"/>
<line x1="212.80" y1="512.40" x2="262.00" y2="512.40" stroke="#666" stroke-width="0.7"/>
<line x1="262.00" y1="513.50" x2="351.60" y2="513.50" stroke="#444" stroke-width="0.7"/>
<line x1="351.60" y1="514.50" x2="523.00" y2="514.50" stroke="#707070" stroke-width="0.65"/>
<line x1="156.09" y1="512.30" x2="156.09" y2="520.50" stroke="#3a3a3a" stroke-width="0.65"/>
<line x1="163.50" y1="512.30" x2="163.50" y2="516.10" stroke="#3a3a3a" stroke-width="0.65"/>
<line x1="158.78" y1="516.10" x2="168.00" y2="516.10" stroke="#3a3a3a" stroke-width="0.65"/>
<line x1="158.78" y1="516.10" x2="158.78" y2="520.50" stroke="#3a3a3a" stroke-width="0.65"/>
<line x1="168.00" y1="516.10" x2="168.00" y2="517.40" stroke="#3a3a3a" stroke-width="0.65"/>
<line x1="165.60" y1="517.40" x2="170.40" y2="517.40" stroke="#3a3a3a" stroke-width="0.65"/>
<line x1="165.60" y1="517.40" x2="165.60" y2="518.40" stroke="#3a3a3a" stroke-width="0.65"/>
<line x1="170.40" y1="517.40" x2="170.40" y2="518.40" stroke="#3a3a3a" stroke-width="0.65"/>
<line x1="161.47" y1="518.40" x2="164.17" y2="518.40" stroke="#3a3a3a" stroke-width="0.65"/>
<line x1="161.47" y1="518.40" x2="161.47" y2="520.50" stroke="#3a3a3a" stroke-width="0.65"/>
<line x1="164.17" y1="518.40" x2="164.17" y2="520.50" stroke="#3a3a3a" stroke-width="0.65"/>
<line x1="166.86" y1="518.40" x2="169.55" y2="518.40" stroke="#3a3a3a" stroke-width="0.65"/>
<line x1="166.86" y1="518.40" x2="166.86" y2="520.50" stroke="#3a3a3a" stroke-width="0.65"/>
<line x1="169.55" y1="518.40" x2="169.55" y2="520.50" stroke="#3a3a3a" stroke-width="0.65"/>
<line x1="172.70" y1="513.60" x2="212.80" y2="513.60" stroke="#555" stroke-width="0.6"/>
<line x1="172.70" y1="513.60" x2="172.70" y2="520.50" stroke="#3a3a3a" stroke-width="0.65"/>
<line x1="174.50" y1="515.30" x2="250.00" y2="515.30" stroke="#808080" stroke-width="0.6"/>
<line x1="174.50" y1="515.30" x2="174.50" y2="516.80" stroke="#3a3a3a" stroke-width="0.65"/>
<line x1="173.74" y1="516.80" x2="185.30" y2="516.80" stroke="#3a3a3a" stroke-width="0.65"/>
<line x1="173.74" y1="516.80" x2="173.74" y2="520.50" stroke="#3a3a3a" stroke-width="0.65"/>
<line x1="185.30" y1="516.80" x2="185.30" y2="517.80" stroke="#3a3a3a" stroke-width="0.65"/>
<line x1="177.63" y1="517.80" x2="183.02" y2="517.80" stroke="#3a3a3a" stroke-width="0.65"/>
<line x1="177.63" y1="517.80" x2="177.63" y2="520.50" stroke="#3a3a3a" stroke-width="0.65"/>
<line x1="183.02" y1="517.80" x2="183.02" y2="518.60" stroke="#3a3a3a" stroke-width="0.65"/>
<line x1="180.33" y1="518.60" x2="185.71" y2="518.60" stroke="#3a3a3a" stroke-width="0.65"/>
<line x1="180.33" y1="518.60" x2="180.33" y2="520.50" stroke="#3a3a3a" stroke-width="0.65"/>
<line x1="185.71" y1="518.60" x2="185.71" y2="520.50" stroke="#3a3a3a" stroke-width="0.65"/>
<line x1="188.30" y1="516.90" x2="205.00" y2="516.90" stroke="#3a3a3a" stroke-width="0.65"/>
<line x1="188.30" y1="516.90" x2="188.30" y2="518.00" stroke="#3a3a3a" stroke-width="0.65"/>
<line x1="205.00" y1="516.90" x2="205.00" y2="518.00" stroke="#3a3a3a" stroke-width="0.65"/>
<line x1="188.41" y1="518.00" x2="191.10" y2="518.00" stroke="#3a3a3a" stroke-width="0.65"/>
<line x1="188.41" y1="518.00" x2="188.41" y2="520.50" stroke="#3a3a3a" stroke-width="0.65"/>
<line x1="191.10" y1="518.00" x2="191.10" y2="520.50" stroke="#3a3a3a" stroke-width="0.65"/>
<line x1="196.49" y1="518.00" x2="204.56" y2="518.00" stroke="#3a3a3a" stroke-width="0.65"/>
<line x1="196.49" y1="518.00" x2="196.49" y2="520.50" stroke="#3a3a3a" stroke-width="0.65"/>
<line x1="204.56" y1="518.00" x2="204.56" y2="520.50" stroke="#3a3a3a" stroke-width="0.65"/>
<line x1="209.00" y1="517.20" x2="232.00" y2="517.20" stroke="#3a3a3a" stroke-width="0.65"/>
<line x1="209.00" y1="517.20" x2="209.00" y2="518.30" stroke="#3a3a3a" stroke-width="0.65"/>
<line x1="232.00" y1="517.20" x2="232.00" y2="518.30" stroke="#3a3a3a" stroke-width="0.65"/>
<line x1="190.00" y1="518.50" x2="523.00" y2="518.50" stroke="#555" stroke-width="0.6"/>
<line x1="200.00" y1="519.30" x2="523.30" y2="519.30" stroke="#222" stroke-width="1.0"/>
<line x1="523.00" y1="514.50" x2="523.00" y2="520.50" stroke="#555" stroke-width="0.6"/>
<line x1="188.41" y1="518.30" x2="188.41" y2="520.50" stroke="#555" stroke-width="0.5"/>
<line x1="191.10" y1="518.30" x2="191.10" y2="520.50" stroke="#555" stroke-width="0.5"/>
<line x1="193.79" y1="518.60" x2="193.79" y2="520.50" stroke="#555" stroke-width="0.5"/>
<line x1="196.49" y1="518.90" x2="196.49" y2="520.50" stroke="#555" stroke-width="0.5"/>
<line x1="199.18" y1="517.90" x2="199.18" y2="520.50" stroke="#555" stroke-width="0.5"/>
<line x1="201.87" y1="517.90" x2="201.87" y2="520.50" stroke="#555" stroke-width="0.5"/>
<line x1="204.56" y1="518.90" x2="204.56" y2="520.50" stroke="#555" stroke-width="0.5"/>
<line x1="207.26" y1="518.60" x2="207.26" y2="520.50" stroke="#555" stroke-width="0.5"/>
<line x1="209.95" y1="518.30" x2="209.95" y2="520.50" stroke="#555" stroke-width="0.5"/>
<line x1="212.64" y1="518.30" x2="212.64" y2="520.50" stroke="#555" stroke-width="0.5"/>
<line x1="215.34" y1="518.90" x2="215.34" y2="520.50" stroke="#555" stroke-width="0.5"/>
<line x1="218.03" y1="518.90" x2="218.03" y2="520.50" stroke="#555" stroke-width="0.5"/>
<line x1="220.72" y1="518.90" x2="220.72" y2="520.50" stroke="#555" stroke-width="0.5"/>
<line x1="223.42" y1="518.30" x2="223.42" y2="520.50" stroke="#555" stroke-width="0.5"/>
<line x1="226.11" y1="518.30" x2="226.11" y2="520.50" stroke="#555" stroke-width="0.5"/>
<line x1="228.80" y1="518.30" x2="228.80" y2="520.50" stroke="#555" stroke-width="0.5"/>
<line x1="231.50" y1="518.90" x2="231.50" y2="520.50" stroke="#555" stroke-width="0.5"/>
<line x1="234.19" y1="517.90" x2="234.19" y2="520.50" stroke="#555" stroke-width="0.5"/>
<line x1="236.88" y1="517.90" x2="236.88" y2="520.50" stroke="#555" stroke-width="0.5"/>
<line x1="239.58" y1="518.30" x2="239.58" y2="520.50" stroke="#555" stroke-width="0.5"/>
<line x1="242.27" y1="517.90" x2="242.27" y2="520.50" stroke="#555" stroke-width="0.5"/>
<line x1="244.96" y1="518.60" x2="244.96" y2="520.50" stroke="#555" stroke-width="0.5"/>
<line x1="247.65" y1="517.90" x2="247.65" y2="520.50" stroke="#555" stroke-width="0.5"/>
<line x1="250.35" y1="518.60" x2="250.35" y2="520.50" stroke="#555" stroke-width="0.5"/>
<line x1="253.04" y1="518.90" x2="253.04" y2="520.50" stroke="#555" stroke-width="0.5"/>
<line x1="255.73" y1="518.90" x2="255.73" y2="520.50" stroke="#555" stroke-width="0.5"/>
<line x1="258.43" y1="518.90" x2="258.43" y2="520.50" stroke="#555" stroke-width="0.5"/>
<line x1="261.12" y1="518.90" x2="261.12" y2="520.50" stroke="#555" stroke-width="0.5"/>
<line x1="263.81" y1="518.90" x2="263.81" y2="520.50" stroke="#555" stroke-width="0.5"/>
<line x1="266.51" y1="518.30" x2="266.51" y2="520.50" stroke="#555" stroke-width="0.5"/>
<line x1="269.20" y1="518.60" x2="269.20" y2="520.50" stroke="#555" stroke-width="0.5"/>
<line x1="271.89" y1="517.90" x2="271.89" y2="520.50" stroke="#555" stroke-width="0.5"/>
<line x1="274.59" y1="517.90" x2="274.59" y2="520.50" stroke="#555" stroke-width="0.5"/>
<line x1="277.28" y1="518.30" x2="277.28" y2="520.50" stroke="#555" stroke-width="0.5"/>
<line x1="279.97" y1="518.90" x2="279.97" y2="520.50" stroke="#555" stroke-width="0.5"/>
<line x1="282.67" y1="518.30" x2="282.67" y2="520.50" stroke="#555" stroke-width="0.5"/>
<line x1="285.36" y1="518.60" x2="285.36" y2="520.50" stroke="#555" stroke-width="0.5"/>
<line x1="288.05" y1="518.90" x2="288.05" y2="520.50" stroke="#555" stroke-width="0.5"/>
<line x1="290.74" y1="518.60" x2="290.74" y2="520.50" stroke="#555" stroke-width="0.5"/>
<line x1="293.44" y1="518.90" x2="293.44" y2="520.50" stroke="#555" stroke-width="0.5"/>
<line x1="296.13" y1="518.90" x2="296.13" y2="520.50" stroke="#555" stroke-width="0.5"/>
<line x1="298.82" y1="518.60" x2="298.82" y2="520.50" stroke="#555" stroke-width="0.5"/>
<line x1="301.52" y1="518.90" x2="301.52" y2="520.50" stroke="#555" stroke-width="0.5"/>
<line x1="304.21" y1="518.30" x2="304.21" y2="520.50" stroke="#555" stroke-width="0.5"/>
<line x1="306.90" y1="518.60" x2="306.90" y2="520.50" stroke="#555" stroke-width="0.5"/>
<line x1="309.60" y1="517.90" x2="309.60" y2="520.50" stroke="#555" stroke-width="0.5"/>
<line x1="312.29" y1="518.60" x2="312.29" y2="520.50" stroke="#555" stroke-width="0.5"/>
<line x1="314.98" y1="518.30" x2="314.98" y2="520.50" stroke="#555" stroke-width="0.5"/>
<line x1="317.68" y1="518.60" x2="317.68" y2="520.50" stroke="#555" stroke-width="0.5"/>
<line x1="320.37" y1="517.90" x2="320.37" y2="520.50" stroke="#555" stroke-width="0.5"/>
<line x1="323.06" y1="518.30" x2="323.06" y2="520.50" stroke="#555" stroke-width="0.5"/>
<line x1="325.76" y1="518.60" x2="325.76" y2="520.50" stroke="#555" stroke-width="0.5"/>
<line x1="328.45" y1="518.60" x2="328.45" y2="520.50" stroke="#555" stroke-width="0.5"/>
<line x1="331.14" y1="517.90" x2="331.14" y2="520.50" stroke="#555" stroke-width="0.5"/>
<line x1="333.83" y1="517.90" x2="333.83" y2="520.50" stroke="#555" stroke-width="0.5"/>
<line x1="336.53" y1="518.90" x2="336.53" y2="520.50" stroke="#555" stroke-width="0.5"/>
<line x1="339.22" y1="518.90" x2="339.22" y2="520.50" stroke="#555" stroke-width="0.5"/>
<line x1="341.91" y1="517.90" x2="341.91" y2="520.50" stroke="#555" stroke-width="0.5"/>
<line x1="344.61" y1="518.60" x2="344.61" y2="520.50" stroke="#555" stroke-width="0.5"/>
<line x1="347.30" y1="517.90" x2="347.30" y2="520.50" stroke="#555" stroke-width="0.5"/>
<line x1="349.99" y1="518.90" x2="349.99" y2="520.50" stroke="#555" stroke-width="0.5"/>
<line x1="352.69" y1="518.30" x2="352.69" y2="520.50" stroke="#555" stroke-width="0.5"/>
<line x1="355.38" y1="517.90" x2="355.38" y2="520.50" stroke="#555" stroke-width="0.5"/>
<line x1="358.07" y1="518.60" x2="358.07" y2="520.50" stroke="#555" stroke-width="0.5"/>
<line x1="360.77" y1="518.90" x2="360.77" y2="520.50" stroke="#555" stroke-width="0.5"/>
<line x1="363.46" y1="518.90" x2="363.46" y2="520.50" stroke="#555" stroke-width="0.5"/>
<line x1="366.15" y1="517.90" x2="366.15" y2="520.50" stroke="#555" stroke-width="0.5"/>
<line x1="368.85" y1="517.90" x2="368.85" y2="520.50" stroke="#555" stroke-width="0.5"/>
<line x1="371.54" y1="517.90" x2="371.54" y2="520.50" stroke="#555" stroke-width="0.5"/>
<line x1="374.23" y1="518.90" x2="374.23" y2="520.50" stroke="#555" stroke-width="0.5"/>
<line x1="376.92" y1="518.60" x2="376.92" y2="520.50" stroke="#555" stroke-width="0.5"/>
<line x1="379.62" y1="518.60" x2="379.62" y2="520.50" stroke="#555" stroke-width="0.5"/>
<line x1="382.31" y1="518.30" x2="382.31" y2="520.50" stroke="#555" stroke-width="0.5"/>
<line x1="385.00" y1="517.90" x2="385.00" y2="520.50" stroke="#555" stroke-width="0.5"/>
<line x1="387.70" y1="518.60" x2="387.70" y2="520.50" stroke="#555" stroke-width="0.5"/>
<line x1="390.39" y1="517.90" x2="390.39" y2="520.50" stroke="#555" stroke-width="0.5"/>
<line x1="393.08" y1="517.90" x2="393.08" y2="520.50" stroke="#555" stroke-width="0.5"/>
<line x1="395.78" y1="517.90" x2="395.78" y2="520.50" stroke="#555" stroke-width="0.5"/>
<line x1="398.47" y1="517.90" x2="398.47" y2="520.50" stroke="#555" stroke-width="0.5"/>
<line x1="401.16" y1="518.30" x2="401.16" y2="520.50" stroke="#555" stroke-width="0.5"/>
<line x1="403.86" y1="518.90" x2="403.86" y2="520.50" stroke="#555" stroke-width="0.5"/>
<line x1="406.55" y1="518.60" x2="406.55" y2="520.50" stroke="#555" stroke-width="0.5"/>
<line x1="409.24" y1="518.60" x2="409.24" y2="520.50" stroke="#555" stroke-width="0.5"/>
<line x1="411.94" y1="518.30" x2="411.94" y2="520.50" stroke="#555" stroke-width="0.5"/>
<line x1="414.63" y1="517.90" x2="414.63" y2="520.50" stroke="#555" stroke-width="0.5"/>
<line x1="417.32" y1="518.60" x2="417.32" y2="520.50" stroke="#555" stroke-width="0.5"/>
<line x1="420.01" y1="518.60" x2="420.01" y2="520.50" stroke="#555" stroke-width="0.5"/>
<line x1="422.71" y1="518.60" x2="422.71" y2="520.50" stroke="#555" stroke-width="0.5"/>
<line x1="425.40" y1="518.30" x2="425.40" y2="520.50" stroke="#555" stroke-width="0.5"/>
<line x1="428.09" y1="518.90" x2="428.09" y2="520.50" stroke="#555" stroke-width="0.5"/>
<line x1="430.79" y1="518.90" x2="430.79" y2="520.50" stroke="#555" stroke-width="0.5"/>
<line x1="433.48" y1="518.90" x2="433.48" y2="520.50" stroke="#555" stroke-width="0.5"/>
<line x1="436.17" y1="518.90" x2="436.17" y2="520.50" stroke="#555" stroke-width="0.5"/>
<line x1="438.87" y1="517.90" x2="438.87" y2="520.50" stroke="#555" stroke-width="0.5"/>
<line x1="441.56" y1="518.60" x2="441.56" y2="520.50" stroke="#555" stroke-width="0.5"/>
<line x1="444.25" y1="518.90" x2="444.25" y2="520.50" stroke="#555" stroke-width="0.5"/>
<line x1="446.95" y1="518.30" x2="446.95" y2="520.50" stroke="#555" stroke-width="0.5"/>
<line x1="449.64" y1="518.60" x2="449.64" y2="520.50" stroke="#555" stroke-width="0.5"/>
<line x1="452.33" y1="518.90" x2="452.33" y2="520.50" stroke="#555" stroke-width="0.5"/>
<line x1="455.03" y1="518.60" x2="455.03" y2="520.50" stroke="#555" stroke-width="0.5"/>
<line x1="457.72" y1="518.60" x2="457.72" y2="520.50" stroke="#555" stroke-width="0.5"/>
<line x1="460.41" y1="518.60" x2="460.41" y2="520.50" stroke="#555" stroke-width="0.5"/>
<line x1="463.10" y1="517.90" x2="463.10" y2="520.50" stroke="#555" stroke-width="0.5"/>
<line x1="465.80" y1="518.90" x2="465.80" y2="520.50" stroke="#555" stroke-width="0.5"/>
<line x1="468.49" y1="518.60" x2="468.49" y2="520.50" stroke="#555" stroke-width="0.5"/>
<line x1="471.18" y1="517.90" x2="471.18" y2="520.50" stroke="#555" stroke-width="0.5"/>
<line x1="473.88" y1="518.90" x2="473.88" y2="520.50" stroke="#555" stroke-width="0.5"/>
<line x1="476.57" y1="518.30" x2="476.57" y2="520.50" stroke="#555" stroke-width="0.5"/>
<line x1="479.26" y1="517.90" x2="479.26" y2="520.50" stroke="#555" stroke-width="0.5"/>
<line x1="481.96" y1="518.60" x2="481.96" y2="520.50" stroke="#555" stroke-width="0.5"/>
<line x1="484.65" y1="518.90" x2="484.65" y2="520.50" stroke="#555" stroke-width="0.5"/>
<line x1="487.34" y1="518.60" x2="487.34" y2="520.50" stroke="#555" stroke-width="0.5"/>
<line x1="490.04" y1="518.60" x2="490.04" y2="520.50" stroke="#555" stroke-width="0.5"/>
<line x1="492.73" y1="518.60" x2="492.73" y2="520.50" stroke="#555" stroke-width="0.5"/>
<line x1="495.42" y1="518.90" x2="495.42" y2="520.50" stroke="#555" stroke-width="0.5"/>
<line x1="498.12" y1="517.90" x2="498.12" y2="520.50" stroke="#555" stroke-width="0.5"/>
<line x1="500.81" y1="517.90" x2="500.81" y2="520.50" stroke="#555" stroke-width="0.5"/>
<line x1="503.50" y1="517.90" x2="503.50" y2="520.50" stroke="#555" stroke-width="0.5"/>
<line x1="506.19" y1="518.60" x2="506.19" y2="520.50" stroke="#555" stroke-width="0.5"/>
<line x1="508.89" y1="518.60" x2="508.89" y2="520.50" stroke="#555" stroke-width="0.5"/>
<line x1="511.58" y1="518.90" x2="511.58" y2="520.50" stroke="#555" stroke-width="0.5"/>
<line x1="514.27" y1="518.60" x2="514.27" y2="520.50" stroke="#555" stroke-width="0.5"/>
<line x1="516.97" y1="518.60" x2="516.97" y2="520.50" stroke="#555" stroke-width="0.5"/>
<line x1="519.66" y1="518.30" x2="519.66" y2="520.50" stroke="#555" stroke-width="0.5"/>
<line x1="522.35" y1="518.60" x2="522.35" y2="520.50" stroke="#555" stroke-width="0.5"/>
<rect x="92.40" y="842.00" width="431.30" height="10.50" fill="#ffffff"/>
<rect x="92.40" y="842.00" width="24.56" height="10.50" fill="#3b8fd6"/>
<rect x="116.91" y="842.00" width="2.68" height="10.50" fill="#6dbf4a"/>
<rect x="119.53" y="842.00" width="5.31" height="10.50" fill="#3b8fd6"/>
<rect x="127.77" y="842.00" width="21.25" height="10.50" fill="#3b8fd6"/>
<rect x="148.97" y="842.00" width="2.68" height="10.50" fill="#b43a9e"/>
<rect x="151.59" y="842.00" width="5.31" height="10.50" fill="#3b8fd6"/>
<rect x="156.85" y="842.00" width="3.03" height="10.50" fill="#6dbf4a"/>
<rect x="159.83" y="842.00" width="5.31" height="10.50" fill="#3b8fd6"/>
<rect x="165.08" y="842.00" width="2.68" height="10.50" fill="#b43a9e"/>
<rect x="167.71" y="842.00" width="2.68" height="10.50" fill="#3b8fd6"/>
<rect x="170.34" y="842.00" width="2.68" height="10.50" fill="#b43a9e"/>
<rect x="172.97" y="842.00" width="2.68" height="10.50" fill="#6dbf4a"/>
<rect x="175.60" y="842.00" width="10.56" height="10.50" fill="#3b8fd6"/>
<rect x="186.11" y="842.00" width="3.03" height="10.50" fill="#6dbf4a"/>
<rect x="189.09" y="842.00" width="14.96" height="10.50" fill="#3b8fd6"/>
<rect x="204.00" y="842.00" width="1.31" height="10.50" fill="#3b8fd6"/>
<rect x="205.26" y="842.00" width="2.68" height="10.50" fill="#b43a9e"/>
<rect x="207.88" y="842.00" width="2.68" height="10.50" fill="#3b8fd6"/>
<rect x="210.51" y="842.00" width="2.68" height="10.50" fill="#b43a9e"/>
<rect x="213.14" y="842.00" width="3.03" height="10.50" fill="#3b8fd6"/>
<rect x="216.12" y="842.00" width="2.68" height="10.50" fill="#5ec9d6"/>
<rect x="218.75" y="842.00" width="7.58" height="10.50" fill="#3b8fd6"/>
<rect x="226.28" y="842.00" width="2.68" height="10.50" fill="#b43a9e"/>
<rect x="231.89" y="842.00" width="8.46" height="10.50" fill="#3b8fd6"/>
<rect x="240.29" y="842.00" width="2.33" height="10.50" fill="#b43a9e"/>
<rect x="245.20" y="842.00" width="2.50" height="10.50" fill="#5ec9d6"/>
<rect x="247.65" y="842.00" width="2.85" height="10.50" fill="#3b8fd6"/>
<rect x="250.46" y="842.00" width="2.15" height="10.50" fill="#5ec9d6"/>
<rect x="252.56" y="842.00" width="6.18" height="10.50" fill="#b43a9e"/>
<rect x="258.69" y="842.00" width="2.68" height="10.50" fill="#3b8fd6"/>
<rect x="261.32" y="842.00" width="2.68" height="10.50" fill="#b43a9e"/>
<rect x="263.95" y="842.00" width="7.93" height="10.50" fill="#3b8fd6"/>
<rect x="274.81" y="842.00" width="12.84" height="10.50" fill="#b43a9e"/>
<rect x="287.60" y="842.00" width="3.20" height="10.50" fill="#3b8fd6"/>
<rect x="290.75" y="842.00" width="2.50" height="10.50" fill="#b43a9e"/>
<rect x="293.20" y="842.00" width="5.31" height="10.50" fill="#3b8fd6"/>
<rect x="298.46" y="842.00" width="2.68" height="10.50" fill="#5ec9d6"/>
<rect x="301.09" y="842.00" width="2.68" height="10.50" fill="#3b8fd6"/>
<rect x="306.52" y="842.00" width="2.50" height="10.50" fill="#3b8fd6"/>
<rect x="308.97" y="842.00" width="1.80" height="10.50" fill="#b43a9e"/>
<rect x="310.72" y="842.00" width="4.08" height="10.50" fill="#3b8fd6"/>
<rect x="314.75" y="842.00" width="1.30" height="10.50" fill="#b43a9e"/>
<rect x="316.00" y="842.00" width="1.31" height="10.50" fill="#b43a9e"/>
<rect x="317.26" y="842.00" width="8.46" height="10.50" fill="#3b8fd6"/>
<rect x="325.67" y="842.00" width="5.13" height="10.50" fill="#b43a9e"/>
<rect x="330.75" y="842.00" width="2.68" height="10.50" fill="#3b8fd6"/>
<rect x="333.37" y="842.00" width="2.68" height="10.50" fill="#a8a8a8"/>
<rect x="336.00" y="842.00" width="2.68" height="10.50" fill="#5ec9d6"/>
<rect x="338.63" y="842.00" width="11.09" height="10.50" fill="#b43a9e"/>
<rect x="349.67" y="842.00" width="5.31" height="10.50" fill="#3b8fd6"/>
<rect x="354.92" y="842.00" width="2.68" height="10.50" fill="#b43a9e"/>
<rect x="357.55" y="842.00" width="2.68" height="10.50" fill="#3b8fd6"/>
<rect x="360.18" y="842.00" width="2.68" height="10.50" fill="#b43a9e"/>
<rect x="362.81" y="842.00" width="2.68" height="10.50" fill="#5ec9d6"/>
<rect x="365.43" y="842.00" width="5.31" height="10.50" fill="#b43a9e"/>
<rect x="370.69" y="842.00" width="3.03" height="10.50" fill="#5ec9d6"/>
<rect x="373.67" y="842.00" width="2.68" height="10.50" fill="#3b8fd6"/>
<rect x="376.30" y="842.00" width="5.48" height="10.50" fill="#b43a9e"/>
<rect x="381.73" y="842.00" width="2.15" height="10.50" fill="#3b8fd6"/>
<rect x="383.83" y="842.00" width="3.03" height="10.50" fill="#b43a9e"/>
<rect x="386.81" y="842.00" width="2.68" height="10.50" fill="#5ec9d6"/>
<rect x="392.24" y="842.00" width="2.68" height="10.50" fill="#5ec9d6"/>
<rect x="400.12" y="842.00" width="2.68" height="10.50" fill="#3b8fd6"/>
<rect x="402.75" y="842.00" width="5.31" height="10.50" fill="#5ec9d6"/>
<rect x="408.01" y="842.00" width="2.68" height="10.50" fill="#6dbf4a"/>
<rect x="410.63" y="842.00" width="5.66" height="10.50" fill="#b43a9e"/>
<rect x="416.24" y="842.00" width="5.31" height="10.50" fill="#3b8fd6"/>
<rect x="421.50" y="842.00" width="2.68" height="10.50" fill="#b43a9e"/>
<rect x="424.12" y="842.00" width="1.93" height="10.50" fill="#3b8fd6"/>
<rect x="426.00" y="842.00" width="1.06" height="10.50" fill="#5ec9d6"/>
<rect x="427.01" y="842.00" width="2.68" height="10.50" fill="#3b8fd6"/>
<rect x="429.64" y="842.00" width="2.68" height="10.50" fill="#b43a9e"/>
<rect x="432.26" y="842.00" width="2.68" height="10.50" fill="#3b8fd6"/>
<rect x="434.89" y="842.00" width="5.31" height="10.50" fill="#5ec9d6"/>
<rect x="440.15" y="842.00" width="13.54" height="10.50" fill="#b43a9e"/>
<rect x="453.64" y="842.00" width="11.09" height="10.50" fill="#3b8fd6"/>
<rect x="464.67" y="842.00" width="10.56" height="10.50" fill="#b43a9e"/>
<rect x="475.19" y="842.00" width="2.68" height="10.50" fill="#5ec9d6"/>
<rect x="477.81" y="842.00" width="2.68" height="10.50" fill="#6dbf4a"/>
<rect x="480.44" y="842.00" width="2.68" height="10.50" fill="#5ec9d6"/>
<rect x="483.07" y="842.00" width="2.68" height="10.50" fill="#6dbf4a"/>
<rect x="485.70" y="842.00" width="2.68" height="10.50" fill="#3b8fd6"/>
<rect x="488.33" y="842.00" width="2.68" height="10.50" fill="#b43a9e"/>
<rect x="490.95" y="842.00" width="2.68" height="10.50" fill="#3b8fd6"/>
<rect x="493.58" y="842.00" width="2.68" height="10.50" fill="#b43a9e"/>
<rect x="496.21" y="842.00" width="10.91" height="10.50" fill="#3b8fd6"/>
<rect x="510.22" y="842.00" width="5.31" height="10.50" fill="#5ec9d6"/>
<rect x="515.48" y="842.00" width="2.68" height="10.50" fill="#3b8fd6"/>
<rect x="518.11" y="842.00" width="3.03" height="10.50" fill="#5ec9d6"/>
<rect x="521.09" y="842.00" width="2.66" height="10.50" fill="#3b8fd6"/>
<rect x="92.4" y="842.0" width="431.30" height="10.5" fill="none" stroke="#7d7d7d" stroke-width="0.7"/>
<rect x="92.40" y="865.10" width="431.30" height="10.50" fill="#ffffff"/>
<rect x="92.40" y="865.10" width="3.53" height="10.50" fill="#6a5eb8"/>
<rect x="95.88" y="865.10" width="2.33" height="10.50" fill="#a9a9b4"/>
<rect x="98.16" y="865.10" width="10.91" height="10.50" fill="#6b87cf"/>
<rect x="109.02" y="865.10" width="2.33" height="10.50" fill="#6a5eb8"/>
<rect x="111.30" y="865.10" width="13.54" height="10.50" fill="#6b87cf"/>
<rect x="127.77" y="865.10" width="11.09" height="10.50" fill="#6b87cf"/>
<rect x="138.81" y="865.10" width="1.80" height="10.50" fill="#6a5eb8"/>
<rect x="140.56" y="865.10" width="8.46" height="10.50" fill="#6b87cf"/>
<rect x="151.95" y="865.10" width="2.33" height="10.50" fill="#6b87cf"/>
<rect x="154.22" y="865.10" width="3.03" height="10.50" fill="#f26a21"/>
<rect x="157.20" y="865.10" width="7.93" height="10.50" fill="#6b87cf"/>
<rect x="167.71" y="865.10" width="2.68" height="10.50" fill="#f9ad1e"/>
<rect x="172.97" y="865.10" width="7.93" height="10.50" fill="#6b87cf"/>
<rect x="180.85" y="865.10" width="2.68" height="10.50" fill="#6a5eb8"/>
<rect x="183.48" y="865.10" width="3.03" height="10.50" fill="#6b87cf"/>
<rect x="186.46" y="865.10" width="7.93" height="10.50" fill="#f26a21"/>
<rect x="194.34" y="865.10" width="5.83" height="10.50" fill="#6b87cf"/>
<rect x="200.12" y="865.10" width="2.68" height="10.50" fill="#6a5eb8"/>
<rect x="202.75" y="865.10" width="1.30" height="10.50" fill="#6b87cf"/>
<rect x="204.00" y="865.10" width="0.96" height="10.50" fill="#6a5eb8"/>
<rect x="207.88" y="865.10" width="2.33" height="10.50" fill="#f26a21"/>
<rect x="213.14" y="865.10" width="3.03" height="10.50" fill="#f9ad1e"/>
<rect x="216.12" y="865.10" width="2.33" height="10.50" fill="#6a5eb8"/>
<rect x="218.40" y="865.10" width="7.93" height="10.50" fill="#f9ad1e"/>
<rect x="231.89" y="865.10" width="5.31" height="10.50" fill="#f26a21"/>
<rect x="237.14" y="865.10" width="2.68" height="10.50" fill="#6b87cf"/>
<rect x="245.20" y="865.10" width="5.31" height="10.50" fill="#f26a21"/>
<rect x="258.69" y="865.10" width="2.33" height="10.50" fill="#6a5eb8"/>
<rect x="263.95" y="865.10" width="5.31" height="10.50" fill="#6a5eb8"/>
<rect x="269.20" y="865.10" width="2.68" height="10.50" fill="#f26a21"/>
<rect x="287.60" y="865.10" width="3.20" height="10.50" fill="#6a5eb8"/>
<rect x="293.20" y="865.10" width="2.68" height="10.50" fill="#f26a21"/>
<rect x="295.83" y="865.10" width="3.20" height="10.50" fill="#f9ad1e"/>
<rect x="298.98" y="865.10" width="4.78" height="10.50" fill="#6a5eb8"/>
<rect x="309.50" y="865.10" width="2.68" height="10.50" fill="#6a5eb8"/>
<rect x="312.12" y="865.10" width="2.68" height="10.50" fill="#6b87cf"/>
<rect x="317.26" y="865.10" width="2.68" height="10.50" fill="#f26a21"/>
<rect x="319.88" y="865.10" width="2.68" height="10.50" fill="#6b87cf"/>
<rect x="322.51" y="865.10" width="3.20" height="10.50" fill="#f26a21"/>
<rect x="330.75" y="865.10" width="2.68" height="10.50" fill="#f9ad1e"/>
<rect x="336.00" y="865.10" width="2.68" height="10.50" fill="#6a5eb8"/>
<rect x="349.67" y="865.10" width="2.68" height="10.50" fill="#6b87cf"/>
<rect x="352.29" y="865.10" width="2.68" height="10.50" fill="#f26a21"/>
<rect x="357.55" y="865.10" width="2.68" height="10.50" fill="#f26a21"/>
<rect x="362.81" y="865.10" width="2.68" height="10.50" fill="#f26a21"/>
<rect x="371.04" y="865.10" width="5.31" height="10.50" fill="#f9ad1e"/>
<rect x="381.73" y="865.10" width="2.15" height="10.50" fill="#6b87cf"/>
<rect x="386.81" y="865.10" width="2.68" height="10.50" fill="#6a5eb8"/>
<rect x="392.24" y="865.10" width="2.68" height="10.50" fill="#f26a21"/>
<rect x="400.12" y="865.10" width="3.03" height="10.50" fill="#6b87cf"/>
<rect x="403.10" y="865.10" width="4.96" height="10.50" fill="#6a5eb8"/>
<rect x="408.01" y="865.10" width="2.68" height="10.50" fill="#6b87cf"/>
<rect x="416.24" y="865.10" width="2.68" height="10.50" fill="#6a5eb8"/>
<rect x="418.87" y="865.10" width="2.68" height="10.50" fill="#6b87cf"/>
<rect x="424.12" y="865.10" width="1.93" height="10.50" fill="#f9ad1e"/>
<rect x="426.00" y="865.10" width="1.06" height="10.50" fill="#f9ad1e"/>
<rect x="427.01" y="865.10" width="2.68" height="10.50" fill="#f26a21"/>
<rect x="434.89" y="865.10" width="2.68" height="10.50" fill="#f26a21"/>
<rect x="437.52" y="865.10" width="2.68" height="10.50" fill="#6b87cf"/>
<rect x="453.64" y="865.10" width="5.31" height="10.50" fill="#f9ad1e"/>
<rect x="458.89" y="865.10" width="5.83" height="10.50" fill="#6a5eb8"/>
<rect x="475.19" y="865.10" width="5.31" height="10.50" fill="#6a5eb8"/>
<rect x="480.44" y="865.10" width="5.31" height="10.50" fill="#6b87cf"/>
<rect x="485.70" y="865.10" width="2.68" height="10.50" fill="#f9ad1e"/>
<rect x="490.95" y="865.10" width="2.68" height="10.50" fill="#f9ad1e"/>
<rect x="496.21" y="865.10" width="5.31" height="10.50" fill="#6b87cf"/>
<rect x="501.46" y="865.10" width="5.66" height="10.50" fill="#6a5eb8"/>
<rect x="510.22" y="865.10" width="2.68" height="10.50" fill="#6b87cf"/>
<rect x="512.85" y="865.10" width="2.68" height="10.50" fill="#6a5eb8"/>
<rect x="515.48" y="865.10" width="5.31" height="10.50" fill="#f26a21"/>
<rect x="520.74" y="865.10" width="3.01" height="10.50" fill="#f9ad1e"/>
<rect x="92.4" y="865.1" width="431.30" height="10.5" fill="none" stroke="#7d7d7d" stroke-width="0.7"/>
<rect x="92.40" y="887.00" width="431.30" height="10.50" fill="#ffffff"/>
<rect x="92.40" y="887.00" width="2.66" height="10.50" fill="#fdd2a4"/>
<rect x="95.01" y="887.00" width="2.15" height="10.50" fill="#dd8674"/>
<rect x="97.11" y="887.00" width="3.55" height="10.50" fill="#7a0d1b"/>
<rect x="100.61" y="887.00" width="3.20" height="10.50" fill="#dd8674"/>
<rect x="103.77" y="887.00" width="7.93" height="10.50" fill="#d52b27"/>
<rect x="111.65" y="887.00" width="2.68" height="10.50" fill="#7a0d1b"/>
<rect x="114.28" y="887.00" width="2.68" height="10.50" fill="#d52b27"/>
<rect x="119.53" y="887.00" width="2.68" height="10.50" fill="#7a0d1b"/>
<rect x="122.16" y="887.00" width="2.68" height="10.50" fill="#dd8674"/>
<rect x="127.77" y="887.00" width="5.48" height="10.50" fill="#d52b27"/>
<rect x="133.20" y="887.00" width="2.50" height="10.50" fill="#dd8674"/>
<rect x="135.65" y="887.00" width="2.85" height="10.50" fill="#fdd2a4"/>
<rect x="138.46" y="887.00" width="2.15" height="10.50" fill="#dd8674"/>
<rect x="140.56" y="887.00" width="3.20" height="10.50" fill="#fdd2a4"/>
<rect x="143.71" y="887.00" width="3.03" height="10.50" fill="#d52b27"/>
<rect x="146.69" y="887.00" width="2.33" height="10.50" fill="#7a0d1b"/>
<rect x="151.95" y="887.00" width="2.33" height="10.50" fill="#fdd2a4"/>
<rect x="154.22" y="887.00" width="2.68" height="10.50" fill="#dd8674"/>
<rect x="159.83" y="887.00" width="2.68" height="10.50" fill="#fdd2a4"/>
<rect x="162.46" y="887.00" width="2.68" height="10.50" fill="#d52b27"/>
<rect x="167.71" y="887.00" width="2.68" height="10.50" fill="#d52b27"/>
<rect x="175.60" y="887.00" width="7.93" height="10.50" fill="#dd8674"/>
<rect x="183.48" y="887.00" width="2.68" height="10.50" fill="#d52b27"/>
<rect x="189.09" y="887.00" width="2.33" height="10.50" fill="#d52b27"/>
<rect x="191.36" y="887.00" width="2.68" height="10.50" fill="#dd8674"/>
<rect x="193.99" y="887.00" width="8.81" height="10.50" fill="#fdd2a4"/>
<rect x="202.75" y="887.00" width="1.30" height="10.50" fill="#dd8674"/>
<rect x="204.00" y="887.00" width="0.96" height="10.50" fill="#fdd2a4"/>
<rect x="207.88" y="887.00" width="2.33" height="10.50" fill="#d52b27"/>
<rect x="213.14" y="887.00" width="2.68" height="10.50" fill="#dd8674"/>
<rect x="218.40" y="887.00" width="2.68" height="10.50" fill="#dd8674"/>
<rect x="221.02" y="887.00" width="2.68" height="10.50" fill="#d52b27"/>
<rect x="223.65" y="887.00" width="2.68" height="10.50" fill="#dd8674"/>
<rect x="231.89" y="887.00" width="5.31" height="10.50" fill="#d52b27"/>
<rect x="237.14" y="887.00" width="2.68" height="10.50" fill="#7a0d1b"/>
<rect x="248.18" y="887.00" width="2.33" height="10.50" fill="#dd8674"/>
<rect x="258.69" y="887.00" width="2.33" height="10.50" fill="#dd8674"/>
<rect x="263.95" y="887.00" width="5.31" height="10.50" fill="#fdd2a4"/>
<rect x="269.20" y="887.00" width="2.68" height="10.50" fill="#dd8674"/>
<rect x="287.60" y="887.00" width="3.20" height="10.50" fill="#fdd2a4"/>
<rect x="293.20" y="887.00" width="2.68" height="10.50" fill="#d52b27"/>
<rect x="298.46" y="887.00" width="2.68" height="10.50" fill="#dd8674"/>
<rect x="301.09" y="887.00" width="2.68" height="10.50" fill="#d52b27"/>
<rect x="309.50" y="887.00" width="5.31" height="10.50" fill="#d52b27"/>
<rect x="317.26" y="887.00" width="5.31" height="10.50" fill="#fdd2a4"/>
<rect x="322.51" y="887.00" width="3.20" height="10.50" fill="#d52b27"/>
<rect x="330.75" y="887.00" width="2.68" height="10.50" fill="#d52b27"/>
<rect x="333.37" y="887.00" width="2.68" height="10.50" fill="#7a0d1b"/>
<rect x="349.67" y="887.00" width="2.68" height="10.50" fill="#fdd2a4"/>
<rect x="352.29" y="887.00" width="2.68" height="10.50" fill="#dd8674"/>
<rect x="357.55" y="887.00" width="2.68" height="10.50" fill="#dd8674"/>
<rect x="373.67" y="887.00" width="2.68" height="10.50" fill="#dd8674"/>
<rect x="381.73" y="887.00" width="2.15" height="10.50" fill="#dd8674"/>
<rect x="400.12" y="887.00" width="2.68" height="10.50" fill="#fdd2a4"/>
<rect x="416.24" y="887.00" width="5.31" height="10.50" fill="#fdd2a4"/>
<rect x="424.12" y="887.00" width="1.93" height="10.50" fill="#fdd2a4"/>
<rect x="426.00" y="887.00" width="1.06" height="10.50" fill="#fdd2a4"/>
<rect x="453.64" y="887.00" width="2.68" height="10.50" fill="#fdd2a4"/>
<rect x="456.26" y="887.00" width="2.68" height="10.50" fill="#dd8674"/>
<rect x="458.89" y="887.00" width="2.68" height="10.50" fill="#fdd2a4"/>
<rect x="461.52" y="887.00" width="3.20" height="10.50" fill="#d52b27"/>
<rect x="485.70" y="887.00" width="2.68" height="10.50" fill="#fdd2a4"/>
<rect x="490.95" y="887.00" width="2.68" height="10.50" fill="#fdd2a4"/>
<rect x="496.21" y="887.00" width="5.31" height="10.50" fill="#d52b27"/>
<rect x="501.46" y="887.00" width="2.68" height="10.50" fill="#fdd2a4"/>
<rect x="504.09" y="887.00" width="3.03" height="10.50" fill="#d52b27"/>
<rect x="515.48" y="887.00" width="2.68" height="10.50" fill="#d52b27"/>
<rect x="520.74" y="887.00" width="1.80" height="10.50" fill="#dd8674"/>
<rect x="92.4" y="887.0" width="431.30" height="10.5" fill="none" stroke="#7d7d7d" stroke-width="0.7"/>
<text transform="translate(531.00,850.60) scale(0.88,1)" font-size="9.2" text-anchor="start" fill="#1d74bb" font-weight="bold">Category</text>
<text transform="translate(531.00,873.60) scale(0.88,1)" font-size="9.2" text-anchor="start" fill="#1d74bb" font-weight="bold">Site</text>
<text transform="translate(531.00,895.60) scale(0.88,1)" font-size="9.2" text-anchor="start" fill="#1d74bb" font-weight="bold">Stage</text>
<text transform="translate(578.40,530.40) scale(0.88,1)" font-size="8.5" text-anchor="start" fill="#1d74bb" font-weight="bold">VAF</text>
<text transform="translate(578.40,543.80) scale(0.88,1)" font-size="7.4" text-anchor="start" fill="#555" font-weight="normal">0.04</text>
<text transform="translate(624.60,543.80) scale(0.88,1)" font-size="7.4" text-anchor="middle" fill="#555" font-weight="normal">0.02</text>
<text transform="translate(670.00,543.80) scale(0.88,1)" font-size="7.4" text-anchor="end" fill="#555" font-weight="normal">0</text>
<rect x="579.70" y="548.20" width="8.18" height="10.00" fill="#6a0a24"/>
<rect x="587.83" y="548.20" width="8.18" height="10.00" fill="#82283a"/>
<rect x="595.96" y="548.20" width="8.18" height="10.00" fill="#95434f"/>
<rect x="604.09" y="548.20" width="8.18" height="10.00" fill="#a96168"/>
<rect x="612.22" y="548.20" width="8.18" height="10.00" fill="#bc7e83"/>
<rect x="620.35" y="548.20" width="8.18" height="10.00" fill="#cc9da0"/>
<rect x="628.48" y="548.20" width="8.18" height="10.00" fill="#dcbcc0"/>
<rect x="636.61" y="548.20" width="8.18" height="10.00" fill="#ecdcdd"/>
<rect x="644.74" y="548.20" width="8.18" height="10.00" fill="#e8e6ec"/>
<rect x="652.87" y="548.20" width="8.18" height="10.00" fill="#7c82a8"/>
<rect x="661.00" y="548.20" width="8.18" height="10.00" fill="#1f3668"/>
<rect x="579.7" y="548.2" width="89.4" height="10.0" fill="none" stroke="#8a8a8a" stroke-width="0.5"/>
<text transform="translate(578.40,579.60) scale(0.88,1)" font-size="9.2" text-anchor="start" fill="#1d74bb" font-weight="bold">Category</text>
<rect x="579.70" y="586.90" width="4.60" height="9.40" fill="#b43a9e" stroke="#808080" stroke-width="0.6" rx="0.6"/>
<text transform="translate(590.60,594.10) scale(0.88,1)" font-size="8.1" text-anchor="start" fill="#555" font-weight="normal">Control</text>
<rect x="579.70" y="602.10" width="4.60" height="9.40" fill="#3b8fd6" stroke="#808080" stroke-width="0.6" rx="0.6"/>
<text transform="translate(590.60,609.30) scale(0.88,1)" font-size="8.1" text-anchor="start" fill="#555" font-weight="normal">CRC+</text>
<rect x="579.70" y="616.90" width="4.60" height="9.40" fill="#5ec9d6" stroke="#808080" stroke-width="0.6" rx="0.6"/>
<text transform="translate(590.60,624.10) scale(0.88,1)" font-size="8.1" text-anchor="start" fill="#555" font-weight="normal">E-Polyps+</text>
<rect x="579.70" y="632.10" width="4.60" height="9.40" fill="#6dbf4a" stroke="#808080" stroke-width="0.6" rx="0.6"/>
<text transform="translate(590.60,639.30) scale(0.88,1)" font-size="8.1" text-anchor="start" fill="#555" font-weight="normal">L-Polyps+</text>
<rect x="579.70" y="646.70" width="4.60" height="9.40" fill="#a8a8a8" stroke="#808080" stroke-width="0.6" rx="0.6"/>
<text transform="translate(590.60,653.90) scale(0.88,1)" font-size="8.1" text-anchor="start" fill="#555" font-weight="normal">C+ Other</text>
<rect x="579.70" y="661.90" width="4.60" height="9.40" fill="#ffffff" stroke="#808080" stroke-width="0.6" rx="0.6"/>
<text transform="translate(590.60,669.10) scale(0.88,1)" font-size="8.1" text-anchor="start" fill="#555" font-weight="normal">No CRC</text>
<text transform="translate(578.40,697.60) scale(0.88,1)" font-size="9.2" text-anchor="start" fill="#1d74bb" font-weight="bold">Site</text>
<rect x="579.70" y="704.90" width="4.60" height="9.40" fill="#ffffff" stroke="#808080" stroke-width="0.6" rx="0.6"/>
<text transform="translate(590.60,712.10) scale(0.88,1)" font-size="8.1" text-anchor="start" fill="#555" font-weight="normal">None</text>
<rect x="579.70" y="720.00" width="4.60" height="9.40" fill="#f9ad1e" stroke="#808080" stroke-width="0.6" rx="0.6"/>
<text transform="translate(590.60,727.20) scale(0.88,1)" font-size="8.1" text-anchor="start" fill="#555" font-weight="normal">Right</text>
<rect x="579.70" y="735.30" width="4.60" height="9.40" fill="#f26a21" stroke="#808080" stroke-width="0.6" rx="0.6"/>
<text transform="translate(590.60,742.50) scale(0.88,1)" font-size="8.1" text-anchor="start" fill="#555" font-weight="normal">Mid</text>
<rect x="579.70" y="750.50" width="4.60" height="9.40" fill="#6a5eb8" stroke="#808080" stroke-width="0.6" rx="0.6"/>
<text transform="translate(590.60,757.70) scale(0.88,1)" font-size="8.1" text-anchor="start" fill="#555" font-weight="normal">Left</text>
<rect x="579.70" y="765.60" width="4.60" height="9.40" fill="#6b87cf" stroke="#808080" stroke-width="0.6" rx="0.6"/>
<text transform="translate(590.60,772.80) scale(0.88,1)" font-size="8.1" text-anchor="start" fill="#555" font-weight="normal">Rectum</text>
<rect x="579.70" y="780.90" width="4.60" height="9.40" fill="#a8a8a8" stroke="#808080" stroke-width="0.6" rx="0.6"/>
<text transform="translate(590.60,788.10) scale(0.88,1)" font-size="8.1" text-anchor="start" fill="#555" font-weight="normal">Unknown</text>
<text transform="translate(578.40,815.50) scale(0.88,1)" font-size="9.2" text-anchor="start" fill="#1d74bb" font-weight="bold">Stage</text>
<rect x="579.70" y="825.80" width="4.60" height="9.40" fill="#ffffff" stroke="#808080" stroke-width="0.6" rx="0.6"/>
<text transform="translate(590.60,833.00) scale(0.88,1)" font-size="8.1" text-anchor="start" fill="#555" font-weight="normal">None</text>
<rect x="579.70" y="841.60" width="4.60" height="9.40" fill="#fdd2a4" stroke="#808080" stroke-width="0.6" rx="0.6"/>
<text transform="translate(590.60,848.80) scale(0.88,1)" font-size="8.1" text-anchor="start" fill="#555" font-weight="normal">Stage 1</text>
<rect x="579.70" y="856.60" width="4.60" height="9.40" fill="#dd8674" stroke="#808080" stroke-width="0.6" rx="0.6"/>
<text transform="translate(590.60,863.80) scale(0.88,1)" font-size="8.1" text-anchor="start" fill="#555" font-weight="normal">Stage 2</text>
<rect x="579.70" y="872.10" width="4.60" height="9.40" fill="#d52b27" stroke="#808080" stroke-width="0.6" rx="0.6"/>
<text transform="translate(590.60,879.30) scale(0.88,1)" font-size="8.1" text-anchor="start" fill="#555" font-weight="normal">Stage 3</text>
<rect x="579.70" y="887.70" width="4.60" height="9.40" fill="#7a0d1b" stroke="#808080" stroke-width="0.6" rx="0.6"/>
<text transform="translate(590.60,894.90) scale(0.88,1)" font-size="8.1" text-anchor="start" fill="#555" font-weight="normal">Stage 4</text>
</svg>
</body></html>
